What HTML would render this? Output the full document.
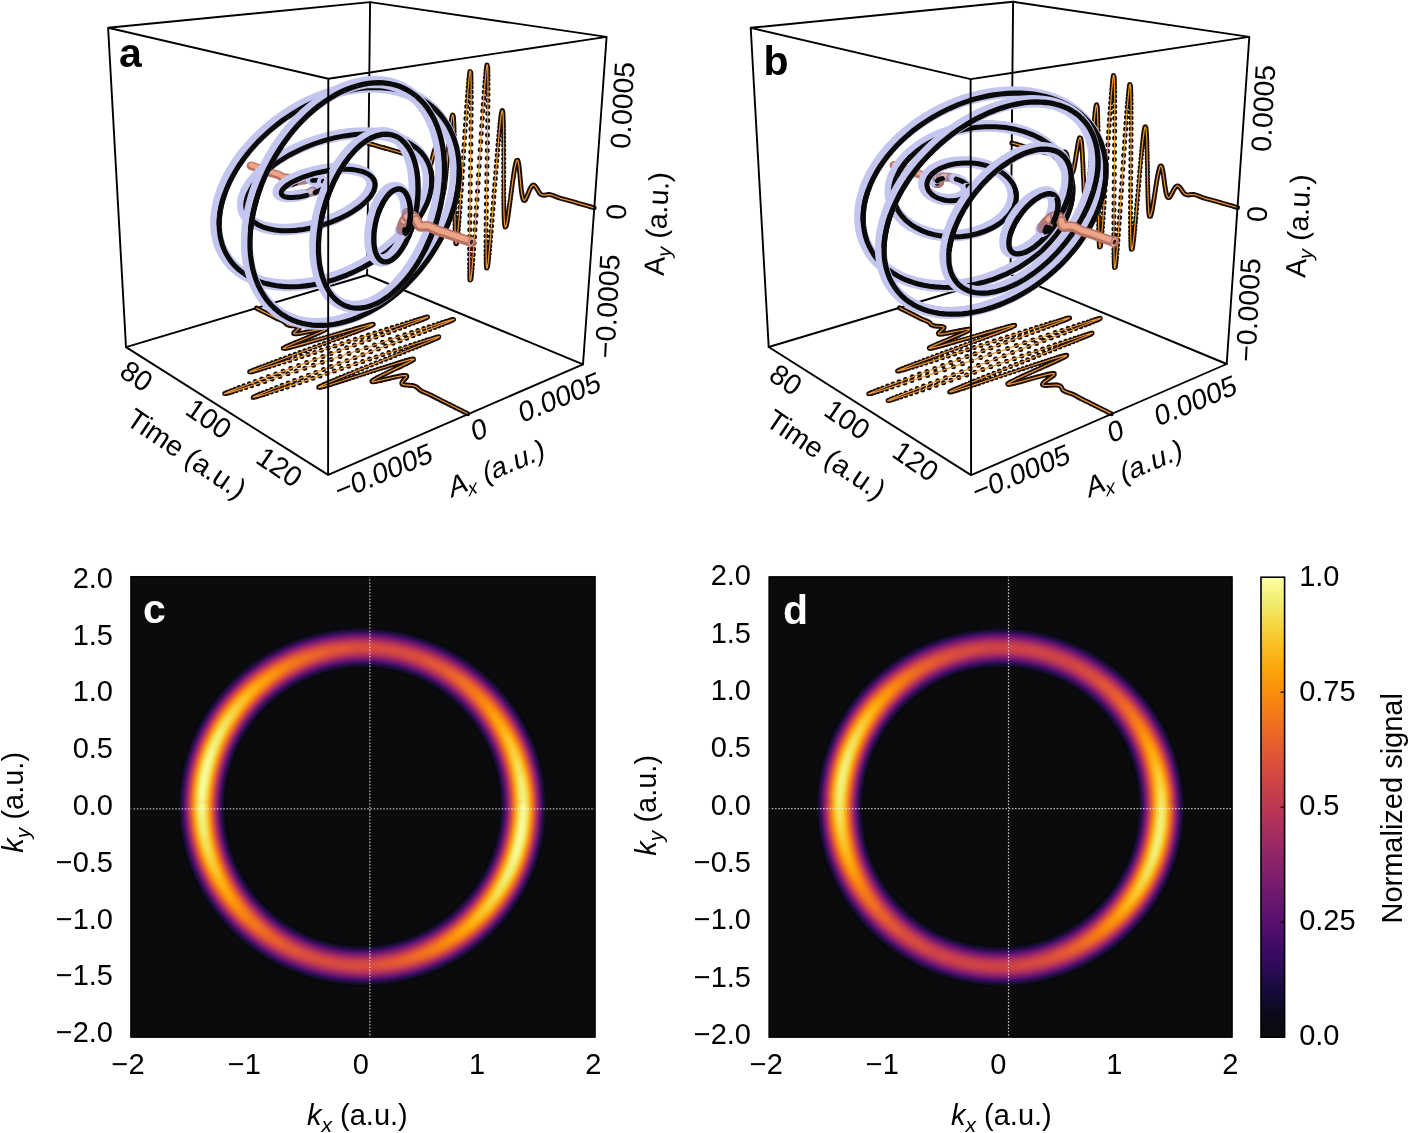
<!DOCTYPE html>
<html><head><meta charset="utf-8"><style>html,body{margin:0;padding:0;background:#fff;}svg{display:block;}</style></head>
<body><svg width="1409" height="1133" viewBox="0 0 1409 1133" style="will-change:transform">
<defs><filter id="sm" x="0" y="0" width="1" height="1"><feGaussianBlur stdDeviation="1.5"/></filter></defs>
<path d="M583.0 364.3L367.1 275.0M367.1 275.0L126.0 347.1M367.1 275.0L370.1 2.1" fill="none" stroke="#000" stroke-width="1.9" stroke-linecap="round"/>
<path d="M256.4 308.1h0m0.7 0.4h0m0.8 0.4h0m0.8 0.3h0m0.7 0.4h0m0.8 0.4h0m0.7 0.4h0m0.8 0.3h0m0.7 0.4h0m0.8 0.4h0m0.7 0.4h0m0.8 0.4h0m0.8 0.3h0m0.7 0.4h0m0.8 0.4h0m0.8 0.4h0m0.8 0.4h0m0.7 0.3h0m0.8 0.4h0m0.8 0.4h0m0.7 0.4h0m0.8 0.4h0m0.7 0.4h0m0.8 0.4h0m0.7 0.4h0m0.8 0.4h0m0.8 0.4h0m0.8 0.4h0m0.8 0.4h0m0.9 0.3h0m0.8 0.4h0m0.9 0.3h0m0.9 0.4h0m0.9 0.4h0m0.8 0.4h0m0.8 0.4h0m0.7 0.5h0m0.7 0.6h0m0.6 0.6h0m0.5 0.6h0m0.7 0.6h0m0.7 0.4h0m0.9 0.4h0m0.9 0.2h0m0.8 0.1h0m0.9 0.2h0m1 0h0m1 0.1h0m1 0.1h0m1.1 0.1h0m1 0h0m0.9 0.1h0m0.8 0.2h0m0.9 0.2h0m0.6 0.6h0m-0.3 0.9h0m-0.6 0.8h0m-0.7 0.6h0m-0.8 0.7h0m-0.9 0.7h0m-0.9 0.6h0m-0.7 0.7h0m-0.6 0.6h0m-0.3 0.7h0m1 0.4h0m1.2 0h0m1.1 0h0m1.3-0.2h0m1.6-0.2h0m0.8-0.2h0m1-0.1h0m0.9-0.2h0m1-0.2h0m1-0.2h0m1.1-0.2h0m1.1-0.2h0m1.1-0.2h0m1.1-0.3h0m1.2-0.2h0m1.1-0.3h0m1.2-0.2h0m1.1-0.2h0m1.2-0.3h0m1.1-0.2h0m1.1-0.2h0m1-0.2h0m1.1-0.2h0m0.9-0.2h0m1-0.2h0m0.8-0.1h0m0.8-0.2h0m1.4-0.1h0m1.1-0.1h0m0.9 0.1h0m-0.7 0.9h0m-1 0.6h0m-1.5 0.8h0m-1 0.5h0m-1 0.4h0m-1.1 0.5h0m-1.2 0.6h0m-1.3 0.5h0m-1.4 0.6h0m-1.5 0.7h0m-1.6 0.6h0m-1.6 0.7h0m-1.6 0.7h0m-1.8 0.7h0m-1.7 0.7h0m-1.8 0.7h0m-1.7 0.8h0m-1.8 0.7h0m-1.8 0.7h0m-1.7 0.7h0m-1.7 0.7h0m-1.7 0.7h0m-1.5 0.7h0m-1.5 0.6h0m-1.4 0.6h0m-1.3 0.6h0m-1.2 0.5h0m-1 0.5h0m-0.9 0.5h0m-0.7 0.4h0m-1 0.6h0m1.1 0.3h0m0.8-0.1h0m1.1-0.2h0m1.2-0.3h0m1.5-0.3h0m1.7-0.4h0m1.9-0.5h0m2.1-0.6h0m2.2-0.6h0m2.5-0.7h0m2.6-0.7h0m2.7-0.8h0m2.9-0.8h0m3.1-0.9h0m3.1-0.9h0m3.2-0.9h0m3.3-1h0m3.4-0.9h0m3.4-1h0m3.4-1h0m3.4-1h0m3.4-1h0m3.3-1h0m3.3-1h0m3.1-0.9h0m3.1-0.9h0m3-0.8h0m2.8-0.8h0m2.7-0.8h0m2.5-0.7h0m2.3-0.6h0m2.1-0.6h0m1.8-0.5h0m1.7-0.4h0m1.4-0.3h0m1.1-0.3h0m0.8-0.1h0m0.9 0h0m-0.9 0.7h0m-0.9 0.4h0m-1.2 0.6h0m-1.5 0.7h0m-1.9 0.7h0m-2.1 0.9h0m-2.4 0.9h0m-2.7 1.1h0m-3 1.1h0m-3.3 1.3h0m-3.5 1.3h0m-3.7 1.4h0m-4 1.5h0m-4.2 1.6h0m-4.4 1.6h0m-4.5 1.7h0m-4.7 1.7h0m-4.7 1.8h0m-4.9 1.8h0m-4.9 1.8h0m-5 1.8h0m-4.9 1.8h0m-4.9 1.8h0m-4.9 1.8h0m-4.7 1.8h0m-4.6 1.7h0m-4.4 1.6h0m-4.2 1.6h0m-3.9 1.5h0m-3.6 1.4h0m-3.4 1.3h0m-2.9 1.1h0m-2.6 1.1h0m-2.2 0.9h0m-1.8 0.7h0m-1.2 0.6h0m-0.9 0.4h0m1.8 0.1h0m1.7-0.5h0m2.3-0.6h0m2.7-0.8h0m3.2-0.9h0m3.7-1.1h0m4.1-1.3h0m4.6-1.4h0m4.9-1.5h0m5.3-1.7h0m5.7-1.7h0m5.9-1.9h0m6.2-2h0m6.4-2h0m6.5-2.1h0m6.7-2.2h0m6.8-2.1h0m6.8-2.2h0m6.9-2.2h0m6.8-2.2h0m6.7-2.2h0m6.6-2.1h0m6.5-2.1h0m6.3-2h0m6-1.9h0m5.8-1.9h0m5.6-1.8h0m5.2-1.6h0m4.9-1.5h0m4.5-1.5h0m4.1-1.2h0m3.8-1.2h0m3.3-1h0m2.8-0.8h0m2.4-0.7h0m1.9-0.5h0m1.5-0.4h0m0.9-0.2h0m-1.2 1h0m-1.6 0.7h0m-2.1 0.9h0m-2.6 1h0m-3.1 1.2h0m-3.6 1.4h0m-4 1.5h0m-4.5 1.8h0m-5 1.8h0m-5.4 2h0m-5.8 2.2h0m-6.2 2.3h0m-6.5 2.4h0m-6.9 2.5h0m-7.2 2.7h0m-7.4 2.7h0m-7.7 2.8h0m-7.8 2.9h0m-8 2.9h0m-8 2.9h0m-8.1 3h0m-8.1 3h0m-8 2.9h0m-7.9 2.9h0m-7.7 2.9h0m-7.4 2.7h0m-7.2 2.7h0m-6.8 2.5h0m-6.4 2.4h0m-5.9 2.2h0m-5.5 2.1h0m-4.8 1.8h0m-4.2 1.7h0m-3.6 1.4h0m-2.9 1.2h0m-2.2 0.9h0m-1.5 0.7h0m2 0h0m2.4-0.7h0m3.1-0.9h0m3.9-1.2h0m4.5-1.5h0m5.2-1.6h0m5.8-1.9h0m6.3-2h0m6.9-2.3h0m7.3-2.4h0m7.7-2.5h0m8.1-2.7h0m8.3-2.8h0m8.6-2.8h0m8.7-2.9h0m8.8-3h0m8.9-2.9h0m8.9-3h0m8.8-3h0m8.7-2.9h0m8.5-2.8h0m8.4-2.8h0m8-2.7h0m7.8-2.6h0m7.5-2.5h0m7.1-2.3h0m6.7-2.3h0m6.3-2h0m5.9-1.9h0m5.3-1.8h0m4.9-1.6h0m4.4-1.4h0m3.9-1.2h0m3.3-1h0m2.8-0.9h0m2.3-0.6h0m1.6-0.5h0m1.2-0.2h0m-1.2 0.9h0m-1.6 0.8h0m-2.2 0.9h0m-2.8 1.1h0m-3.2 1.3h0m-3.8 1.5h0m-4.2 1.7h0m-4.8 1.8h0m-5.1 2h0m-5.6 2.1h0m-6 2.3h0m-6.3 2.4h0m-6.7 2.5h0m-7 2.6h0m-7.2 2.8h0m-7.5 2.8h0m-7.6 2.9h0m-7.8 2.9h0m-7.9 3h0m-7.9 3h0m-8 2.9h0m-7.8 3h0m-7.8 2.9h0m-7.6 2.9h0m-7.4 2.8h0m-7.1 2.7h0m-6.8 2.6h0m-6.4 2.5h0m-6 2.3h0m-5.6 2.2h0m-5 1.9h0m-4.5 1.8h0m-3.9 1.6h0m-3.3 1.3h0m-2.7 1.2h0m-2 0.9h0m-1.3 0.6h0m-0.7 0.6h0m2.1-0.4h0m2-0.6h0m2.7-0.8h0m3.2-0.9h0m3.8-1.2h0m4.3-1.4h0m4.9-1.6h0m5.3-1.7h0m5.7-1.9h0m6-2h0m6.4-2.2h0m6.6-2.2h0m6.8-2.3h0m7-2.3h0m7.1-2.4h0m7.2-2.4h0m7.2-2.5h0m7.1-2.4h0m7.1-2.4h0m7-2.4h0m6.9-2.3h0m6.6-2.2h0m6.5-2.2h0m6.2-2.1h0m5.9-2h0m5.6-1.9h0m5.3-1.7h0m5-1.7h0m4.6-1.5h0m4.2-1.4h0m3.9-1.2h0m3.4-1.1h0m3.1-0.9h0m2.6-0.8h0m2.2-0.7h0m1.8-0.5h0m1.3-0.3h0m1-0.2h0m-0.4 0.7h0m-1.1 0.6h0m-1.4 0.7h0m-1.9 0.8h0m-2.2 0.9h0m-2.5 1.1h0m-2.8 1.2h0m-3.1 1.3h0m-3.5 1.4h0m-3.6 1.5h0m-3.9 1.6h0m-4.1 1.6h0m-4.3 1.8h0m-4.5 1.8h0m-4.5 1.8h0m-4.7 1.9h0m-4.7 1.9h0m-4.8 1.9h0m-4.8 1.9h0m-4.8 1.9h0m-4.7 1.9h0m-4.7 1.9h0m-4.5 1.8h0m-4.4 1.8h0m-4.2 1.7h0m-4.1 1.6h0m-3.8 1.6h0m-3.5 1.5h0m-3.3 1.4h0m-3.1 1.2h0m-2.7 1.2h0m-2.4 1.1h0m-2 0.9h0m-1.7 0.8h0m-1.4 0.7h0m-1 0.5h0m-1 0.7h0m1.2 0.1h0m1.1-0.2h0m1.4-0.4h0m1.7-0.4h0m2-0.6h0m2.2-0.6h0m2.5-0.8h0m2.6-0.8h0m2.9-0.9h0m3.1-1h0m3.2-1h0m3.4-1h0m3.4-1.1h0m3.5-1.2h0m3.6-1.1h0m3.6-1.2h0m3.6-1.2h0m3.6-1.2h0m3.6-1.1h0m3.5-1.1h0m3.5-1.2h0m3.3-1h0m3.3-1.1h0m3.1-1h0m3-0.9h0m2.9-0.9h0m2.7-0.9h0m2.5-0.7h0m2.4-0.7h0m2.1-0.7h0m2-0.6h0m1.8-0.5h0m1.5-0.4h0m1.4-0.3h0m1.2-0.3h0m1-0.2h0m1.3-0.2h0m0 0.9h0m-1.2 0.7h0m-0.8 0.5h0m-1 0.5h0m-1.1 0.6h0m-1.2 0.6h0m-1.3 0.7h0m-1.4 0.7h0m-1.5 0.7h0m-1.6 0.8h0m-1.6 0.8h0m-1.7 0.8h0m-1.7 0.8h0m-1.8 0.8h0m-1.7 0.8h0m-1.8 0.9h0m-1.7 0.8h0m-1.7 0.8h0m-1.7 0.8h0m-1.6 0.8h0m-1.6 0.7h0m-1.5 0.8h0m-1.4 0.7h0m-1.3 0.7h0m-1.3 0.6h0m-1.1 0.6h0m-1 0.6h0m-1 0.5h0m-0.8 0.5h0m-0.7 0.4h0m-1 0.8h0m-0.7 0.7h0m0.8 0.5h0m1-0.1h0m1.4-0.2h0m0.8-0.1h0m0.9-0.2h0m1-0.2h0m1-0.2h0m1.1-0.2h0m1.1-0.2h0m1.1-0.3h0m1.2-0.3h0m1.2-0.3h0m1.3-0.3h0m1.2-0.3h0m1.2-0.3h0m1.3-0.2h0m1.2-0.3h0m1.2-0.3h0m1.1-0.3h0m1.2-0.3h0m1.1-0.2h0m1.1-0.2h0m1-0.3h0m1-0.2h0m1-0.2h0m0.8-0.1h0m0.9-0.2h0m1.5-0.2h0m1.3-0.1h0m1-0.1h0m0.8 0.1h0m0.8 0.2h0m0.3 0.8h0m-0.5 0.8h0m-0.6 0.8h0m-0.8 0.8h0m-0.8 0.9h0m-0.8 0.8h0m-0.6 0.8h0m-0.5 0.7h0m-0.4 0.9h0m0.2 0.8h0m0.8 0.6h0m1 0.3h0m1 0.2h0m1.1 0.1h0m1.1 0.1h0m1.2 0.1h0m1.2 0.1h0m1.2 0.1h0m1.1 0.1h0m1 0.1h0m0.9 0.2h0m0.9 0.2h0m0.9 0.4h0m0.9 0.4h0m0.6 0.5h0m0.8 0.6h0m0.7 0.7h0m0.7 0.6h0m0.7 0.6h0m0.7 0.5h0m0.7 0.5h0m0.8 0.4h0m0.8 0.5h0m0.9 0.4h0m0.9 0.4h0m0.9 0.3h0m1 0.4h0m0.9 0.4h0m0.9 0.4h0m0.9 0.4h0m0.9 0.4h0m0.9 0.4h0m0.8 0.5h0m0.9 0.4h0m0.8 0.4h0m0.8 0.4h0m0.9 0.5h0m0.8 0.4h0m0.8 0.5h0m0.9 0.4h0m0.8 0.4h0m0.9 0.5h0m0.8 0.4h0m0.9 0.4h0m0.9 0.5h0m0.8 0.4h0m0.9 0.4h0m0.9 0.5h0m0.9 0.4h0m0.8 0.4h0m0.9 0.5h0m0.9 0.4h0m0.9 0.4h0m0.9 0.5h0m0.8 0.4h0m0.9 0.5h0m0.9 0.4h0m0.9 0.4h0m0.9 0.5h0m0.8 0.4h0m0.9 0.5h0m0.9 0.4h0m0.9 0.5h0m0.9 0.4h0m0.9 0.5h0m0.9 0.4h0m0.9 0.4h0m0.9 0.5h0m0.9 0.4h0m0.9 0.5h0m0.9 0.4h0m0.9 0.5h0m0.9 0.5h0m0.9 0.4h0" fill="none" stroke="#1a0d05" stroke-width="5.0" stroke-linecap="round"/>
<path d="M256.4 308.1l19.9 10.1 6.9 2.9 1.6 1.1 2.1 2.1 1.1 0.6 2.9 0.7 6.6 0.6 1.7 0.5 0.3 0.5 -0.3 0.8 -1.1 1.2 -3.9 3.3 -0.5 0.8 0.4 0.4 1.8 0.1 3.2-0.3 22.7-4.4 3.3-0.4 0.9 0.2 -0.3 0.6 -0.9 0.5 -5.1 2.5 -32.8 13.8 -3.2 1.7 -0.6 0.5 0.2 0.2 4.2-0.7 11.9-3.1 64-18.4 8.1-2.1 1.4-0.2 0.3 0.1 0 0.1 -1.8 1 -2.7 1.3 -15.4 6 -92 34.3 -9.5 3.8 -2.1 1 -0.3 0.3 0.2 0.1 1.9-0.3 6.7-1.9 25.8-7.9 126.9-40.4 14.2-4.2 2.4-0.6 0.5 0 -0.1 0.2 -1.6 0.8 -6.3 2.6 -20.2 7.7 -150.4 55.5 -21 8.2 -3.7 1.6 -0.6 0.4 0.1 0.1 2.5-0.5 5.5-1.6 25.7-8.2 160-53.2 27.7-8.9 6.7-2 1.7-0.3 -0.5 0.5 -5 2.2 -18.8 7.4 -113.8 43 -39.3 15.1 -19.4 7.8 -3.3 1.5 -0.7 0.4 0 0.2 2.1-0.4 7.9-2.3 24-7.8 128.1-43.1 17.2-5.4 5.3-1.5 1.5-0.2 0.1 0.1 -0.3 0.2 -3.2 1.7 -12.5 5.3 -66.1 26.6 -23.3 9.6 -11.9 5.2 -2.4 1.2 -1 0.7 0.1 0.2 0.4 0 1.8-0.3 7.3-2 70.4-22.4 11.2-3.2 2.2-0.5 1.7-0.1 0.2 0.2 -0.6 0.6 -4.1 2.3 -25.6 12.3 -6.6 3.4 -4.1 2.4 -0.8 0.7 -0.3 0.6 0.4 0.2 0.8 0.1 3.7-0.6 18.5-4.2 5.8-1.2 3.3-0.4 1.9 0.2 0.5 0.5 -0.3 1 -3.6 4.1 -1 1.4 -0.1 0.9 0.6 0.7 0.9 0.4 1.5 0.3 7.9 0.7 2.9 0.9 1.5 0.9 3.1 2.7 2 1.2 9 4 37.2 18.7" fill="none" stroke="#ee9630" stroke-width="1.2" stroke-linejoin="round"/>
<path d="M368.6 143.4h0m0.8 0.3h0m0.8 0.2h0m0.8 0.2h0m0.8 0.3h0m0.8 0.2h0m0.8 0.2h0m0.8 0.3h0m0.9 0.2h0m0.8 0.2h0m0.8 0.3h0m0.8 0.2h0m0.8 0.2h0m0.8 0.3h0m0.9 0.2h0m0.8 0.2h0m0.8 0.3h0m0.8 0.2h0m0.9 0.2h0m0.8 0.3h0m0.8 0.2h0m0.9 0.3h0m0.8 0.2h0m0.8 0.2h0m0.9 0.3h0m0.8 0.2h0m0.8 0.2h0m0.9 0.3h0m0.8 0.2h0m0.9 0.2h0m0.8 0.3h0m0.9 0.2h0m0.8 0.3h0m0.9 0.2h0m0.8 0.3h0m0.9 0.3h0m0.8 0.2h0m0.9 0.3h0m0.8 0.2h0m0.9 0.2h0m0.8 0.3h0m0.9 0.2h0m0.9 0.1h0m0.8 0.2h0m0.9 0.2h0m0.8 0.2h0m0.9 0.2h0m0.9 0.3h0m0.8 0.4h0m0.9 0.4h0m0.9 0.4h0m0.8 0.5h0m0.9 0.5h0m0.9 0.4h0m0.9 0.3h0m0.8 0.2h0m0.9-0.1h0m0.9-0.2h0m0.9-0.4h0m0.7-0.3h0m0.8-0.4h0m0.9-0.3h0m0.9-0.1h0m0.9 0.2h0m0.7 0.6h0m0.5 0.6h0m0.5 0.8h0m0.5 1h0m0.4 0.7h0m0.3 0.8h0m0.3 0.9h0m0.4 0.8h0m0.3 0.9h0m0.4 0.8h0m0.3 0.8h0m0.3 0.8h0m0.6 0.9h0m0.5 0.7h0m0.7 0.5h0m0.9-0.5h0m0.6-0.9h0m0.4-0.8h0m0.4-1h0m0.4-1.2h0m0.4-1.4h0m0.4-1.4h0m0.2-0.8h0m0.2-0.8h0m0.2-0.8h0m0.2-0.8h0m0.2-0.9h0m0.2-0.8h0m0.2-0.8h0m0.2-0.8h0m0.2-0.8h0m0.4-1.5h0m0.5-1.4h0m0.4-1.2h0m0.4-0.9h0m0.5-0.8h0m0.9 0.4h0m0.4 0.9h0m0.3 1.3h0m0.2 0.8h0m0.1 0.9h0m0.2 1h0m0.2 1.1h0m0.1 1.2h0m0.1 1.3h0m0.2 1.4h0m0.1 1.5h0m0.2 1.5h0m0.1 1.6h0m0.1 1.7h0m0.2 1.7h0m0.1 1.7h0m0.1 1.8h0m0.2 1.8h0m0.1 1.9h0m0.1 1.8h0m0.2 1.8h0m0.1 1.8h0m0.1 1.8h0m0.2 1.7h0m0.1 1.6h0m0.1 1.6h0m0.2 1.5h0m0.1 1.5h0m0.2 1.3h0m0.1 1.2h0m0.2 1.1h0m0.1 0.9h0m0.2 0.8h0m0.3 1.2h0m0.9-0.2h0m0.5-1.3h0m0.2-1h0m0.2-1.2h0m0.2-1.3h0m0.3-1.6h0m0.2-1.7h0m0.3-1.9h0m0.2-2.1h0m0.3-2.2h0m0.2-2.4h0m0.3-2.5h0m0.3-2.6h0m0.2-2.8h0m0.3-2.9h0m0.3-2.9h0m0.3-3.1h0m0.3-3h0m0.3-3.2h0m0.3-3.1h0m0.2-3.1h0m0.3-3.1h0m0.3-3.1h0m0.3-3h0m0.3-2.9h0m0.3-2.8h0m0.3-2.7h0m0.2-2.6h0m0.3-2.3h0m0.3-2.2h0m0.2-2h0m0.3-1.7h0m0.2-1.5h0m0.2-1.3h0m0.3-0.9h0m0.4-1.1h0m0.5 0.7h0m0.2 0.9h0m0.2 1.2h0m0.1 1.5h0m0.1 1.9h0m0.1 2.1h0m0.2 2.5h0m0.1 2.8h0m0 3.1h0m0.1 3.3h0m0.1 3.6h0m0.1 3.8h0m0 4.1h0m0.1 4.3h0m0 4.4h0m0 4.6h0m0.1 4.7h0m0 4.8h0m0 4.9h0m0 4.9h0m0.1 5h0m0 4.9h0m0 4.9h0m0 4.8h0m0.1 4.7h0m0 4.6h0m0 4.4h0m0.1 4.2h0m0 4h0m0.1 3.8h0m0.1 3.5h0m0 3.2h0m0.1 2.8h0m0.1 2.6h0m0.1 2.2h0m0.2 1.8h0m0.1 1.4h0m0.1 1h0m0.4 0.8h0m0.4-1h0m0.2-1.1h0m0.3-1.6h0m0.2-2h0m0.3-2.4h0m0.3-2.9h0m0.3-3.3h0m0.3-3.6h0m0.4-4.1h0m0.3-4.5h0m0.4-4.8h0m0.4-5.1h0m0.3-5.4h0m0.4-5.7h0m0.5-6h0m0.4-6.2h0m0.4-6.3h0m0.4-6.6h0m0.5-6.6h0m0.4-6.7h0m0.4-6.7h0m0.5-6.7h0m0.4-6.7h0m0.4-6.6h0m0.5-6.4h0m0.4-6.3h0m0.4-6h0m0.4-5.8h0m0.4-5.5h0m0.4-5.1h0m0.4-4.8h0m0.3-4.3h0m0.4-3.9h0m0.3-3.4h0m0.3-2.9h0m0.3-2.3h0m0.3-1.8h0m0.2-1.2h0m0.8 1.1h0m0.1 1.8h0m0.1 2.4h0m0.1 3h0m0.1 3.5h0m0 4.1h0m0 4.7h0m0.1 5.1h0m-0.1 5.6h0m0 6.1h0m0 6.4h0m-0.1 6.8h0m-0.1 7.1h0m0 7.4h0m-0.1 7.7h0m-0.1 7.8h0m-0.1 7.9h0m-0.2 8.1h0m-0.1 8h0m-0.1 8.1h0m-0.1 8h0m-0.1 7.9h0m-0.1 7.8h0m-0.1 7.5h0m-0.1 7.3h0m-0.1 7.1h0m0 6.7h0m-0.1 6.4h0m0 5.9h0m0 5.6h0m0 5.1h0m0 4.6h0m0 4h0m0.1 3.6h0m0 3h0m0.1 2.4h0m0.1 1.9h0m0.2 1.2h0m0.8-1h0m0.3-1.8h0m0.3-2.4h0m0.3-2.9h0m0.3-3.5h0m0.4-4.1h0m0.3-4.6h0m0.4-5.1h0m0.4-5.6h0m0.5-6h0m0.4-6.4h0m0.5-6.9h0m0.5-7.2h0m0.5-7.4h0m0.5-7.8h0m0.5-8h0m0.5-8.1h0m0.6-8.3h0m0.5-8.3h0m0.5-8.4h0m0.6-8.3h0m0.5-8.3h0m0.6-8.2h0m0.5-8h0m0.5-7.7h0m0.5-7.5h0m0.5-7.2h0m0.5-6.8h0m0.5-6.3h0m0.4-5.9h0m0.4-5.5h0m0.4-4.8h0m0.4-4.4h0m0.4-3.7h0m0.3-3.1h0m0.3-2.5h0m0.3-1.8h0m0.3-1.2h0m0.7 2.1h0m0.1 2.1h0m0.1 2.8h0m0.1 3.3h0m0 4h0m0 4.5h0m0 5h0m0 5.5h0m0 6h0m-0.1 6.3h0m-0.1 6.7h0m-0.1 7h0m-0.1 7.2h0m-0.1 7.5h0m-0.1 7.7h0m-0.1 7.7h0m-0.1 7.8h0m-0.2 7.9h0m-0.1 7.8h0m-0.1 7.8h0m-0.2 7.6h0m-0.1 7.5h0m-0.1 7.2h0m-0.1 7.1h0m-0.1 6.7h0m-0.1 6.4h0m0 6.1h0m-0.1 5.7h0m0 5.3h0m0 4.9h0m0 4.5h0m0 3.9h0m0.1 3.5h0m0.1 3h0m0 2.5h0m0.2 1.9h0m0.1 1.5h0m0.2 0.9h0m0.8-1.4h0m0.3-1.7h0m0.3-2h0m0.3-2.6h0m0.3-3h0m0.4-3.4h0m0.3-3.8h0m0.4-4.2h0m0.4-4.5h0m0.4-4.8h0m0.5-5.1h0m0.4-5.4h0m0.5-5.5h0m0.4-5.8h0m0.5-5.9h0m0.5-6h0m0.4-6.1h0m0.5-6.1h0m0.5-6.1h0m0.5-6.1h0m0.5-6h0m0.4-5.9h0m0.5-5.8h0m0.5-5.5h0m0.4-5.4h0m0.4-5.1h0m0.5-4.8h0m0.4-4.6h0m0.4-4.2h0m0.4-3.9h0m0.3-3.5h0m0.4-3.1h0m0.3-2.7h0m0.3-2.3h0m0.3-1.8h0m0.3-1.5h0m0.3-1h0m0.4-0.8h0m0.4 1h0m0.2 1h0m0.1 1.5h0m0.1 1.8h0m0.1 2.2h0m0.1 2.6h0m0.1 2.8h0m0.1 3.1h0m0 3.4h0m0.1 3.6h0m0 3.8h0m0 4h0m0.1 4.2h0m0 4.3h0m0 4.3h0m0 4.5h0m0 4.5h0m0 4.4h0m0 4.5h0m0 4.4h0m0 4.4h0m0 4.3h0m0 4.1h0m0 4h0m0 3.9h0m0.1 3.6h0m0 3.5h0m0.1 3.3h0m0 3h0m0.1 2.8h0m0.1 2.6h0m0.1 2.3h0m0.1 2.1h0m0.1 1.8h0m0.2 1.5h0m0.1 1.2h0m0.2 1h0m0.3 1.1h0m0.9-0.9h0m0.3-0.9h0m0.2-1h0m0.3-1.3h0m0.3-1.5h0m0.3-1.6h0m0.2-1.8h0m0.4-2h0m0.3-2.1h0m0.3-2.3h0m0.3-2.3h0m0.3-2.5h0m0.4-2.5h0m0.3-2.6h0m0.4-2.6h0m0.3-2.6h0m0.3-2.6h0m0.4-2.7h0m0.3-2.6h0m0.4-2.5h0m0.3-2.5h0m0.3-2.4h0m0.4-2.4h0m0.3-2.2h0m0.3-2.1h0m0.3-2h0m0.3-1.9h0m0.3-1.8h0m0.3-1.6h0m0.3-1.4h0m0.3-1.3h0m0.2-1.1h0m0.3-1h0m0.3-0.8h0m0.4-1h0m0.9-0.3h0m0.4 0.8h0m0.4 1.4h0m0.1 0.8h0m0.2 1h0m0.2 1h0m0.1 1.2h0m0.2 1.2h0m0.1 1.3h0m0.2 1.4h0m0.1 1.4h0m0.2 1.5h0m0.1 1.5h0m0.1 1.5h0m0.2 1.5h0m0.1 1.6h0m0.1 1.5h0m0.2 1.5h0m0.1 1.5h0m0.2 1.5h0m0.1 1.4h0m0.1 1.4h0m0.2 1.3h0m0.1 1.2h0m0.2 1.2h0m0.2 1.1h0m0.1 1.1h0m0.2 1h0m0.1 0.9h0m0.2 0.8h0m0.4 1.4h0m0.4 1h0m0.3 0.7h0m0.9 0.5h0m0.7-0.5h0m0.7-1h0m0.4-0.9h0m0.5-1h0m0.5-1.2h0m0.5-1.2h0m0.5-1.2h0m0.5-1.3h0m0.5-1.2h0m0.5-1.2h0m0.5-1h0m0.5-1h0m0.5-0.8h0m0.5-0.7h0m0.7-0.7h0m0.9-0.4h0m0.9 0.2h0m0.8 0.7h0m0.6 0.7h0m0.6 0.9h0m0.7 1h0m0.4 0.7h0m0.4 0.7h0m0.6 1.1h0m0.6 0.9h0m0.6 0.9h0m0.6 0.7h0m0.7 0.6h0m0.8 0.5h0m0.9 0.4h0m0.9 0.1h0m0.9 0h0m0.9-0.2h0m0.9-0.1h0m0.9-0.2h0m0.9-0.1h0m0.9 0h0m0.9 0h0m0.9 0.1h0m0.9 0.2h0m0.9 0.3h0m0.9 0.4h0m0.9 0.3h0m0.9 0.4h0m0.9 0.4h0m0.9 0.4h0m0.9 0.3h0m0.9 0.4h0m0.9 0.3h0m0.9 0.2h0m0.9 0.3h0m0.9 0.2h0m0.9 0.3h0m0.9 0.2h0m1 0.2h0m0.9 0.2h0m0.9 0.3h0m0.9 0.2h0m0.9 0.3h0m0.9 0.2h0m1 0.3h0m0.9 0.3h0m0.9 0.2h0m0.9 0.3h0m1 0.3h0m0.9 0.2h0m0.9 0.3h0m1 0.3h0m0.9 0.3h0m0.9 0.2h0m1 0.3h0m0.9 0.3h0m0.9 0.2h0m1 0.3h0m0.9 0.3h0m1 0.2h0m0.9 0.3h0m1 0.3h0m0.9 0.2h0m0.9 0.3h0m1 0.3h0m0.9 0.2h0m1 0.3h0m1 0.3h0m0.9 0.3h0m1 0.2h0" fill="none" stroke="#1a0d05" stroke-width="5.0" stroke-linecap="round"/>
<path d="M368.6 143.4l31.5 9.1 6.9 1.6 1.9 0.7 3.7 2 1.5 0.6 2 0 3.8-1.6 0.9-0.1 0.7 0.1 0.9 0.7 0.8 1.1 1.1 2 2.5 6.1 0.9 1.3 0.7 0.5 0.5-0.2 0.6-0.6 1-1.9 1.2-3.8 3.1-11.5 0.9-2.1 0.4-0.3 0.4 0.1 0.5 0.8 0.4 1.1 0.8 4.5 0.8 8.5 2 25.7 0.8 5.3 0.5 1.5 0.4 0.1 0.6-1.2 0.4-1.7 1.2-7.7 1.3-11.8 4.5-46.6 1.2-8.7 0.5-1.6 0.4-0.5 0.5 1.7 0.3 2.7 0.5 12.4 0.4 23.5 0.5 69.2 0.4 14.3 0.4 4.2 0.4 0.8 0.4-1 0.7-4.7 1.9-20.8 8.7-126 1.6-16.8 0.5-3 0.2-0.7 0.2 0 0.4 1.8 0.3 7.2 0.1 23 -1.5 127 -0.1 29.7 0.2 17.6 0.3 3.1 0.2 0.7 0.1 0 0.5-1.7 0.9-7.1 1.8-22.9 8.2-123.3 2.4-33.7 1.9-21.5 0.6-4.3 0.5-1.7 0.2 0.2 0.2 0.9 0.2 3.6 0.2 19.6 -0.3 31.5 -1.7 115.7 0.2 25.1 0.3 5.9 0.3 1.3 0.5-0.7 0.8-4.8 1.7-17 7.4-90.6 2.1-24.1 1.7-15.5 0.6-3.3 0.3-1 0.4-0.8 0.4 1 0.3 2.5 0.5 12.5 0.2 66.7 0.2 17.3 0.5 11.6 0.3 2.7 0.5 2.1 0.2 0.1 0.2-0.1 0.8-1.8 1.3-7.2 5-36.8 1.9-12.4 1.4-6.4 0.5-1.4 0.7-0.9 0.4 0.2 0.4 0.8 0.9 4.2 2.2 22.9 0.8 5.9 1.1 4.6 0.3 0.9 0.7 0.7 0.4 0.1 0.4-0.3 1.2-1.6 3.7-8.8 1.5-2.8 1.2-1.4 1.1-0.4 0.9 0.3 1 1 3.3 5.3 1.2 1.7 1.1 0.9 1.1 0.6 2 0.3 4.7-0.6 2.3 0.2 9.2 3.5 9.1 2.4 24.9 7.1" fill="none" stroke="#ee9630" stroke-width="1.2" stroke-linejoin="round"/>
<path d="M251.0 165.8l20.3 7.1 7.1 2.1 1.5 0.7 2.1 1.4 1 0.4 2.2 0.4 6.2 0.5" fill="none" stroke="#b87061" stroke-width="8.6" stroke-linecap="round"/>
<path d="M251.0 165.8l20.3 7.1 7.1 2.1 1.5 0.7 2.1 1.4 1 0.4 2.2 0.4 6.2 0.5" fill="none" stroke="#eca587" stroke-width="4.6" stroke-linecap="round" transform="translate(0 -0.8)"/>
<path d="M291.4 178.4l2.8 0.5" fill="none" stroke="#b2736d" stroke-width="8.6" stroke-linecap="round"/>
<path d="M291.4 178.4l2.8 0.5" fill="none" stroke="#e5aa98" stroke-width="4.6" stroke-linecap="round" transform="translate(0 -0.8)"/>
<path d="M294.2 178.9l0.9 0.5 0.4 0.4" fill="none" stroke="#ad777a" stroke-width="8.6" stroke-linecap="round"/>
<path d="M294.2 178.9l0.9 0.5 0.4 0.4" fill="none" stroke="#deb0aa" stroke-width="4.6" stroke-linecap="round" transform="translate(0 -0.8)"/>
<path d="M295.5 179.8l0 0.4 -0.2 0.6" fill="none" stroke="#b2736d" stroke-width="8.6" stroke-linecap="round"/>
<path d="M295.5 179.8l0 0.4 -0.2 0.6" fill="none" stroke="#e5aa98" stroke-width="4.6" stroke-linecap="round" transform="translate(0 -0.8)"/>
<path d="M295.3 180.8l-0.9 0.8 -1.6 0.9" fill="none" stroke="#b87061" stroke-width="8.6" stroke-linecap="round"/>
<path d="M295.3 180.8l-0.9 0.8 -1.6 0.9" fill="none" stroke="#eca587" stroke-width="4.6" stroke-linecap="round" transform="translate(0 -0.8)"/>
<path d="M292.8 182.5l-0.9 0.4" fill="none" stroke="#b2736d" stroke-width="8.6" stroke-linecap="round"/>
<path d="M292.8 182.5l-0.9 0.4" fill="none" stroke="#e5aa98" stroke-width="4.6" stroke-linecap="round" transform="translate(0 -0.8)"/>
<path d="M291.9 182.9l-0.8 0.3" fill="none" stroke="#ad777a" stroke-width="8.6" stroke-linecap="round"/>
<path d="M291.9 182.9l-0.8 0.3" fill="none" stroke="#deb0aa" stroke-width="4.6" stroke-linecap="round" transform="translate(0 -0.8)"/>
<path d="M291.1 183.2l-0.8 0.2" fill="none" stroke="#a87b86" stroke-width="8.6" stroke-linecap="round"/>
<path d="M291.1 183.2l-0.8 0.2" fill="none" stroke="#d8b5bb" stroke-width="4.6" stroke-linecap="round" transform="translate(0 -0.8)"/>
<path d="M290.3 183.4l-0.6 0.1" fill="none" stroke="#a37f93" stroke-width="8.6" stroke-linecap="round"/>
<path d="M290.3 183.4l-0.6 0.1" fill="none" stroke="#d1bbcd" stroke-width="4.6" stroke-linecap="round" transform="translate(0 -0.8)"/>
<path d="M289.7 183.5l-0.3 0 0.2-0.2" fill="none" stroke="#9d829f" stroke-width="8.6" stroke-linecap="round"/>
<path d="M289.7 183.5l-0.3 0 0.2-0.2" fill="none" stroke="#cac0de" stroke-width="4.6" stroke-linecap="round" transform="translate(0 -0.8)"/>
<path d="M289.6 183.3l0.5-0.3" fill="none" stroke="#c4c6f0" stroke-width="11.0" stroke-linecap="round"/>
<path d="M290.1 183.0l1.4-0.5" fill="none" stroke="#9d829f" stroke-width="8.6" stroke-linecap="round"/>
<path d="M290.1 183.0l1.4-0.5" fill="none" stroke="#cac0de" stroke-width="4.6" stroke-linecap="round" transform="translate(0 -0.8)"/>
<path d="M292.7 184.5l-0.3 0 0.3-0.3 2.6-0.9" fill="none" stroke="#0a0a0a" stroke-width="4.8" stroke-linecap="round"/>
<path d="M291.5 182.5l1.3-0.4" fill="none" stroke="#9d829f" stroke-width="8.8" stroke-linecap="round"/>
<path d="M291.5 182.5l1.3-0.4" fill="none" stroke="#cac0de" stroke-width="4.7" stroke-linecap="round" transform="translate(0 -0.8)"/>
<path d="M292.8 182.1l1.4-0.4" fill="none" stroke="#a37f93" stroke-width="8.8" stroke-linecap="round"/>
<path d="M292.8 182.1l1.4-0.4" fill="none" stroke="#d1bbcd" stroke-width="4.7" stroke-linecap="round" transform="translate(0 -0.8)"/>
<path d="M294.2 181.7l2.5-0.5" fill="none" stroke="#a87b86" stroke-width="8.8" stroke-linecap="round"/>
<path d="M294.2 181.7l2.5-0.5" fill="none" stroke="#d8b5bb" stroke-width="4.7" stroke-linecap="round" transform="translate(0 -0.8)"/>
<path d="M296.7 181.2l2-0.5" fill="none" stroke="#ad777a" stroke-width="8.8" stroke-linecap="round"/>
<path d="M296.7 181.2l2-0.5" fill="none" stroke="#deb0aa" stroke-width="4.7" stroke-linecap="round" transform="translate(0 -0.8)"/>
<path d="M298.7 180.7l5.6-0.9" fill="none" stroke="#b2736d" stroke-width="8.8" stroke-linecap="round"/>
<path d="M298.7 180.7l5.6-0.9" fill="none" stroke="#e5aa98" stroke-width="4.7" stroke-linecap="round" transform="translate(0 -0.8)"/>
<path d="M304.3 179.8l1.7-0.2" fill="none" stroke="#ad777a" stroke-width="8.8" stroke-linecap="round"/>
<path d="M304.3 179.8l1.7-0.2" fill="none" stroke="#deb0aa" stroke-width="4.7" stroke-linecap="round" transform="translate(0 -0.8)"/>
<path d="M306.0 179.6l1.7-0.1" fill="none" stroke="#a87b86" stroke-width="8.8" stroke-linecap="round"/>
<path d="M306.0 179.6l1.7-0.1" fill="none" stroke="#d8b5bb" stroke-width="4.7" stroke-linecap="round" transform="translate(0 -0.8)"/>
<path d="M307.7 179.5l1.7-0.1" fill="none" stroke="#a37f93" stroke-width="8.8" stroke-linecap="round"/>
<path d="M307.7 179.5l1.7-0.1" fill="none" stroke="#d1bbcd" stroke-width="4.7" stroke-linecap="round" transform="translate(0 -0.8)"/>
<path d="M309.4 179.4l1.8-0.1" fill="none" stroke="#9d829f" stroke-width="8.8" stroke-linecap="round"/>
<path d="M309.4 179.4l1.8-0.1" fill="none" stroke="#cac0de" stroke-width="4.7" stroke-linecap="round" transform="translate(0 -0.8)"/>
<path d="M311.2 179.3l4 0.1 3.5 0.5 2.6 0.9 1.3 1.1" fill="none" stroke="#c4c6f0" stroke-width="11.3" stroke-linecap="round"/>
<path d="M292.9 184.1l2.4-0.8" fill="none" stroke="#0a0a0a" stroke-width="4.9" stroke-linecap="round"/>
<path d="M312.4 180.4l5.8 0 2.9 0.4 1.8 0.4 1.8 0.9 0.9 0.8 0.4 0.9 -0.1 1.2" fill="none" stroke="#0a0a0a" stroke-width="4.9" stroke-linecap="round"/>
<path d="M279.6 188.5l2.1-2.4 2.1-1.6 5.4-3.5 7-3.4 8.5-3.1 9.4-2.7 7.6-1.6 10.2-1.5 7.5-0.4 7.2 0.1 6.6 0.8 5.8 1.3 5 2 2.7 1.7 1.1 1 1.9 2 0.8 1.2 1 2.4 0.3 1.3 0.1 2.7 -0.2 1.5" fill="none" stroke="#c4c6f0" stroke-width="11.4" stroke-linecap="round"/>
<path d="M281.3 193.5l0.1-1.8 1.2-2.2 2.2-2.3 2-1.7 3.9-2.5 3.1-1.8 5.5-2.5 4-1.7 6.7-2.2 4.8-1.4 9.9-2.2 7.7-1.2 5.1-0.5 5-0.2 4.8 0 4.7 0.3 4.3 0.5 5.9 1.4 3.4 1.3 2.9 1.5 2.5 1.8 1 1.1 1.6 2.1 1 2.5 0.4 2.6 0 1.4 -0.5 3 -1.2 3 -1.8 3.2 -1.2 1.7" fill="none" stroke="#0a0a0a" stroke-width="5.0" stroke-linecap="round"/>
<path d="M322.6 181.9l0.4 0.9 -0.1 1.1 -0.7 1.3 -0.7 0.8 -1.6 1.4 -2.1 1.4 -4.5 2.3" fill="none" stroke="#c4c6f0" stroke-width="11.5" stroke-linecap="round"/>
<path d="M313.3 191.1l-1.1 0.5" fill="none" stroke="#9d829f" stroke-width="8.9" stroke-linecap="round"/>
<path d="M313.3 191.1l-1.1 0.5" fill="none" stroke="#cac0de" stroke-width="4.8" stroke-linecap="round" transform="translate(0 -0.8)"/>
<path d="M312.2 191.6l-4.6 1.7 -3.8 1.1" fill="none" stroke="#a37f93" stroke-width="8.9" stroke-linecap="round"/>
<path d="M312.2 191.6l-4.6 1.7 -3.8 1.1" fill="none" stroke="#d1bbcd" stroke-width="4.8" stroke-linecap="round" transform="translate(0 -0.8)"/>
<path d="M303.8 194.4l-1.3 0.3" fill="none" stroke="#9d829f" stroke-width="8.9" stroke-linecap="round"/>
<path d="M303.8 194.4l-1.3 0.3" fill="none" stroke="#cac0de" stroke-width="4.8" stroke-linecap="round" transform="translate(0 -0.8)"/>
<path d="M302.5 194.7l-6.6 1.3 -5.2 0.5 -4.6-0.1 -3.9-0.7 -1.5-0.6 -1.2-0.7 -1.1-1.4 -0.2-1.1 0.2-1.3 1.2-2.1" fill="none" stroke="#c4c6f0" stroke-width="11.5" stroke-linecap="round"/>
<path d="M323.4 181.4l1.7 0.9 0.8 1.2 0 1.5 -0.7 1.2 -1.7 1.8 -1.9 1.4 -3.3 1.8 -3.1 1.4" fill="none" stroke="#0a0a0a" stroke-width="5.0" stroke-linecap="round"/>
<path d="M306.8 195.4l-7.9 1.7 -6.4 0.5 -3.4-0.1 -2.1-0.2 -2.6-0.7 -1.3-0.7 -1.4-1.3 -0.4-1.1 0-1.2 0.4-1.3 0.9-1.5 1.3-1.5 1.8-1.6 2.3-1.7" fill="none" stroke="#0a0a0a" stroke-width="5.0" stroke-linecap="round"/>
<path d="M246.5 190.5l3.4-5.8 4.6-5.9 5.5-5.8 6.6-5.8 7.4-5.5 8.2-5.3 8.9-4.9 4.7-2.3 9.7-4.2 10-3.7 10.3-3 5.2-1.3 10.4-2.1 10.3-1.3 10-0.6 4.9 0 9.5 0.6 8.9 1.3 8.3 2.1 3.9 1.3 3.7 1.5 3.5 1.6 3.3 1.9 3.1 2 2.8 2.2 2.6 2.3 2.4 2.5 2.2 2.7 1.9 2.7 1.6 3 1.4 3 1.1 3.2 0.8 3.3 0.6 3.3 0.3 3.5 0.1 3.6 -0.2 3.7 -0.5 3.7 -0.8 3.8" fill="none" stroke="#c4c6f0" stroke-width="11.6" stroke-linecap="round"/>
<path d="M245.9 207.6l-0.1-2.5 0.2-2.5 0.5-2.7 0.7-2.7 1.1-2.8 2.8-5.7 1.9-2.9 4.6-5.9 5.5-5.8 3.2-2.9 7-5.7 7.9-5.5 8.5-5.1 9.3-4.7 4.8-2.2 9.9-4 10.2-3.4 10.3-2.7 10.4-2 10.3-1.4 10-0.6 9.7 0.2 9.2 0.9 8.7 1.7 7.9 2.5 3.7 1.5 3.5 1.6 3.3 1.9 3.1 2 2.9 2.2 2.6 2.3 2.4 2.5 2.1 2.7 1.9 2.8 1.6 2.9 1.4 3 1.1 3.2 0.9 3.3 0.6 3.4 0.3 3.5 0 3.6 -0.2 3.7 -0.5 3.7 -0.8 3.8 -1 3.9 -2.9 7.9 -4 7.9 -2.3 4.1" fill="none" stroke="#0a0a0a" stroke-width="5.0" stroke-linecap="round"/>
<path d="M371.7 186.3l-0.8 2.9 -0.7 1.6 -1.9 3.2 -2.4 3.3 -3.2 3.3 -5.8 5 -4.7 3.3 -5.1 3.2 -5.7 3.1 -6.2 2.9 -6.5 2.7 -6.8 2.4 -7.2 2.1 -7.2 1.7 -7.4 1.3 -7.3 0.9 -7.3 0.4 -7-0.1 -6.6-0.7 -6.3-1.2 -2.9-0.8 -5.3-2.1 -2.5-1.2 -4.3-2.9 -1.8-1.7 -1.6-1.7 -1.4-2 -1.1-2 -0.9-2.1 -0.6-2.3 -0.3-2.4 -0.1-2.4 0.2-2.6 0.4-2.6 0.8-2.7 1-2.8 1.3-2.8" fill="none" stroke="#c4c6f0" stroke-width="11.7" stroke-linecap="round"/>
<path d="M373.6 179.3l1 2.5 0.3 1.3 0.1 2.7 -0.2 1.5 -0.8 3 -0.7 1.5 -1.8 3.2 -1.2 1.7 -4.5 5 -5.8 5 -7.2 4.9 -5.4 3.2 -9.1 4.4 -6.5 2.7 -10.4 3.5 -7.2 2 -11 2.1 -7.4 0.9 -7.2 0.4 -7-0.1 -6.7-0.7 -6.2-1.2 -5.7-1.7 -5-2.4 -4.3-2.9 -1.8-1.6 -1.7-1.8 -1.3-1.9 -1.1-2.1 -0.9-2.1 -0.6-2.3 -0.4-2.4 -0.1-2.5 0.2-2.5 0.5-2.7 0.7-2.7 1.1-2.8 2.8-5.7 4-5.8 5.1-5.9 2.9-2.9" fill="none" stroke="#0a0a0a" stroke-width="5.1" stroke-linecap="round"/>
<path d="M427.1 191.8l-1.1 3.9 -1.3 3.9 -1.5 3.9 -4 8 -4.9 8 -6 7.9 -6.9 7.8 -7.9 7.5 -8.6 7.3 -9.4 6.8 -10.1 6.3 -10.7 5.7 -11.2 5 -11.5 4.2 -11.8 3.4 -5.9 1.3 -5.9 1 -6 0.8 -5.8 0.5 -5.9 0.3 -5.7 0 -5.7-0.4 -5.6-0.6 -5.4-0.9 -5.3-1.2 -5.1-1.6 -4.8-1.8 -4.7-2.2 -4.4-2.4 -4.2-2.8 -3.9-3.1 -3.6-3.3 -3.3-3.7 -2.9-3.9 -2.6-4.2 -2.2-4.4 -1.9-4.7 -1.4-4.9 -1.1-5.1 -0.6-5.4 -0.3-5.5 0.2-5.6 0.6-5.8 1-5.9 1.5-6 1.8-6 2.3-6.1" fill="none" stroke="#c4c6f0" stroke-width="11.8" stroke-linecap="round"/>
<path d="M430.9 171.1l0.6 3.4 0.3 3.5 0 3.6 -0.2 3.7 -0.5 3.7 -0.8 3.8 -1 3.9 -1.3 3.9 -1.6 4 -4 7.9 -4.9 8.1 -2.9 3.9 -6.5 7.9 -7.4 7.8 -4 3.7 -8.6 7.3 -9.5 6.8 -4.9 3.3 -10.5 6 -10.9 5.4 -5.7 2.4 -11.5 4.3 -11.8 3.3 -5.9 1.3 -5.9 1.1 -6 0.8 -5.8 0.6 -5.9 0.2 -5.8 0 -5.6-0.3 -5.6-0.6 -5.4-1 -5.3-1.2 -5.1-1.5 -4.9-1.9 -4.6-2.1 -4.5-2.5 -4.1-2.8 -3.9-3 -3.6-3.4 -3.3-3.6 -2.9-4 -2.6-4.2 -2.2-4.4 -1.9-4.7 -1.4-5 -1.1-5.1 -0.6-5.3 -0.3-5.5 0.2-5.7 0.6-5.8 1-5.9 1.5-6 1.9-6.1 2.2-6.1 2.7-6.1 3.1-6.1 3.4-6.1 3.8-6 4.2-6 4.5-5.8" fill="none" stroke="#0a0a0a" stroke-width="5.1" stroke-linecap="round"/>
<path d="M223.4 187.8l2.7-6.1 3-6.1 3.5-6.1 3.8-6 4.1-5.9 4.5-5.8 4.9-5.6 5.1-5.6 5.4-5.3 5.6-5.2 5.9-4.9 6-4.7 6.3-4.4 6.4-4.2 6.6-3.9 6.6-3.6 6.8-3.3 6.8-2.9 6.8-2.7 6.9-2.3 6.8-1.9 6.8-1.6 6.8-1.3 6.6-0.9 6.6-0.5 6.4-0.3 6.3 0.2 6.1 0.5 6 0.8 5.8 1.2 5.6 1.4 5.3 1.9 5.1 2.1 4.9 2.4 4.7 2.7 4.3 3.1 4.1 3.2 3.9 3.6 3.5 3.8 3.3 4 2.9 4.3 2.7 4.5 2.3 4.7 2.1 4.9 1.8 5.1 1.4 5.2 1.1 5.4 0.9 5.5 0.5 5.6 0.2 5.8 -0.1 5.8 -0.4 5.9 -0.6 6 -1 6 -1.3 6.1 -1.5 6.1" fill="none" stroke="#c4c6f0" stroke-width="11.9" stroke-linecap="round"/>
<path d="M219.1 224.6l0.2-5.7 0.6-5.8 1-5.9 1.5-6 1.9-6.1 2.2-6.1 2.7-6.1 3.1-6.1 3.4-6.1 3.8-6 4.2-6 4.5-5.8 4.9-5.7 5.1-5.6 5.4-5.3 5.6-5.2 5.9-4.9 6.1-4.8 6.3-4.4 6.4-4.2 6.6-3.9 6.6-3.6 6.8-3.3 6.8-3 6.9-2.6 6.8-2.3 6.9-2 6.8-1.6 6.7-1.3 6.7-0.9 6.5-0.6 6.5-0.2 6.3 0.2 6.1 0.4 6 0.9 5.8 1.1 5.5 1.5 5.4 1.8 5.1 2.2 4.9 2.4 4.6 2.7 4.4 3 4.1 3.3 3.9 3.6 3.5 3.8 3.2 4.1 3 4.3 2.7 4.5 2.3 4.7 2.1 4.9 1.7 5 1.5 5.3 1.1 5.4 0.8 5.5 0.5 5.6 0.3 5.8 -0.1 5.9 -0.4 5.9 -0.7 6 -1 6 -1.2 6.1 -1.6 6.1 -1.8 6.1 -2.1 6.1 -2.4 6.1 -2.7 6.1 -2.8 6 -3.2 5.9" fill="none" stroke="#0a0a0a" stroke-width="5.1" stroke-linecap="round"/>
<path d="M451.0 204.5l-1.8 6.1 -2.1 6.1 -2.4 6 -2.6 6 -2.9 6 -3.2 5.9 -3.3 5.8 -3.6 5.7 -3.9 5.7 -4 5.4 -4.3 5.4 -4.4 5.1 -4.6 5 -4.8 4.9 -4.9 4.6 -5.1 4.4 -5.2 4.1 -5.4 3.9 -5.4 3.7 -5.6 3.4 -5.6 3.1 -5.7 2.8 -5.7 2.4 -5.7 2.2 -5.8 1.8 -5.7 1.5 -5.8 1.2 -5.6 0.7 -5.7 0.4 -5.5 0.1 -5.5-0.4 -5.3-0.7 -5.2-1.1 -5.1-1.6 -4.8-1.9 -4.7-2.2 -4.5-2.7 -4.3-3.1 -4-3.4 -3.8-3.8 -3.5-4.2 -3.2-4.5 -2.9-4.8 -2.6-5.2 -2.2-5.4 -2-5.8 -1.5-6 -1.3-6.2 -0.9-6.5 -0.5-6.7 -0.1-6.9 0.2-7 0.6-7.1 0.9-7.2 1.3-7.3 1.6-7.3 2-7.3 2.3-7.3 2.7-7.3" fill="none" stroke="#c4c6f0" stroke-width="11.9" stroke-linecap="round"/>
<path d="M459.3 169.5l-0.1 5.9 -0.4 5.9 -0.7 6 -1 6 -1.2 6.1 -1.6 6.1 -1.8 6.1 -2.1 6.1 -2.4 6.1 -2.7 6.1 -2.8 6 -3.2 5.9 -3.4 5.8 -3.6 5.8 -3.8 5.6 -4 5.5 -4.3 5.3 -4.4 5.2 -4.7 5 -4.7 4.9 -5 4.6 -5.1 4.4 -5.2 4.2 -5.4 3.9 -5.4 3.7 -5.6 3.4 -5.6 3.1 -5.7 2.8 -5.7 2.5 -5.7 2.2 -5.8 1.8 -5.7 1.5 -5.8 1.2 -5.7 0.8 -5.6 0.4 -5.5 0 -5.5-0.3 -5.3-0.8 -5.2-1.1 -5.1-1.5 -4.9-1.9 -4.7-2.3 -4.5-2.7 -4.2-3 -4-3.5 -3.8-3.8 -3.5-4.1 -3.2-4.6 -2.9-4.8 -2.6-5.2 -2.3-5.4 -1.9-5.8 -1.6-6 -1.2-6.3 -0.9-6.5 -0.5-6.7 -0.1-6.9 0.2-7 0.6-7.1 0.9-7.3 1.3-7.3 1.7-7.3 2-7.4 2.3-7.3 2.6-7.3 3-7.2 3.3-7.1 3.5-7 3.9-6.8 4.1-6.6 4.3-6.4" fill="none" stroke="#0a0a0a" stroke-width="5.2" stroke-linecap="round"/>
<path d="M434.7 214.6l-1.7 5.8 -3.9 11.2 -4.5 10.8 -5.1 10.2 -2.7 4.9 -5.8 9.3 -6.2 8.5 -6.6 7.6 -3.3 3.5 -6.9 6.2 -7 5.1 -3.5 2.1 -3.5 1.9 -3.5 1.6 -3.5 1.3 -3.4 1 -3.4 0.6 -3.3 0.4 -3.3 0.1 -3.2-0.2 -3.1-0.5 -3-0.9 -2.9-1.1 -2.8-1.4 -2.7-1.7 -2.5-2 -2.4-2.2 -2.3-2.6 -2.1-2.8 -1.9-3 -1.8-3.3 -1.6-3.5 -2.7-7.6 -1.9-8.4 -1.2-9 -0.4-9.6 0.3-9.8 1-10.1 1.8-10.2 2.5-10.1 3-9.8 3.6-9.5" fill="none" stroke="#c4c6f0" stroke-width="12.0" stroke-linecap="round"/>
<path d="M444.2 180.5l-1.2 11.8 -2.1 11.8 -2.8 11.7 -3.5 11.4 -4.3 11 -4.8 10.6 -5.3 10 -2.9 4.8 -6 8.9 -6.4 8.1 -6.7 7.2 -6.9 6.2 -3.5 2.7 -7 4.6 -3.5 1.9 -3.5 1.5 -3.5 1.3 -3.4 1 -3.4 0.7 -3.3 0.4 -3.3 0.1 -3.2-0.2 -3.1-0.5 -3-0.9 -2.9-1.1 -2.8-1.4 -2.7-1.7 -2.5-2 -2.4-2.2 -2.3-2.6 -2.1-2.8 -1.9-3 -1.8-3.3 -1.6-3.5 -2.7-7.7 -1.9-8.4 -0.7-4.5 -0.8-9.3 0-9.7 0.7-10 1.4-10.2 1-5.1 2.5-10.1 3-9.9 1.8-4.8 3.9-9.3 4.3-8.8 2.4-4.2 4.9-7.7" fill="none" stroke="#0a0a0a" stroke-width="5.2" stroke-linecap="round"/>
<path d="M258.4 183.0l2.9-7.2 3.3-7 3.5-7 3.9-6.8 4-6.6 4.3-6.3 4.6-6.2 4.7-5.9 4.9-5.6 5-5.4 5.2-5 5.3-4.7 5.4-4.3 5.5-4 5.5-3.7 5.5-3.2 5.6-2.9 5.5-2.5 5.6-2.1 5.5-1.7 5.4-1.3 5.3-1 5.3-0.5 5.1-0.2 5 0.3 4.9 0.6 4.7 0.9 4.6 1.4 4.4 1.6 4.2 2 4 2.4 3.8 2.6 3.6 3 3.4 3.3 3.2 3.5 2.9 3.8 2.8 4 2.4 4.3 2.3 4.5 2 4.7 1.8 4.9 1.6 5 1.3 5.2 1 5.4 0.9 5.5 0.6 5.5 0.5 11.5 -0.3 11.6 -1.2 11.8 -2.1 11.8 -2.8 11.6" fill="none" stroke="#c4c6f0" stroke-width="12.1" stroke-linecap="round"/>
<path d="M250.8 228.1l0.9-7.3 1.3-7.3 1.7-7.3 2-7.4 2.3-7.3 2.6-7.3 3-7.2 3.3-7.1 3.5-7 3.9-6.8 4.1-6.6 4.3-6.4 4.5-6.2 4.7-5.9 4.9-5.7 5.1-5.3 5.2-5.1 5.3-4.7 5.4-4.3 5.5-4.1 5.5-3.6 5.6-3.3 5.5-2.9 5.6-2.5 5.5-2.1 5.5-1.7 5.4-1.3 5.4-1 5.3-0.5 5.1-0.2 5 0.2 4.9 0.6 4.7 1 4.6 1.3 4.4 1.7 4.2 2 4 2.4 3.8 2.6 3.6 3 3.4 3.3 3.2 3.5 2.9 3.8 2.7 4.1 2.5 4.2 2.3 4.5 2 4.8 1.8 4.9 1.5 5 1.3 5.2 1.1 5.4 0.8 5.5 1 11.3 0.1 11.6 -0.3 5.9 -1.2 11.8 -2.1 11.8 -1.3 5.8 -3.2 11.6 -3.9 11.3 -2.2 5.4 -4.8 10.6" fill="none" stroke="#0a0a0a" stroke-width="5.3" stroke-linecap="round"/>
<path d="M410.8 217.7l-2.6 9.2 -3.1 8.4 -3.6 7.3 -2.5 4.3 -2.5 3.8 -4 4.5 -2.6 2.2 -2.5 1.7 -2.5 1 -2.3 0.5 -2.2-0.2 -2.1-0.7 -1.8-1.3 -1.7-1.8 -1.4-2.2 -1.1-2.7 -0.9-3.1 -0.7-3.4 -0.3-3.7 -0.1-5.9 0.7-8.3 0.7-4.2 1.5-6.2 2.6-7.8 1.5-3.6 2.5-4.8" fill="none" stroke="#c4c6f0" stroke-width="12.3" stroke-linecap="round"/>
<path d="M417.7 198.8l-1.3 10.2 -1.3 6.7 -1.6 6.3 -1.8 6.1 -2.1 5.7 -2.2 5.3 -2.4 4.8 -2.5 4.3 -2.6 3.8 -2.6 3.1 -2.6 2.6 -2.6 2 -2.5 1.4 -2.4 0.7 -1.2 0.1 -2.2-0.1 -2-0.7 -1-0.6 -1.7-1.6 -1.5-2 -1.8-3.9 -0.9-3.1 -0.9-5.2 -0.2-3.8 0.1-6.1 0.3-4.1 1.1-6.4 1.4-6.2 1.9-5.9 2.3-5.5 2.5-4.8 2.7-4.2 2.8-3.5" fill="none" stroke="#0a0a0a" stroke-width="5.3" stroke-linecap="round"/>
<path d="M327.3 187.4l2-4.6 4.4-8.7 2.3-4.2 4.9-7.7 2.6-3.5 5.3-6.5 2.7-3 5.5-5.1 2.8-2.2 5.5-3.7 2.8-1.4 5.4-2.2 2.7-0.7 5.1-0.7 2.5 0 2.4 0.3 4.7 1.2 2.1 1 4.1 2.5 3.7 3.3 3.3 4 1.5 2.3 2.6 5 2.2 5.5 1.7 5.9 1.3 6.3 0.8 6.6 0.4 6.8 0 6.9 -0.4 6.9 -0.8 6.8 -1.1 6.7 -1.5 6.5" fill="none" stroke="#c4c6f0" stroke-width="12.3" stroke-linecap="round"/>
<path d="M321.6 218.1l1.1-5.1 2.8-10 3.4-9.7 3.9-9.3 2.1-4.5 4.6-8.5 4.9-7.7 5.2-6.9 5.4-6.1 5.5-5.2 5.6-4.2 5.5-3.2 5.5-2.1 5.2-1.2 5.1-0.2 2.4 0.3 2.3 0.5 4.5 1.6 4.1 2.5 3.7 3.4 3.2 4 2.9 4.7 2.4 5.3 1.9 5.7 0.8 3.1 1.3 6.3 0.8 6.6 0.4 10.2 -0.2 6.9 -1 10.4 -1.1 6.7 -2.3 9.6 -1.8 6.1 -3.1 8.4" fill="none" stroke="#0a0a0a" stroke-width="5.3" stroke-linecap="round"/>
<path d="M379.8 200.7l1.8-2.9 2.7-3.7 1.9-2 2.8-2.3 1.9-1 2.7-0.9 2.5 0 2.3 0.7 2 1.4 1.8 2.1 1.5 2.5 1.2 3 0.9 3.3 0.6 3.5 0.4 3.6 0.1 4.8" fill="none" stroke="#c4c6f0" stroke-width="12.5" stroke-linecap="round"/>
<path d="M406.9 212.8l-0.1 2.2" fill="none" stroke="#9d829f" stroke-width="9.7" stroke-linecap="round"/>
<path d="M406.9 212.8l-0.1 2.2" fill="none" stroke="#cac0de" stroke-width="5.2" stroke-linecap="round" transform="translate(0 -0.8)"/>
<path d="M378.6 212.2l2.3-5.5 2.5-4.8 2.7-4.2 1.8-2.4 1.9-2 2.8-2.3 2.8-1.4 2.6-0.6 1.7 0 1.5 0.4 2.2 1.2 1.3 1.2 1.1 1.4 1.9 3.6 1.4 4.2 0.9 4.6 0.5 6 -0.2 5.8 -0.6 5.2" fill="none" stroke="#0a0a0a" stroke-width="5.4" stroke-linecap="round"/>
<path d="M406.8 215.0l-0.6 5.4 -1 5.2" fill="none" stroke="#9d829f" stroke-width="10.1" stroke-linecap="round"/>
<path d="M406.8 215.0l-0.6 5.4 -1 5.2" fill="none" stroke="#cac0de" stroke-width="5.4" stroke-linecap="round" transform="translate(0 -0.8)"/>
<path d="M405.2 225.6l-1.3 3.8 -1.2 2 -0.4 0.4 -0.5-0.1 -0.3-0.5 -0.1-1.1" fill="none" stroke="#c4c6f0" stroke-width="12.9" stroke-linecap="round"/>
<path d="M401.4 230.1l0.2-1.9" fill="none" stroke="#9d829f" stroke-width="10.1" stroke-linecap="round"/>
<path d="M401.4 230.1l0.2-1.9" fill="none" stroke="#cac0de" stroke-width="5.4" stroke-linecap="round" transform="translate(0 -0.8)"/>
<path d="M401.6 228.2l0.3-1.8" fill="none" stroke="#a37f93" stroke-width="10.1" stroke-linecap="round"/>
<path d="M401.6 228.2l0.3-1.8" fill="none" stroke="#d1bbcd" stroke-width="5.4" stroke-linecap="round" transform="translate(0 -0.8)"/>
<path d="M401.9 226.4l0.7-2" fill="none" stroke="#a87b86" stroke-width="10.1" stroke-linecap="round"/>
<path d="M401.9 226.4l0.7-2" fill="none" stroke="#d8b5bb" stroke-width="5.4" stroke-linecap="round" transform="translate(0 -0.8)"/>
<path d="M402.6 224.4l1.2-2.9" fill="none" stroke="#ad777a" stroke-width="10.1" stroke-linecap="round"/>
<path d="M402.6 224.4l1.2-2.9" fill="none" stroke="#deb0aa" stroke-width="5.4" stroke-linecap="round" transform="translate(0 -0.8)"/>
<path d="M403.8 221.5l1.6-2.5 1.5-1.7" fill="none" stroke="#b2736d" stroke-width="10.1" stroke-linecap="round"/>
<path d="M403.8 221.5l1.6-2.5 1.5-1.7" fill="none" stroke="#e5aa98" stroke-width="5.4" stroke-linecap="round" transform="translate(0 -0.8)"/>
<path d="M406.9 217.3l1.8-1.3 0.9-0.3 1.2-0.2 1.8 0.4 1.9 1.5" fill="none" stroke="#ad777a" stroke-width="10.1" stroke-linecap="round"/>
<path d="M406.9 217.3l1.8-1.3 0.9-0.3 1.2-0.2 1.8 0.4 1.9 1.5" fill="none" stroke="#deb0aa" stroke-width="5.4" stroke-linecap="round" transform="translate(0 -0.8)"/>
<path d="M414.5 217.4l1.7 2.6" fill="none" stroke="#b2736d" stroke-width="10.1" stroke-linecap="round"/>
<path d="M414.5 217.4l1.7 2.6" fill="none" stroke="#e5aa98" stroke-width="5.4" stroke-linecap="round" transform="translate(0 -0.8)"/>
<path d="M416.2 220.0l2.6 5.2 0.7 0.9 0.8 0.5 1.2 0.1 4.4-0.5 3 0.5 9.1 4 8.9 2.9 24.3 8.4" fill="none" stroke="#b87061" stroke-width="10.1" stroke-linecap="round"/>
<path d="M416.2 220.0l2.6 5.2 0.7 0.9 0.8 0.5 1.2 0.1 4.4-0.5 3 0.5 9.1 4 8.9 2.9 24.3 8.4" fill="none" stroke="#eca587" stroke-width="5.4" stroke-linecap="round" transform="translate(0 -0.8)"/>
<path d="M410.4 209.2l0.1 3.6 -0.2 4.6 -0.5 4.2 -0.8 4.5 -1.5 4.5 -1.3 2.2 -0.6 0.3 -0.4-0.4 -0.2-1.3 0.1-1.5" fill="none" stroke="#0a0a0a" stroke-width="5.6" stroke-linecap="round"/>
<g transform="translate(471.2 242.0) rotate(19.1)"><ellipse rx="2.9" ry="5.2" fill="#e7a58e" stroke="#a86a66" stroke-width="0.8"/><ellipse cx="0.3" rx="1.6" ry="2.6" fill="#3a2020"/></g>
<path d="M126.0 347.1L328.1 474.9M328.1 474.9L583.0 364.3M108.1 27.8L328.3 78.7M328.3 78.7L606.6 36.9M606.6 36.9L370.1 2.1M370.1 2.1L108.1 27.8M126.0 347.1L108.1 27.8M328.1 474.9L328.3 78.7M583.0 364.3L606.6 36.9" fill="none" stroke="#000" stroke-width="1.9" stroke-linecap="round"/>
<path d="M1226.7 364.0L1010.5 274.5M1010.5 274.5L768.7 347.0M1010.5 274.5L1013.1 1.8" fill="none" stroke="#000" stroke-width="1.9" stroke-linecap="round"/>
<path d="M899.5 307.8h0m0.7 0.4h0m0.8 0.3h0m0.7 0.4h0m0.8 0.4h0m0.7 0.4h0m0.8 0.4h0m0.8 0.3h0m0.7 0.4h0m0.8 0.4h0m0.7 0.4h0m0.8 0.4h0m0.8 0.3h0m0.7 0.4h0m0.8 0.4h0m0.8 0.4h0m0.8 0.4h0m0.7 0.4h0m0.8 0.3h0m0.8 0.4h0m0.8 0.4h0m0.7 0.4h0m0.8 0.4h0m0.8 0.4h0m0.7 0.4h0m0.8 0.4h0m0.7 0.4h0m0.8 0.4h0m0.7 0.4h0m0.8 0.4h0m0.9 0.4h0m0.9 0.3h0m0.9 0.4h0m0.9 0.3h0m0.9 0.4h0m0.9 0.4h0m0.8 0.4h0m0.7 0.4h0m0.8 0.5h0m0.6 0.6h0m0.5 0.6h0m0.6 0.6h0m0.6 0.6h0m0.8 0.4h0m0.7 0.3h0m1 0.3h0m0.8 0.1h0m0.9 0.1h0m1 0.1h0m1 0.1h0m1.1 0h0m1.1 0.1h0m1 0h0m0.9 0.1h0m0.8 0.2h0m0.8 0.3h0m0.6 0.6h0m-0.3 0.8h0m-0.7 0.7h0m-0.7 0.7h0m-0.8 0.6h0m-0.9 0.7h0m-0.9 0.7h0m-0.8 0.7h0m-0.6 0.8h0m0.4 0.8h0m0.9 0.1h0m0.9 0h0m1.2-0.1h0m1.4-0.2h0m1.6-0.3h0m0.8-0.1h0m1-0.2h0m0.9-0.1h0m1-0.2h0m1.1-0.2h0m1-0.2h0m1.1-0.3h0m1.2-0.2h0m1.1-0.2h0m1.1-0.3h0m1.2-0.2h0m1.1-0.2h0m1.1-0.3h0m1.1-0.2h0m1.1-0.2h0m1.1-0.2h0m1-0.2h0m1-0.2h0m0.9-0.2h0m0.9-0.1h0m0.8-0.1h0m1.3-0.2h0m1.1-0.1h0m0.9 0.1h0m-0.7 0.9h0m-1 0.6h0m-1.5 0.8h0m-0.9 0.5h0m-1 0.4h0m-1.1 0.5h0m-1.2 0.6h0m-1.3 0.5h0m-1.4 0.6h0m-1.4 0.7h0m-1.5 0.6h0m-1.6 0.7h0m-1.6 0.6h0m-1.7 0.7h0m-1.7 0.7h0m-1.7 0.8h0m-1.7 0.7h0m-1.7 0.7h0m-1.7 0.7h0m-1.7 0.7h0m-1.6 0.7h0m-1.6 0.6h0m-1.5 0.7h0m-1.4 0.6h0m-1.3 0.5h0m-1.1 0.6h0m-1.1 0.5h0m-0.9 0.4h0m-0.8 0.4h0m-1 0.7h0m0.7 0.5h0m1.7-0.3h0m1.1-0.3h0m1.4-0.3h0m1.6-0.4h0m1.8-0.4h0m1.9-0.5h0m2.2-0.6h0m2.3-0.6h0m2.5-0.7h0m2.7-0.8h0m2.8-0.8h0m2.9-0.8h0m3-0.9h0m3.1-0.9h0m3.2-0.9h0m3.2-0.9h0m3.3-1h0m3.3-1h0m3.3-0.9h0m3.3-1h0m3.2-0.9h0m3.2-1h0m3.1-0.9h0m2.9-0.8h0m2.9-0.8h0m2.7-0.8h0m2.6-0.7h0m2.4-0.7h0m2.2-0.6h0m2-0.5h0m1.8-0.5h0m1.5-0.4h0m1.3-0.3h0m1.1-0.2h0m1.2-0.1h0m-0.9 0.8h0m-1 0.5h0m-1.2 0.6h0m-1.6 0.7h0m-1.9 0.7h0m-2.2 0.9h0m-2.4 1h0m-2.8 1.1h0m-3 1.1h0m-3.3 1.3h0m-3.5 1.3h0m-3.7 1.4h0m-4 1.5h0m-4.1 1.6h0m-4.3 1.6h0m-4.5 1.6h0m-4.6 1.7h0m-4.6 1.8h0m-4.8 1.7h0m-4.8 1.8h0m-4.7 1.8h0m-4.8 1.8h0m-4.7 1.7h0m-4.6 1.7h0m-4.5 1.7h0m-4.3 1.6h0m-4.1 1.6h0m-3.8 1.4h0m-3.6 1.4h0m-3.3 1.3h0m-2.9 1.1h0m-2.6 1.1h0m-2.1 0.9h0m-1.8 0.7h0m-1.3 0.6h0m-0.8 0.5h0m1.6 0h0m1.6-0.4h0m2.2-0.6h0m2.7-0.7h0m3.1-0.9h0m3.6-1.1h0m4-1.3h0m4.5-1.3h0m4.8-1.5h0m5.2-1.7h0m5.6-1.7h0m5.8-1.9h0m6-1.9h0m6.3-2h0m6.4-2.1h0m6.6-2.1h0m6.6-2.1h0m6.7-2.2h0m6.7-2.1h0m6.7-2.2h0m6.6-2.1h0m6.4-2.1h0m6.4-2h0m6.1-2h0m5.9-1.8h0m5.6-1.8h0m5.3-1.8h0m5.1-1.5h0m4.6-1.5h0m4.4-1.4h0m3.9-1.2h0m3.5-1h0m3-1h0m2.6-0.7h0m2.2-0.6h0m1.7-0.5h0m1.1-0.2h0m0.9 0h0m-1.2 0.7h0m-1.4 0.6h0m-1.9 0.8h0m-2.4 1h0m-2.9 1.1h0m-3.4 1.3h0m-3.9 1.5h0m-4.4 1.7h0m-4.8 1.8h0m-5.3 2h0m-5.7 2.1h0m-6.1 2.3h0m-6.5 2.4h0m-6.8 2.5h0m-7.1 2.6h0m-7.4 2.8h0m-7.6 2.8h0m-7.8 2.9h0m-8 2.9h0m-8 2.9h0m-8.2 3h0m-8.1 3h0m-8 3h0m-7.9 2.9h0m-7.8 2.9h0m-7.5 2.7h0m-7.2 2.7h0m-6.8 2.6h0m-6.4 2.4h0m-6 2.2h0m-5.4 2.1h0m-4.9 1.9h0m-4.2 1.6h0m-3.5 1.4h0m-2.8 1.2h0m-2.1 0.9h0m-1.4 0.6h0m2.7-0.3h0m2.6-0.7h0m3.4-1h0m4.1-1.3h0m4.8-1.5h0m5.5-1.8h0m6.1-2h0m6.7-2.2h0m7.1-2.3h0m7.7-2.6h0m8-2.6h0m8.4-2.8h0m8.6-2.9h0m8.9-3h0m9-3h0m9.1-3h0m9.1-3.1h0m9.1-3.1h0m9-3h0m8.9-3h0m8.7-2.9h0m8.4-2.8h0m8.2-2.8h0m7.8-2.6h0m7.5-2.5h0m7.1-2.3h0m6.7-2.2h0m6.2-2.1h0m5.7-1.9h0m5.2-1.7h0m4.7-1.5h0m4.2-1.3h0m3.6-1.2h0m3-0.9h0m2.5-0.7h0m1.8-0.5h0m1.3-0.3h0m-0.9 0.8h0m-1.7 0.8h0m-2.3 0.9h0m-2.8 1.2h0m-3.4 1.4h0m-4 1.5h0m-4.4 1.8h0m-5 1.9h0m-5.5 2.1h0m-5.9 2.3h0m-6.4 2.4h0m-6.8 2.5h0m-7.1 2.7h0m-7.5 2.9h0m-7.7 2.9h0m-8.1 3h0m-8.2 3.1h0m-8.4 3.2h0m-8.5 3.2h0m-8.5 3.2h0m-8.6 3.2h0m-8.5 3.2h0m-8.3 3.2h0m-8.2 3.1h0m-8 3h0m-7.7 2.9h0m-7.3 2.8h0m-6.9 2.6h0m-6.4 2.5h0m-5.9 2.3h0m-5.4 2.1h0m-4.7 1.9h0m-4 1.6h0m-3.4 1.4h0m-2.7 1.1h0m-1.9 0.9h0m-1.1 0.5h0m1.1 0.2h0m1.9-0.5h0m2.6-0.8h0m3.3-1h0m3.9-1.3h0m4.6-1.5h0m5.2-1.7h0m5.7-1.8h0m6.2-2.1h0m6.6-2.2h0m7-2.4h0m7.3-2.5h0m7.5-2.5h0m7.8-2.7h0m7.9-2.7h0m8-2.7h0m8.1-2.7h0m8-2.8h0m8-2.7h0m7.8-2.7h0m7.7-2.6h0m7.5-2.6h0m7.3-2.5h0m7-2.3h0m6.6-2.3h0m6.4-2.1h0m6-2.1h0m5.6-1.8h0m5.1-1.8h0m4.8-1.5h0m4.3-1.5h0m3.9-1.2h0m3.4-1.1h0m2.9-0.9h0m2.5-0.7h0m1.9-0.6h0m1.5-0.4h0m1-0.2h0m-0.8 0.9h0m-1.4 0.7h0m-1.8 0.8h0m-2.2 0.9h0m-2.6 1.1h0m-3 1.3h0m-3.4 1.4h0m-3.8 1.5h0m-4.1 1.7h0m-4.4 1.7h0m-4.6 1.9h0m-4.9 2h0m-5.2 2h0m-5.3 2.1h0m-5.5 2.2h0m-5.5 2.2h0m-5.7 2.3h0m-5.8 2.2h0m-5.7 2.3h0m-5.7 2.3h0m-5.7 2.2h0m-5.5 2.2h0m-5.5 2.2h0m-5.2 2.1h0m-5.1 2h0m-4.8 1.9h0m-4.5 1.9h0m-4.2 1.7h0m-3.9 1.6h0m-3.5 1.4h0m-3.1 1.4h0m-2.7 1.2h0m-2.3 1h0m-1.9 0.8h0m-1.4 0.7h0m-1 0.6h0m-0.6 0.5h0m1.2 0h0m1.2-0.3h0m1.6-0.4h0m2-0.6h0m2.4-0.7h0m2.7-0.9h0m3.1-0.9h0m3.3-1.1h0m3.6-1.1h0m3.8-1.3h0m4-1.3h0m4.2-1.4h0m4.3-1.4h0m4.4-1.5h0m4.5-1.5h0m4.6-1.5h0m4.5-1.5h0m4.5-1.5h0m4.5-1.5h0m4.5-1.5h0m4.3-1.4h0m4.2-1.4h0m4.1-1.4h0m3.9-1.3h0m3.7-1.2h0m3.6-1.2h0m3.3-1h0m3.2-1h0m2.8-1h0m2.7-0.8h0m2.4-0.7h0m2.2-0.7h0m1.9-0.5h0m1.6-0.4h0m1.4-0.4h0m1.1-0.2h0m0.8-0.2h0m0.9 0h0m-0.5 0.7h0m-1.5 0.9h0m-1 0.5h0m-1.3 0.7h0m-1.4 0.7h0m-1.6 0.7h0m-1.8 0.9h0m-1.9 0.8h0m-2 1h0m-2.2 1h0m-2.2 1h0m-2.3 1h0m-2.4 1.1h0m-2.4 1h0m-2.4 1.1h0m-2.5 1.1h0m-2.4 1.1h0m-2.5 1.1h0m-2.3 1.1h0m-2.4 1h0m-2.2 1h0m-2.2 1h0m-2.1 1h0m-1.9 0.9h0m-1.9 0.9h0m-1.7 0.8h0m-1.5 0.8h0m-1.4 0.7h0m-1.3 0.6h0m-1.1 0.6h0m-0.9 0.5h0m-0.7 0.5h0m-1 0.7h0m0.6 0.7h0m1.3-0.2h0m0.9-0.2h0m1-0.2h0m1.2-0.2h0m1.2-0.3h0m1.3-0.3h0m1.5-0.4h0m1.5-0.4h0m1.5-0.4h0m1.7-0.5h0m1.6-0.4h0m1.7-0.5h0m1.8-0.5h0m1.7-0.5h0m1.7-0.5h0m1.8-0.5h0m1.7-0.4h0m1.7-0.5h0m1.6-0.5h0m1.6-0.4h0m1.6-0.4h0m1.4-0.4h0m1.5-0.4h0m1.3-0.3h0m1.3-0.3h0m1.2-0.3h0m1.1-0.3h0m1.1-0.2h0m0.9-0.2h0m0.9-0.1h0m1.4-0.2h0m1.1-0.1h0m1 0.1h0m0 0.9h0m-0.8 0.9h0m-0.8 0.6h0m-0.9 0.7h0m-1.1 0.8h0m-1.1 0.8h0m-1.1 0.8h0m-1.1 0.7h0m-1.1 0.8h0m-1 0.7h0m-0.8 0.7h0m-0.7 0.7h0m-0.8 0.8h0m-0.4 0.9h0m0.5 0.7h0m0.8 0.2h0m1.1 0.1h0m0.9 0.1h0m1-0.1h0m1 0h0m1.1-0.1h0m1.1 0h0m1.1-0.1h0m1.1-0.1h0m1.1 0h0m1-0.1h0m1 0h0m0.9 0h0m0.8 0.1h0m1.1 0.1h0m0.9 0.2h0m0.9 0.4h0m0.7 0.4h0m0.6 0.7h0m0.4 0.8h0m0.3 0.8h0m0.4 0.8h0m0.6 0.7h0m0.7 0.6h0m0.7 0.5h0m0.9 0.4h0m0.9 0.4h0m1 0.4h0m0.8 0.2h0m0.8 0.3h0m0.7 0.2h0m0.8 0.3h0m0.8 0.2h0m1 0.4h0m0.9 0.4h0m0.9 0.4h0m0.9 0.4h0m0.8 0.5h0m0.8 0.4h0m0.8 0.5h0m0.8 0.4h0m0.8 0.5h0m0.8 0.4h0m0.8 0.5h0m0.8 0.4h0m0.9 0.4h0m0.8 0.5h0m0.9 0.4h0m0.9 0.4h0m0.9 0.5h0m0.8 0.4h0m0.9 0.4h0m0.9 0.4h0m0.9 0.5h0m0.9 0.4h0m0.9 0.4h0m0.8 0.5h0m0.9 0.4h0m0.9 0.5h0m0.9 0.4h0m0.8 0.5h0m0.9 0.4h0m0.9 0.4h0m0.9 0.5h0m0.9 0.4h0m0.9 0.5h0m0.9 0.4h0m0.8 0.5h0m0.9 0.4h0m0.9 0.5h0m0.9 0.4h0m0.9 0.5h0m0.9 0.4h0m0.9 0.5h0m0.9 0.4h0m0.9 0.5h0m0.9 0.4h0m1 0.5h0m0.9 0.4h0" fill="none" stroke="#1a0d05" stroke-width="5.0" stroke-linecap="round"/>
<path d="M899.5 307.8l21.5 10.9 6.9 2.9 1.4 0.9 1.9 2 1.2 0.8 2.2 0.7 7 0.5 2.1 0.6 0.4 0.5 -0.3 0.8 -1.2 1.1 -4 3.4 -0.3 0.8 0.5 0.4 1.8 0.1 4.2-0.6 21.6-4.1 2.4-0.3 1 0.2 -0.4 0.6 -0.8 0.5 -4 2 -30.4 12.9 -4.5 2.3 -0.7 0.5 0.1 0.3 1.6-0.1 2.1-0.5 8.9-2.2 61.9-17.8 8.8-2.3 1.8-0.3 0.7 0 -1.1 0.8 -2.2 1.1 -10.9 4.4 -84.7 31.7 -14.5 5.8 -3.9 1.8 -0.4 0.2 0.2 0.1 5.6-1.3 17.9-5.3 125.4-40.1 17.4-5.3 5-1.3 0.9 0 -1.2 0.7 -5.7 2.4 -24.7 9.4 -144.9 53.6 -18 7 -4.9 2.1 -1.9 0.9 1.3-0.1 4.5-1.2 23.9-7.6 170.2-56.8 23.4-7.6 7.3-2.1 2-0.4 0 0.1 -0.5 0.3 -5.1 2.2 -25.1 9.9 -153 57.9 -23.4 9.3 -4.6 2 -1.5 0.9 1.5-0.2 4.5-1.3 17-5.5 32.8-11 117.2-39.8 24.4-8 5.9-1.7 1.5-0.2 -0.4 0.4 -4.1 2 -15 6.2 -79.1 31.5 -27.7 11.2 -13.5 5.8 -2.4 1.3 -0.6 0.5 1.2 0 2.8-0.7 13.5-4.2 84.5-27.9 10.8-3.1 2.5-0.6 1.7-0.2 -0.1 0.4 -1 0.7 -6.2 3.1 -43.7 19.9 -6.2 3.2 -1.3 0.9 -0.6 0.7 0.4 0.2 1 0 5-1 32.7-8.8 4.7-1 2.5 0 0.4 0.2 0.1 0.3 -1 1.3 -7.7 5.6 -2.3 2 -0.9 1.2 0 0.4 0.3 0.4 1 0.3 2 0.2 10.4-0.5 1.9 0.2 1.6 0.5 0.8 0.4 0.6 0.7 1.6 3.1 1.6 1.2 9.7 3.7 8 4.3 29.7 14.8" fill="none" stroke="#ee9630" stroke-width="1.2" stroke-linejoin="round"/>
<path d="M1011.8 143h0m0.8 0.2h0m0.8 0.2h0m0.8 0.3h0m0.8 0.2h0m0.8 0.2h0m0.8 0.3h0m0.8 0.2h0m0.8 0.2h0m0.9 0.2h0m0.8 0.3h0m0.8 0.2h0m0.8 0.2h0m0.8 0.3h0m0.9 0.2h0m0.8 0.3h0m0.8 0.2h0m0.8 0.2h0m0.9 0.3h0m0.8 0.2h0m0.8 0.3h0m0.9 0.2h0m0.8 0.2h0m0.8 0.3h0m0.9 0.2h0m0.8 0.2h0m0.8 0.2h0m0.9 0.3h0m0.8 0.2h0m0.9 0.2h0m0.8 0.2h0m0.9 0.3h0m0.8 0.3h0m0.9 0.3h0m0.8 0.3h0m0.8 0.3h0m0.9 0.3h0m0.9 0.3h0m0.8 0.3h0m0.9 0.2h0m0.8 0.1h0m0.9 0.1h0m0.9 0h0m0.8 0h0m0.9 0h0m0.9 0.1h0m0.8 0.2h0m0.9 0.3h0m0.9 0.5h0m0.6 0.6h0m0.7 0.6h0m0.7 0.8h0m0.7 0.7h0m0.7 0.7h0m0.7 0.7h0m0.7 0.5h0m0.9 0.2h0m0.8-0.1h0m0.8-0.5h0m0.7-0.7h0m0.5-0.7h0m0.6-0.8h0m0.5-0.9h0m0.6-0.8h0m0.6-0.8h0m0.5-0.7h0m0.7-0.6h0m0.9 0h0m0.7 0.7h0m0.6 0.9h0m0.3 0.8h0m0.3 1.1h0m0.4 1.1h0m0.3 1.3h0m0.3 1.4h0m0.3 1.5h0m0.4 1.6h0m0.1 0.8h0m0.2 0.8h0m0.2 0.8h0m0.1 0.8h0m0.3 1.5h0m0.4 1.4h0m0.3 1.4h0m0.3 1.1h0m0.4 1h0m0.5 0.9h0m0.9 0.1h0m0.6-0.9h0m0.3-1.1h0m0.4-1.4h0m0.3-0.8h0m0.2-0.9h0m0.2-0.9h0m0.2-1.1h0m0.2-1.1h0m0.2-1.1h0m0.2-1.3h0m0.2-1.2h0m0.2-1.4h0m0.3-1.3h0m0.2-1.4h0m0.2-1.4h0m0.2-1.4h0m0.2-1.4h0m0.3-1.4h0m0.2-1.4h0m0.2-1.4h0m0.2-1.3h0m0.2-1.3h0m0.3-1.2h0m0.2-1.2h0m0.2-1.1h0m0.2-1h0m0.2-0.9h0m0.2-0.8h0m0.4-1.3h0m0.4-0.8h0m0.9 0.5h0m0.4 1.3h0m0.1 0.9h0m0.2 1h0m0.1 1.2h0m0.2 1.3h0m0.1 1.5h0m0.2 1.7h0m0.1 1.7h0m0.1 1.9h0m0.2 2h0m0.1 2.1h0m0.1 2.3h0m0.1 2.3h0m0.2 2.4h0m0.1 2.4h0m0.1 2.5h0m0.1 2.6h0m0.1 2.5h0m0.1 2.6h0m0.2 2.6h0m0.1 2.5h0m0.1 2.5h0m0.1 2.5h0m0.1 2.4h0m0.1 2.3h0m0.2 2.2h0m0.1 2.1h0m0.1 1.9h0m0.1 1.8h0m0.2 1.7h0m0.1 1.5h0m0.2 1.3h0m0.1 1.1h0m0.2 0.8h0m0.3 1.2h0m0.8-0.5h0m0.4-1.8h0m0.2-1.2h0m0.2-1.5h0m0.3-1.7h0m0.2-2h0m0.3-2.1h0m0.2-2.5h0m0.3-2.6h0m0.3-2.8h0m0.2-3h0m0.3-3.2h0m0.3-3.3h0m0.3-3.5h0m0.3-3.6h0m0.3-3.7h0m0.3-3.8h0m0.3-3.8h0m0.3-3.9h0m0.3-3.9h0m0.3-3.9h0m0.3-3.9h0m0.3-3.8h0m0.3-3.7h0m0.3-3.6h0m0.3-3.5h0m0.3-3.3h0m0.3-3.2h0m0.3-2.9h0m0.3-2.8h0m0.2-2.4h0m0.3-2.2h0m0.3-1.9h0m0.2-1.6h0m0.2-1.3h0m0.3-0.9h0m0.4-0.9h0m0.5 1.6h0m0.2 1.2h0m0.1 1.6h0m0.1 2h0m0.1 2.4h0m0.1 2.7h0m0.1 3.1h0m0.1 3.3h0m0.1 3.7h0m0.1 4h0m0 4.2h0m0.1 4.5h0m0 4.7h0m0.1 4.9h0m0 5.1h0m0 5.2h0m0 5.3h0m0.1 5.4h0m0 5.4h0m0 5.5h0m0 5.4h0m0 5.4h0m0 5.3h0m0.1 5.2h0m0 5h0m0 4.9h0m0.1 4.7h0m0 4.4h0m0.1 4.2h0m0 3.8h0m0.1 3.6h0m0.1 3.3h0m0.1 2.8h0m0.1 2.5h0m0.1 2.2h0m0.1 1.7h0m0.2 1.3h0m0.1 0.8h0m0.8-1h0m0.2-1.4h0m0.3-1.8h0m0.3-2.3h0m0.2-2.7h0m0.3-3.1h0m0.3-3.5h0m0.4-4h0m0.3-4.3h0m0.4-4.6h0m0.3-5.1h0m0.4-5.3h0m0.4-5.6h0m0.4-5.8h0m0.4-6.1h0m0.4-6.2h0m0.4-6.5h0m0.4-6.5h0m0.4-6.6h0m0.4-6.7h0m0.5-6.6h0m0.4-6.6h0m0.4-6.6h0m0.4-6.4h0m0.4-6.3h0m0.4-6h0m0.4-5.8h0m0.4-5.6h0m0.4-5.2h0m0.4-4.8h0m0.3-4.5h0m0.4-4h0m0.3-3.6h0m0.3-3.1h0m0.3-2.7h0m0.3-2.1h0m0.2-1.5h0m0.3-1h0m0.7 1.7h0m0.1 1.8h0m0.1 2.4h0m0.1 3h0m0.1 3.4h0m0.1 4h0m0 4.4h0m0 4.9h0m0.1 5.3h0m-0.1 5.7h0m0 6.1h0m0 6.3h0m0 6.6h0m-0.1 6.9h0m0 7.1h0m-0.1 7.2h0m-0.1 7.3h0m0 7.3h0m-0.1 7.4h0m-0.1 7.4h0m-0.1 7.3h0m0 7.1h0m-0.1 7.1h0m0 6.8h0m-0.1 6.6h0m0 6.3h0m0 6h0m-0.1 5.7h0m0 5.4h0m0.1 4.9h0m0 4.5h0m0 4.1h0m0.1 3.6h0m0.1 3.1h0m0.1 2.7h0m0.1 2.1h0m0.1 1.6h0m0.2 1h0m0.8-1h0m0.2-1.6h0m0.3-2.1h0m0.3-2.6h0m0.3-3.1h0m0.3-3.6h0m0.4-4h0m0.3-4.5h0m0.4-4.8h0m0.4-5.3h0m0.4-5.5h0m0.4-5.9h0m0.5-6.2h0m0.4-6.4h0m0.5-6.7h0m0.4-6.8h0m0.5-6.9h0m0.5-7.1h0m0.4-7.1h0m0.5-7.1h0m0.5-7h0m0.4-7h0m0.5-6.9h0m0.5-6.7h0m0.4-6.5h0m0.5-6.2h0m0.4-6h0m0.4-5.7h0m0.4-5.3h0m0.4-4.9h0m0.4-4.5h0m0.4-4.1h0m0.3-3.6h0m0.4-3.1h0m0.3-2.6h0m0.3-2h0m0.2-1.6h0m0.3-1h0m0.7 1.5h0m0.2 1.7h0m0.1 2.2h0m0.1 2.7h0m0.1 3.1h0m0 3.6h0m0.1 4.1h0m0 4.4h0m0 4.7h0m0 5.1h0m0 5.4h0m0 5.6h0m0 5.9h0m-0.1 6h0m0 6.1h0m-0.1 6.3h0m0 6.3h0m-0.1 6.4h0m0 6.3h0m-0.1 6.2h0m0 6.2h0m-0.1 6.1h0m0 5.9h0m0 5.7h0m-0.1 5.5h0m0 5.3h0m0 4.9h0m0 4.7h0m0 4.4h0m0.1 4h0m0 3.7h0m0.1 3.3h0m0.1 2.9h0m0.1 2.5h0m0.1 2.1h0m0.1 1.7h0m0.2 1.3h0m0.1 0.9h0m0.9-0.7h0m0.2-1.1h0m0.3-1.5h0m0.2-1.9h0m0.3-2.3h0m0.4-2.6h0m0.3-2.9h0m0.3-3.2h0m0.4-3.4h0m0.3-3.7h0m0.4-4h0m0.4-4.1h0m0.4-4.3h0m0.3-4.5h0m0.4-4.5h0m0.4-4.7h0m0.5-4.7h0m0.4-4.8h0m0.4-4.7h0m0.4-4.8h0m0.4-4.7h0m0.4-4.6h0m0.4-4.4h0m0.4-4.4h0m0.4-4.2h0m0.4-4h0m0.3-3.8h0m0.4-3.6h0m0.3-3.3h0m0.4-3.1h0m0.3-2.8h0m0.3-2.5h0m0.3-2.2h0m0.3-1.9h0m0.3-1.6h0m0.3-1.2h0m0.2-1h0m0.5-0.8h0m0.6 1.1h0m0.1 1h0m0.2 1.3h0m0.1 1.5h0m0.2 1.8h0m0.1 2.1h0m0.1 2.2h0m0.1 2.5h0m0.1 2.7h0m0.1 2.8h0m0 3h0m0.1 3.1h0m0.1 3.3h0m0 3.3h0m0.1 3.4h0m0.1 3.4h0m0 3.4h0m0.1 3.4h0m0 3.4h0m0.1 3.4h0m0 3.3h0m0.1 3.3h0m0.1 3.1h0m0 3h0m0.1 3h0m0.1 2.7h0m0.1 2.6h0m0.1 2.5h0m0.1 2.3h0m0.1 2.1h0m0.1 1.9h0m0.2 1.7h0m0.1 1.5h0m0.1 1.3h0m0.2 1.1h0m0.2 0.9h0m0.3 1.1h0m0.9-0.1h0m0.4-1.1h0m0.3-0.9h0m0.2-1h0m0.3-1.1h0m0.3-1.3h0m0.3-1.5h0m0.2-1.5h0m0.3-1.6h0m0.3-1.7h0m0.3-1.9h0m0.3-1.8h0m0.3-1.9h0m0.3-2h0m0.3-2h0m0.3-2h0m0.3-2h0m0.3-2h0m0.3-1.9h0m0.3-2h0m0.3-1.8h0m0.3-1.9h0m0.3-1.7h0m0.3-1.7h0m0.3-1.6h0m0.3-1.5h0m0.3-1.4h0m0.3-1.3h0m0.2-1.2h0m0.3-1h0m0.3-1h0m0.2-0.8h0m0.5-1.3h0m0.5-0.7h0m0.8-0.1h0m0.6 1.2h0m0.4 1.2h0m0.3 1.6h0m0.2 0.9h0m0.2 1h0m0.1 1h0m0.2 1.1h0m0.2 1.1h0m0.1 1.2h0m0.2 1.1h0m0.1 1.2h0m0.2 1.2h0m0.2 1.2h0m0.1 1.2h0m0.2 1.2h0m0.1 1.2h0m0.2 1.1h0m0.1 1.1h0m0.2 1.1h0m0.2 1.1h0m0.1 1h0m0.2 0.9h0m0.2 0.9h0m0.1 0.8h0m0.4 1.5h0m0.4 1.3h0m0.4 0.9h0m0.4 0.8h0m0.6 0.5h0m0.8 0h0m0.7-0.6h0m0.7-1h0m0.5-0.8h0m0.5-0.9h0m0.5-0.9h0m0.5-1h0m0.4-1h0m0.5-1h0m0.5-0.9h0m0.5-0.8h0m0.5-0.8h0m0.7-0.9h0m0.7-0.6h0m0.9-0.5h0m0.9 0.1h0m0.8 0.5h0m0.7 0.5h0m0.6 0.8h0m0.6 0.8h0m0.6 0.9h0m0.6 1h0m0.7 0.8h0m0.6 0.9h0m0.6 0.7h0m0.6 0.6h0m0.7 0.5h0m0.8 0.5h0m0.9 0.3h0m0.9 0.1h0m0.9 0h0m0.9-0.1h0m0.9-0.1h0m0.9-0.1h0m0.9-0.1h0m0.9 0h0m1 0.1h0m0.9 0.1h0m0.8 0.2h0m0.9 0.3h0m0.9 0.4h0m0.9 0.3h0m0.9 0.4h0m0.9 0.4h0m0.9 0.4h0m0.9 0.3h0m0.9 0.4h0m0.9 0.3h0m0.9 0.2h0m0.9 0.3h0m0.9 0.2h0m1 0.3h0m0.9 0.2h0m0.9 0.2h0m0.9 0.2h0m0.9 0.3h0m0.9 0.2h0m1 0.3h0m0.9 0.2h0m0.9 0.3h0m0.9 0.2h0m1 0.3h0m0.9 0.3h0m0.9 0.3h0m0.9 0.2h0m1 0.3h0m0.9 0.3h0m0.9 0.3h0m1 0.2h0m0.9 0.3h0m1 0.3h0m0.9 0.2h0m0.9 0.3h0m1 0.3h0m0.9 0.2h0m1 0.3h0m0.9 0.3h0m1 0.2h0m0.9 0.3h0m1 0.3h0m0.9 0.3h0m1 0.2h0m0.9 0.3h0m1 0.3h0" fill="none" stroke="#1a0d05" stroke-width="5.0" stroke-linecap="round"/>
<path d="M1011.8 143.0l24.7 6.9 7 2.4 1.7 0.4 3.6 0.1 1.6 0.3 1.9 1 3.6 3.6 1.6 0.9 1-0.1 0.9-0.6 1.1-1.3 2.8-4 0.9-0.7 0.7 0.1 0.9 0.9 0.9 2 1 3.7 2.6 11.9 0.8 2.2 0.4 0.4 0.3 0.1 0.6-0.4 0.4-0.7 1-3.3 1.2-6.4 3.3-19.8 1-4 0.6-1 0.4 0.1 0.5 1.2 0.3 1.6 0.8 6.7 0.7 12.3 1.8 36 0.7 7.4 0.5 2 0.4 0.2 0.6-1.5 0.4-2.2 1.5-12.4 6.2-73.1 1.2-9.4 0.5-1.5 0.2-0.3 0.2 0.2 0.3 1.4 0.4 4.8 0.6 19.2 0.4 81.4 0.3 20.7 0.5 12.5 0.3 2.1 0.2 0.4 0.2 0 0.4-1.4 0.8-5.5 1.9-22.2 6.4-98.9 1.9-25.9 1.3-13.4 0.5-3.6 0.5-1.4 0.2 0.1 0.1 0.7 0.3 3.1 0.4 17.2 0 34.9 -0.9 108.9 0.3 20.2 0.3 6.4 0.3 1.6 0.2 0 0.2-0.6 0.5-2.6 1.6-15.4 1.9-26 7.7-111.6 1.9-20.2 0.8-6.2 0.5-1.4 0.2 0.1 0.2 0.6 0.3 2.9 0.4 15.7 0 25.2 -0.6 93.8 0.4 20.8 0.4 5.1 0.3 1.3 0.2 0.1 0.2-0.4 0.8-3.4 1.5-12.9 6.3-70.3 2.2-22 1.5-11 0.5-2.2 0.5-0.8 0.4 0.4 0.5 3 0.6 10.1 1 48.3 0.5 16.1 0.6 8.5 0.4 2 0.5 1.4 0.4 0 0.7-1.5 1.4-5.8 4.4-28 1.8-9.2 1.3-4.7 0.4-1 0.7-0.6 0.4 0.2 0.4 0.7 0.9 3.3 2.6 17.9 1 5.5 1 2.9 0.4 0.8 0.6 0.5 0.8 0 1.2-1.2 3.6-6.9 1.5-2.2 1.1-1.1 0.7-0.3 0.6 0 0.9 0.4 1.1 1 4.3 5.8 1.1 0.9 1.1 0.6 1.7 0.3 4.8-0.4 2.7 0.3 9.2 3.5 9.2 2.4 23.7 6.8" fill="none" stroke="#ee9630" stroke-width="1.2" stroke-linejoin="round"/>
<path d="M893.9 165.4l26.9 9.3 5.2 2.3 5.9 0.7 3.9 1" fill="none" stroke="#b87061" stroke-width="8.6" stroke-linecap="round"/>
<path d="M893.9 165.4l26.9 9.3 5.2 2.3 5.9 0.7 3.9 1" fill="none" stroke="#eca587" stroke-width="4.6" stroke-linecap="round" transform="translate(0 -0.8)"/>
<path d="M935.8 178.7l2.4 1.2" fill="none" stroke="#b2736d" stroke-width="8.6" stroke-linecap="round"/>
<path d="M935.8 178.7l2.4 1.2" fill="none" stroke="#e5aa98" stroke-width="4.6" stroke-linecap="round" transform="translate(0 -0.8)"/>
<path d="M938.2 179.9l1.4 1.4 0.3 0.7 -0.1 0.6" fill="none" stroke="#ad777a" stroke-width="8.6" stroke-linecap="round"/>
<path d="M938.2 179.9l1.4 1.4 0.3 0.7 -0.1 0.6" fill="none" stroke="#deb0aa" stroke-width="4.6" stroke-linecap="round" transform="translate(0 -0.8)"/>
<path d="M939.8 182.6l-0.6 0.6 -0.8 0.3" fill="none" stroke="#b2736d" stroke-width="8.6" stroke-linecap="round"/>
<path d="M939.8 182.6l-0.6 0.6 -0.8 0.3" fill="none" stroke="#e5aa98" stroke-width="4.6" stroke-linecap="round" transform="translate(0 -0.8)"/>
<path d="M938.4 183.5l-0.6 0.1" fill="none" stroke="#b87061" stroke-width="8.6" stroke-linecap="round"/>
<path d="M938.4 183.5l-0.6 0.1" fill="none" stroke="#eca587" stroke-width="4.6" stroke-linecap="round" transform="translate(0 -0.8)"/>
<path d="M937.8 183.6l-1.5-0.1" fill="none" stroke="#b2736d" stroke-width="8.6" stroke-linecap="round"/>
<path d="M937.8 183.6l-1.5-0.1" fill="none" stroke="#e5aa98" stroke-width="4.6" stroke-linecap="round" transform="translate(0 -0.8)"/>
<path d="M936.3 183.5l-0.9-0.3" fill="none" stroke="#ad777a" stroke-width="8.6" stroke-linecap="round"/>
<path d="M936.3 183.5l-0.9-0.3" fill="none" stroke="#deb0aa" stroke-width="4.6" stroke-linecap="round" transform="translate(0 -0.8)"/>
<path d="M935.4 183.2l-0.7-0.4" fill="none" stroke="#a87b86" stroke-width="8.6" stroke-linecap="round"/>
<path d="M935.4 183.2l-0.7-0.4" fill="none" stroke="#d8b5bb" stroke-width="4.6" stroke-linecap="round" transform="translate(0 -0.8)"/>
<path d="M934.7 182.8l-0.7-0.8" fill="none" stroke="#a37f93" stroke-width="8.6" stroke-linecap="round"/>
<path d="M934.7 182.8l-0.7-0.8" fill="none" stroke="#d1bbcd" stroke-width="4.6" stroke-linecap="round" transform="translate(0 -0.8)"/>
<path d="M934.0 182.0l-0.2-1.1" fill="none" stroke="#9d829f" stroke-width="8.6" stroke-linecap="round"/>
<path d="M934.0 182.0l-0.2-1.1" fill="none" stroke="#cac0de" stroke-width="4.6" stroke-linecap="round" transform="translate(0 -0.8)"/>
<path d="M933.8 180.9l0.8-1.3 1.4-1" fill="none" stroke="#c4c6f0" stroke-width="11.1" stroke-linecap="round"/>
<path d="M937.0 183.2l-0.3-0.7 0.1-0.6 0.7-1.2 1.9-1.2 2.4-0.9" fill="none" stroke="#0a0a0a" stroke-width="4.8" stroke-linecap="round"/>
<path d="M936.0 178.6l0.8-0.4" fill="none" stroke="#c4c6f0" stroke-width="11.4" stroke-linecap="round"/>
<path d="M936.8 178.2l3.2-0.8" fill="none" stroke="#9d829f" stroke-width="8.9" stroke-linecap="round"/>
<path d="M936.8 178.2l3.2-0.8" fill="none" stroke="#cac0de" stroke-width="4.8" stroke-linecap="round" transform="translate(0 -0.8)"/>
<path d="M940.0 177.4l2.7-0.4" fill="none" stroke="#a37f93" stroke-width="8.9" stroke-linecap="round"/>
<path d="M940.0 177.4l2.7-0.4" fill="none" stroke="#d1bbcd" stroke-width="4.8" stroke-linecap="round" transform="translate(0 -0.8)"/>
<path d="M942.7 177.0l3.8 0 4.2 0.5" fill="none" stroke="#a87b86" stroke-width="8.9" stroke-linecap="round"/>
<path d="M942.7 177.0l3.8 0 4.2 0.5" fill="none" stroke="#d8b5bb" stroke-width="4.8" stroke-linecap="round" transform="translate(0 -0.8)"/>
<path d="M950.7 177.5l2.5 0.6" fill="none" stroke="#a37f93" stroke-width="8.9" stroke-linecap="round"/>
<path d="M950.7 177.5l2.5 0.6" fill="none" stroke="#d1bbcd" stroke-width="4.8" stroke-linecap="round" transform="translate(0 -0.8)"/>
<path d="M953.2 178.1l1.7 0.5" fill="none" stroke="#9d829f" stroke-width="8.9" stroke-linecap="round"/>
<path d="M953.2 178.1l1.7 0.5" fill="none" stroke="#cac0de" stroke-width="4.8" stroke-linecap="round" transform="translate(0 -0.8)"/>
<path d="M954.9 178.6l2.5 0.9 2.3 1.1 3.3 2.2 1.5 1.6 0.8 1.1 0.9 1.7 0.3 1.2" fill="none" stroke="#c4c6f0" stroke-width="11.4" stroke-linecap="round"/>
<path d="M937.3 180.9l1-0.9 1.1-0.5 3-1" fill="none" stroke="#0a0a0a" stroke-width="4.9" stroke-linecap="round"/>
<path d="M956.2 179.1l3.4 1.1 3.1 1.4 2.7 1.8 1.7 1.5 1.6 2.2 0.7 1.8 0.1 2.4 -0.5 1.7" fill="none" stroke="#0a0a0a" stroke-width="4.9" stroke-linecap="round"/>
<path d="M925.9 176.8l1.5-2.2 2.1-2.1 2.4-2 2.9-1.8 3.3-1.8 3.7-1.5 6.1-1.8 4.5-0.8 4.6-0.6 7.3-0.3 4.9 0.2 5 0.5 7.3 1.5 4.7 1.4 4.5 1.7 6.2 3.2 5.5 3.9 3.1 2.9 1.4 1.5 2.3 3.3 1 1.7 1.6 3.5 0.6 1.9 0.7 3.7 0.1 1.9 -0.2 3.9 -0.4 1.9" fill="none" stroke="#c4c6f0" stroke-width="11.5" stroke-linecap="round"/>
<path d="M926.9 184.5l0.5-3.3 0.9-2.2 2.2-3.3 2-2.1 3.9-3 3.1-1.8 5.4-2.3 4-1.3 6.5-1.4 4.7-0.6 4.8-0.3 4.9 0 5 0.4 4.9 0.7 4.9 1.1 4.7 1.4 4.5 1.7 4.3 2.1 3.9 2.3 3.5 2.7 3.1 2.9 2.6 3.1 2.2 3.4 0.8 1.8 1.3 3.6 0.7 3.8 0.1 3.8 -0.2 2 -0.8 3.9 -1.5 3.9 -2.2 3.8 -1.3 1.9" fill="none" stroke="#0a0a0a" stroke-width="5.0" stroke-linecap="round"/>
<path d="M966.5 188.4l0 1.8 -0.3 1.2 -0.8 1.7 -0.9 1.1 -1.8 1.6 -1.4 0.9 -3.6 1.5 -4.2 1 -4.8 0.4 -5.1-0.3 -5.2-1.1 -4.8-1.8 -3.2-1.9 -2.7-2.3 -2.1-2.7 -1.3-2.9 -0.4-3.2 0.5-3.3 1.5-3.3" fill="none" stroke="#c4c6f0" stroke-width="11.5" stroke-linecap="round"/>
<path d="M968.0 186.0l0.9 1.7 0.6 1.7 0 1.9 -0.5 1.7 -1 1.8 -1.6 1.5 -2.1 1.5 -2.6 1.2 -3 0.9 -2.2 0.4 -3.6 0.4 -2.5 0 -3.8-0.3 -2.6-0.4 -3.8-1.1 -2.4-0.9 -2.3-1.1 -2.1-1.3 -1.8-1.5 -1.6-1.7 -1.4-1.8 -0.9-1.9 -0.8-3.1 0-2.2 0.5-2.2 1.5-3.3 2.5-3.3 3.6-3" fill="none" stroke="#0a0a0a" stroke-width="5.0" stroke-linecap="round"/>
<path d="M893.9 175.1l1.5-3.3 1.8-3.3 2.1-3.2 2.3-3.1 5.5-6.1 3.1-3 6.9-5.5 7.7-5.1 8.5-4.6 4.4-2 9.4-3.5 9.7-2.9 10-2 5.1-0.8 10.2-0.8 10.1 0 10 0.8 4.8 0.7 9.4 2 9 2.8 8.3 3.6 3.9 2.1 3.7 2.2 3.5 2.4 3.4 2.5 3.1 2.8 2.9 2.8 2.6 3 2.4 3.2 2.2 3.2 2 3.4 1.6 3.5 1.5 3.6 1.1 3.7 0.9 3.7 0.7 3.9 0.3 3.9 0.1 3.9 -0.2 4 -0.4 4.1 -0.7 4 -1 4.1" fill="none" stroke="#c4c6f0" stroke-width="11.6" stroke-linecap="round"/>
<path d="M893.5 195.6l-0.1-3.1 0.1-3.3 0.5-3.2 0.7-3.3 1-3.3 1.2-3.2 1.6-3.3 1.8-3.3 2.1-3.2 2.3-3.2 2.7-3.1 2.8-3 6.5-5.8 7.3-5.4 8.1-4.8 8.8-4.2 4.6-1.9 9.6-3.2 9.9-2.5 10.1-1.7 10.2-0.8 10.2 0 9.9 0.8 9.6 1.6 9.2 2.4 8.6 3.2 8 3.9 3.8 2.3 3.5 2.4 3.3 2.6 3.1 2.7 2.9 2.8 2.7 3.1 2.4 3.1 2.2 3.3 1.9 3.4 1.7 3.4 1.4 3.6 1.2 3.7 0.9 3.8 0.6 3.8 0.4 4 0 3.9 -0.1 4 -0.5 4.1 -0.7 4.1 -1 4.1 -1.3 4.1 -1.5 4.1 -1.8 4.1 -2.1 4.1 -2.3 4 -2.6 4" fill="none" stroke="#0a0a0a" stroke-width="5.0" stroke-linecap="round"/>
<path d="M1012.6 200.5l-1.1 3.9 -0.9 2 -2.1 3.8 -2.7 3.7 -3.4 3.6 -4 3.4 -4.5 3.2 -5.1 2.8 -5.5 2.6 -6 2.1 -6.4 1.8 -6.7 1.3 -6.9 0.7 -7 0.3 -7.1-0.3 -7.1-0.9 -3.5-0.6 -6.8-1.8 -6.5-2.4 -6.1-3 -2.9-1.7 -5.3-3.9 -2.4-2.2 -4.3-4.6 -1.8-2.6 -1.6-2.6 -1.4-2.8 -1.1-2.8 -0.9-2.9 -0.7-3.1 -0.4-3.1 -0.1-3.1 0.2-3.2 0.4-3.2 0.7-3.3 1-3.3 1.3-3.2" fill="none" stroke="#c4c6f0" stroke-width="11.7" stroke-linecap="round"/>
<path d="M1015.5 190.1l0.7 3.8 0.1 1.9 -0.2 3.9 -0.3 1.9 -1.2 3.9 -0.8 2 -2.2 3.8 -2.7 3.7 -1.7 1.9 -3.6 3.5 -4.3 3.3 -2.3 1.5 -5.1 2.9 -5.6 2.5 -2.9 1.2 -6.2 1.9 -6.5 1.6 -3.4 0.6 -6.9 0.8 -7 0.2 -3.6 0 -7.1-0.6 -7-1.2 -6.9-1.8 -6.5-2.4 -6.1-3 -5.6-3.6 -5-4.1 -4.2-4.7 -1.9-2.6 -1.6-2.6 -1.3-2.8 -1.2-2.8 -0.9-3 -0.6-3 -0.4-3.1 -0.1-3.1 0.1-3.3 0.5-3.2 0.7-3.3 1-3.3 1.2-3.2 1.6-3.3 1.8-3.3 2.1-3.2 2.3-3.2 2.7-3.1 2.8-3" fill="none" stroke="#0a0a0a" stroke-width="5.1" stroke-linecap="round"/>
<path d="M1067.3 205.8l-1.3 4.1 -1.5 4.1 -1.8 4.1 -2.1 4 -2.3 4.1 -2.6 4 -5.9 7.8 -6.9 7.5 -7.8 7.1 -8.7 6.7 -9.4 6.1 -10.1 5.5 -10.7 4.7 -11.2 4 -5.7 1.7 -5.9 1.4 -5.8 1.2 -6 0.9 -5.9 0.7 -6 0.4 -5.9 0.1 -5.9-0.1 -5.8-0.4 -5.8-0.7 -5.7-1 -5.5-1.3 -5.4-1.5 -5.2-1.9 -5.1-2.2 -4.8-2.5 -4.6-2.7 -4.3-3 -4.1-3.4 -3.8-3.6 -3.4-3.8 -3.2-4.1 -2.7-4.4 -2.4-4.6 -2.1-4.8 -1.6-5 -1.2-5.2 -0.8-5.3 -0.4-5.5 0.1-5.7 0.5-5.7 0.9-5.8 1.4-5.8 1.8-5.9 2.2-5.9" fill="none" stroke="#c4c6f0" stroke-width="11.9" stroke-linecap="round"/>
<path d="M1072.4 182.7l0.4 4 0 3.9 -0.1 4 -0.5 4.1 -0.7 4.1 -1 4.1 -1.3 4.1 -1.5 4.1 -1.8 4.1 -2.1 4.1 -2.3 4 -2.6 4 -2.9 3.9 -6.4 7.7 -7.3 7.4 -4 3.5 -8.7 6.7 -9.4 6.2 -5 2.8 -10.4 5.2 -11 4.4 -5.7 1.8 -5.7 1.7 -5.8 1.4 -5.9 1.2 -6 1 -5.9 0.7 -6 0.4 -5.9 0.2 -5.9-0.2 -5.8-0.4 -5.8-0.7 -5.7-0.9 -5.5-1.3 -5.4-1.6 -5.2-1.9 -5.1-2.1 -4.8-2.5 -4.6-2.8 -4.4-3 -4-3.3 -3.8-3.7 -3.5-3.8 -3.1-4.1 -2.8-4.4 -2.4-4.6 -2-4.8 -1.6-5 -1.2-5.3 -0.8-5.3 -0.4-5.5 0.1-5.7 0.5-5.7 0.9-5.8 1.4-5.9 1.8-5.9 2.3-6 2.6-5.9 3.1-5.9 3.4-5.8 3.9-5.7 4.2-5.6 4.6-5.5" fill="none" stroke="#0a0a0a" stroke-width="5.1" stroke-linecap="round"/>
<path d="M866.9 184.2l2.7-5.9 3-5.9 3.5-5.8 3.8-5.7 4.2-5.6 4.6-5.5 4.9-5.3 5.2-5.2 5.4-4.9 5.8-4.8 6-4.5 6.2-4.3 6.4-4 6.6-3.7 6.7-3.5 6.8-3.2 6.9-2.8 7-2.6 7-2.2 7-1.9 7-1.6 7-1.2 6.9-1 6.8-0.5 6.7-0.3 6.6 0.1 6.4 0.3 6.3 0.7 6.1 1.1 5.9 1.3 5.7 1.6 5.4 1.9 5.2 2.2 5 2.4 4.7 2.7 4.4 3 4.1 3.2 3.9 3.4 3.6 3.7 3.2 3.9 2.9 4 2.7 4.3 2.3 4.4 2 4.6 1.7 4.7 1.3 4.9 1 5 0.8 5.1 0.3 5.2 0.1 5.3 -0.3 5.4 -0.5 5.5 -0.9 5.4 -1.2 5.6 -1.5 5.5" fill="none" stroke="#c4c6f0" stroke-width="11.9" stroke-linecap="round"/>
<path d="M863.1 220.3l0.1-5.7 0.5-5.7 0.9-5.8 1.4-5.9 1.8-5.9 2.3-6 2.6-5.9 3.1-5.9 3.4-5.8 3.9-5.7 4.2-5.6 4.6-5.5 4.9-5.4 5.2-5.2 5.5-4.9 5.7-4.8 6-4.5 6.3-4.3 6.4-4.1 6.6-3.7 6.7-3.5 6.8-3.2 6.9-2.9 7-2.5 7-2.3 7.1-1.9 7-1.6 6.9-1.2 7-0.9 6.8-0.6 6.7-0.3 6.6 0.1 6.4 0.3 6.3 0.7 6.1 1 5.9 1.4 5.7 1.6 5.4 1.9 5.2 2.2 5 2.4 4.7 2.7 4.4 3 4.1 3.2 3.9 3.5 3.5 3.6 3.3 3.9 2.9 4.1 2.7 4.3 2.3 4.4 2 4.6 1.6 4.7 1.4 4.9 1 5 0.7 5.2 0.4 5.2 0 5.3 -0.2 5.4 -0.6 5.4 -0.9 5.5 -1.2 5.6 -1.5 5.6 -1.8 5.5 -2.1 5.6 -2.4 5.6 -2.7 5.5 -2.9 5.5 -3.3 5.5" fill="none" stroke="#0a0a0a" stroke-width="5.2" stroke-linecap="round"/>
<path d="M1098.2 198.7l-1.8 5.6 -2.1 5.5 -2.4 5.6 -2.7 5.5 -2.9 5.5 -3.3 5.4 -3.5 5.4 -3.7 5.3 -4 5.1 -4.2 5.1 -4.5 5 -4.7 4.8 -4.8 4.7 -5.1 4.5 -5.3 4.4 -5.4 4.2 -5.6 4 -5.7 3.7 -5.8 3.6 -6 3.3 -6 3.1 -6.1 2.8 -6.2 2.5 -6.2 2.3 -6.2 1.9 -6.3 1.7 -6.2 1.3 -6.2 1.1 -6.1 0.7 -6 0.4 -5.9 0 -5.8-0.3 -5.7-0.7 -5.5-1 -5.3-1.3 -5.1-1.7 -4.8-2.1 -4.6-2.4 -4.4-2.7 -4-3.1 -3.8-3.4 -3.4-3.7 -3-4 -2.8-4.3 -2.3-4.6 -2-4.9 -1.6-5.1 -1.2-5.3 -0.7-5.5 -0.4-5.8 0-5.9 0.5-6 0.8-6.2 1.3-6.2 1.6-6.3 2.1-6.4 2.4-6.4" fill="none" stroke="#c4c6f0" stroke-width="12.0" stroke-linecap="round"/>
<path d="M1105.9 167.0l0 5.3 -0.2 5.4 -0.6 5.4 -0.9 5.5 -1.2 5.6 -1.5 5.6 -1.8 5.5 -2.1 5.6 -2.4 5.6 -2.7 5.5 -2.9 5.5 -3.3 5.5 -3.5 5.3 -3.7 5.3 -4 5.2 -4.3 5.1 -4.4 5 -4.7 4.9 -4.9 4.7 -5.1 4.5 -5.2 4.4 -5.4 4.2 -5.6 4 -5.7 3.8 -5.9 3.6 -5.9 3.3 -6.1 3.1 -6.1 2.8 -6.2 2.5 -6.2 2.3 -6.2 2 -6.3 1.7 -6.2 1.3 -6.2 1.1 -6.1 0.7 -6 0.4 -5.9 0 -5.9-0.3 -5.6-0.6 -5.5-1 -5.3-1.4 -5.1-1.7 -4.9-2 -4.6-2.4 -4.3-2.8 -4.1-3 -3.7-3.4 -3.4-3.7 -3.1-4.1 -2.7-4.3 -2.4-4.6 -1.9-4.9 -1.6-5.1 -1.2-5.3 -0.8-5.6 -0.3-5.7 0-5.9 0.4-6.1 0.9-6.2 1.3-6.3 1.6-6.3 2.1-6.4 2.4-6.4 2.9-6.4 3.1-6.4 3.5-6.4 3.9-6.2 4.1-6.2 4.5-6" fill="none" stroke="#0a0a0a" stroke-width="5.2" stroke-linecap="round"/>
<path d="M1091.3 185.0l-1.3 4.9 -3.4 9.9 -4.3 9.8 -5 9.6 -2.8 4.8 -6.1 9.2 -6.8 8.9 -7.2 8.4 -3.8 4 -7.9 7.4 -8.1 6.9 -8.4 6 -4.2 2.7 -8.4 4.8 -8.4 3.8 -8.2 2.9 -4 1 -7.8 1.4 -3.7 0.3 -3.6 0 -3.4-0.2 -3.3-0.5 -3.2-0.8 -2.9-1 -2.8-1.2 -2.6-1.5 -2.5-1.7 -2.2-2 -1.9-2.2 -1.8-2.4 -1.6-2.7 -1.3-2.8 -1.1-3 -0.8-3.2 -0.6-3.3 -0.4-3.5 -0.1-3.7 0.4-7.6 1.4-8 2.3-8.3 3.1-8.4" fill="none" stroke="#c4c6f0" stroke-width="12.1" stroke-linecap="round"/>
<path d="M1097.9 157.4l0.1 4.6 -0.1 4.7 -0.4 4.7 -0.7 4.8 -2 9.8 -3 9.9 -3.8 9.9 -4.7 9.8 -5.4 9.5 -6.1 9.3 -6.8 8.9 -7.2 8.4 -7.7 7.9 -8.1 7.2 -8.2 6.4 -8.4 5.7 -8.5 4.8 -4.2 2 -8.3 3.4 -8.1 2.4 -7.7 1.3 -3.8 0.3 -3.5 0.1 -3.5-0.2 -3.3-0.5 -3.1-0.8 -3-1 -2.8-1.2 -2.6-1.5 -2.4-1.8 -2.2-1.9 -2-2.2 -1.8-2.5 -1.5-2.6 -1.4-2.8 -1-3 -0.9-3.2 -0.6-3.4 -0.3-3.5 -0.1-7.4 0.4-3.9 1.4-8.1 2.3-8.3 1.4-4.2 3.6-8.4 4.2-8.4 2.4-4.1 5.3-8.2" fill="none" stroke="#0a0a0a" stroke-width="5.2" stroke-linecap="round"/>
<path d="M889.6 207.4l2.8-6.4 3.2-6.4 3.5-6.3 3.8-6.2 4.2-6.1 4.4-6 4.7-5.9 5-5.7 5.1-5.5 5.4-5.3 5.6-5 5.7-4.8 5.9-4.6 5.9-4.3 6.1-4 6.1-3.7 6.2-3.4 6.2-3.2 6.1-2.7 6.2-2.5 6.1-2.2 6-1.8 6-1.5 5.8-1.2 5.7-0.8 5.6-0.5 5.5-0.3 5.2 0.2 5.1 0.4 4.9 0.7 4.7 1 4.5 1.3 4.2 1.6 4.1 1.8 3.8 2.1 3.5 2.4 3.3 2.6 3 2.8 2.8 3.1 2.5 3.2 2.2 3.5 2 3.6 1.7 3.8 1.5 4 1.1 4.1 0.9 4.2 0.7 4.4 0.3 4.5 0.2 4.6 -0.2 4.7 -0.4 4.7 -0.6 4.8 -2.1 9.8" fill="none" stroke="#c4c6f0" stroke-width="12.2" stroke-linecap="round"/>
<path d="M884.1 246.4l0.4-6.1 0.9-6.2 1.3-6.3 1.6-6.3 2.1-6.4 2.4-6.4 2.9-6.4 3.1-6.4 3.5-6.4 3.9-6.2 4.1-6.2 4.5-6 4.7-5.9 5-5.7 5.2-5.5 5.4-5.3 5.5-5.1 5.8-4.8 5.8-4.6 6-4.3 6.1-4 6.1-3.8 6.2-3.4 6.2-3.1 6.2-2.9 6.1-2.4 6.1-2.2 6.1-1.8 5.9-1.5 5.9-1.2 5.7-0.9 5.6-0.5 5.4-0.2 5.3 0.1 5.1 0.4 4.9 0.7 4.7 1 4.5 1.3 4.2 1.6 4.1 1.8 3.7 2.2 3.6 2.3 3.3 2.6 3 2.9 2.8 3 2.5 3.3 2.2 3.4 2 3.7 1.7 3.8 1.4 4 1.2 4.1 0.9 4.3 0.6 4.4 0.4 4.5 0.1 4.6 -0.1 4.7 -0.4 4.7 -0.7 4.8 -0.9 4.9 -2.5 9.9 -3.4 9.9 -2 4.9 -4.7 9.8" fill="none" stroke="#0a0a0a" stroke-width="5.3" stroke-linecap="round"/>
<path d="M1065.9 191.5l-2.5 8.4 -3.4 8.4 -4.1 8 -4.8 7.6 -5.1 7 -3.6 4.2 -3.7 3.8 -5.5 4.9 -3.6 2.7 -3.5 2.3 -3.3 1.7 -3.1 1.2 -2.9 0.7 -2.7 0.2 -2.3-0.3 -2-0.8 -1.6-1.2 -1.3-1.6 -0.9-2.1 -0.5-2.3 -0.2-2.7 0.4-4.4 0.8-3.3 1-3.3 1.4-3.4 2.5-5.2" fill="none" stroke="#c4c6f0" stroke-width="12.3" stroke-linecap="round"/>
<path d="M1071.2 176.5l0 2.6 -0.3 5.3 -0.9 5.5 -1.3 5.6 -2.8 8.4 -2.4 5.5 -2.7 5.5 -4.5 7.8 -3.4 4.9 -3.4 4.5 -3.7 4.3 -3.6 3.8 -3.7 3.4 -3.6 3 -3.6 2.4 -5 2.8 -3.2 1.2 -4.2 0.9 -2.5 0 -1.1-0.2 -2-0.8 -1.6-1.2 -0.7-0.8 -1.1-1.8 -0.7-2.2 -0.4-3.9 0.5-4.5 1.2-4.9 1.9-5.1 2.5-5.2 3.1-5.2 3.4-4.9" fill="none" stroke="#0a0a0a" stroke-width="5.3" stroke-linecap="round"/>
<path d="M952.6 223.7l1.9-4.2 4.2-8.4 2.4-4.1 5.3-8.1 2.8-3.9 6-7.5 3.1-3.6 6.5-6.8 3.4-3.2 6.8-5.8 3.5-2.7 6.9-4.8 3.4-2.1 6.8-3.7 6.6-2.9 6.4-2 3.1-0.8 5.8-0.9 5.4-0.1 5 0.7 2.3 0.5 4.1 1.7 3.7 2.4 3 2.9 1.4 1.7 2.1 3.7 1.7 4.2 1 4.6 0.5 4.9 -0.1 5.2 -0.6 5.4 -1.1 5.5" fill="none" stroke="#c4c6f0" stroke-width="12.4" stroke-linecap="round"/>
<path d="M949.2 249.8l0.6-4 1.8-8.2 2.7-8.4 3.6-8.4 2-4.2 4.6-8.3 5.3-8.2 5.7-7.7 6.2-7.4 6.6-6.8 6.7-6.2 6.9-5.5 7-4.8 6.8-4.1 6.8-3.3 6.5-2.5 6.2-1.7 5.8-0.9 5.5-0.1 4.9 0.7 4.5 1.3 3.9 2 3.3 2.7 1.5 1.5 2.5 3.5 1.9 4 1.3 4.4 0.7 4.8 0.2 2.5 -0.1 5.2 -0.6 5.4 -1.8 8.4 -1.8 5.6 -3.4 8.3" fill="none" stroke="#0a0a0a" stroke-width="5.4" stroke-linecap="round"/>
<path d="M1011.4 222.0l2-3.5 3.3-4.9 3.7-4.7 3.8-4.2 2.6-2.5 4-3.3 3.8-2.6 3.7-1.9 3.4-1.2 3.1-0.6 2.7 0.2 2.2 0.7 1.8 1.3 1 1.2 0.8 1.4 0.8 2.3 0.4 3.6" fill="none" stroke="#c4c6f0" stroke-width="12.5" stroke-linecap="round"/>
<path d="M1010.5 233.6l1.9-5.1 2.5-5.2 3.1-5.2 4.7-6.4 3.8-4.4 5.2-5 4-3.1 5-3.1 3.5-1.4 2.2-0.6 2-0.3 1.8 0 1.7 0.3 1.4 0.6 1.3 0.8 1.1 1.1 0.8 1.2 0.7 1.5 0.6 2.5 0.3 3.7 -0.6 5" fill="none" stroke="#0a0a0a" stroke-width="5.4" stroke-linecap="round"/>
<path d="M1054.5 203.3l-0.2 2.9 -0.7 4.1 -0.8 3 -1.4 3.8" fill="none" stroke="#c4c6f0" stroke-width="12.9" stroke-linecap="round"/>
<path d="M1051.4 217.1l-1.6 3.6" fill="none" stroke="#9d829f" stroke-width="10.1" stroke-linecap="round"/>
<path d="M1051.4 217.1l-1.6 3.6" fill="none" stroke="#cac0de" stroke-width="5.4" stroke-linecap="round" transform="translate(0 -0.8)"/>
<path d="M1049.8 220.7l-2.2 3.8 -2 2.8" fill="none" stroke="#a37f93" stroke-width="10.1" stroke-linecap="round"/>
<path d="M1049.8 220.7l-2.2 3.8 -2 2.8" fill="none" stroke="#d1bbcd" stroke-width="5.4" stroke-linecap="round" transform="translate(0 -0.8)"/>
<path d="M1045.6 227.3l-1.5 1.6 -1.1 1" fill="none" stroke="#9d829f" stroke-width="10.1" stroke-linecap="round"/>
<path d="M1045.6 227.3l-1.5 1.6 -1.1 1" fill="none" stroke="#cac0de" stroke-width="5.4" stroke-linecap="round" transform="translate(0 -0.8)"/>
<path d="M1043.0 229.9l-0.6 0.3 -0.5-0.1 -0.2-0.7 0.3-1" fill="none" stroke="#c4c6f0" stroke-width="12.9" stroke-linecap="round"/>
<path d="M1042.0 228.4l1.1-2.2" fill="none" stroke="#9d829f" stroke-width="10.1" stroke-linecap="round"/>
<path d="M1042.0 228.4l1.1-2.2" fill="none" stroke="#cac0de" stroke-width="5.4" stroke-linecap="round" transform="translate(0 -0.8)"/>
<path d="M1043.1 226.2l1.5-2.1" fill="none" stroke="#a37f93" stroke-width="10.1" stroke-linecap="round"/>
<path d="M1043.1 226.2l1.5-2.1" fill="none" stroke="#d1bbcd" stroke-width="5.4" stroke-linecap="round" transform="translate(0 -0.8)"/>
<path d="M1044.6 224.1l1.7-2.1" fill="none" stroke="#a87b86" stroke-width="10.1" stroke-linecap="round"/>
<path d="M1044.6 224.1l1.7-2.1" fill="none" stroke="#d8b5bb" stroke-width="5.4" stroke-linecap="round" transform="translate(0 -0.8)"/>
<path d="M1046.3 222.0l2.1-1.9" fill="none" stroke="#ad777a" stroke-width="10.1" stroke-linecap="round"/>
<path d="M1046.3 222.0l2.1-1.9" fill="none" stroke="#deb0aa" stroke-width="5.4" stroke-linecap="round" transform="translate(0 -0.8)"/>
<path d="M1048.4 220.1l3.3-2.5 1.6-0.8 1.5-0.5" fill="none" stroke="#b2736d" stroke-width="10.1" stroke-linecap="round"/>
<path d="M1048.4 220.1l3.3-2.5 1.6-0.8 1.5-0.5" fill="none" stroke="#e5aa98" stroke-width="5.4" stroke-linecap="round" transform="translate(0 -0.8)"/>
<path d="M1054.8 216.3l1.7-0.1 1.7 0.3 1.3 0.9 0.9 1.3" fill="none" stroke="#ad777a" stroke-width="10.1" stroke-linecap="round"/>
<path d="M1054.8 216.3l1.7-0.1 1.7 0.3 1.3 0.9 0.9 1.3" fill="none" stroke="#deb0aa" stroke-width="5.4" stroke-linecap="round" transform="translate(0 -0.8)"/>
<path d="M1060.4 218.7l1 2.6" fill="none" stroke="#b2736d" stroke-width="10.1" stroke-linecap="round"/>
<path d="M1060.4 218.7l1 2.6" fill="none" stroke="#e5aa98" stroke-width="5.4" stroke-linecap="round" transform="translate(0 -0.8)"/>
<path d="M1061.4 221.3l0.9 4.1 0.6 0.9 0.7 0.5 1.3 0.1 5.3-0.5 3 0.5 1.8 0.7 4.4 2.3 2.4 1.1 9.2 2.8 23.1 8.1" fill="none" stroke="#b87061" stroke-width="10.1" stroke-linecap="round"/>
<path d="M1061.4 221.3l0.9 4.1 0.6 0.9 0.7 0.5 1.3 0.1 5.3-0.5 3 0.5 1.8 0.7 4.4 2.3 2.4 1.1 9.2 2.8 23.1 8.1" fill="none" stroke="#eca587" stroke-width="5.4" stroke-linecap="round" transform="translate(0 -0.8)"/>
<path d="M1057.2 199.3l0.5 1.6 0.3 2.7 0 2.8 -0.3 3 -0.7 3.1 -0.9 3 -1.1 2.9 -1.6 3.6" fill="none" stroke="#0a0a0a" stroke-width="5.6" stroke-linecap="round"/>
<path d="M1049.6 228.1l-2.5 2.7 -0.7 0.5 -0.7 0.2 -0.3-0.4 0.1-0.9 1.3-2.7" fill="none" stroke="#0a0a0a" stroke-width="5.6" stroke-linecap="round"/>
<g transform="translate(1114.1 241.9) rotate(19.2)"><ellipse rx="2.9" ry="5.2" fill="#e7a58e" stroke="#a86a66" stroke-width="0.8"/><ellipse cx="0.3" rx="1.6" ry="2.6" fill="#3a2020"/></g>
<path d="M768.7 347.0L971.1 475.1M971.1 475.1L1226.7 364.0M750.7 27.8L970.6 79.1M970.6 79.1L1249.3 36.9M1249.3 36.9L1013.1 1.8M1013.1 1.8L750.7 27.8M768.7 347.0L750.7 27.8M971.1 475.1L970.6 79.1M1226.7 364.0L1249.3 36.9" fill="none" stroke="#000" stroke-width="1.9" stroke-linecap="round"/>
<text x="119.0" y="66.6" font-family="Liberation Sans" font-size="41" font-weight="bold">a</text>
<text transform="matrix(0.8241 0.5664 -0.5664 0.8241 131.12 384.11)" font-family="Liberation Sans" font-size="28.5" text-anchor="middle">80</text>
<text transform="matrix(0.8241 0.5664 -0.5664 0.8241 203.32 426.71)" font-family="Liberation Sans" font-size="28.5" text-anchor="middle">100</text>
<text transform="matrix(0.8241 0.5664 -0.5664 0.8241 273.92 475.11)" font-family="Liberation Sans" font-size="28.5" text-anchor="middle">120</text>
<text transform="matrix(0.8290 0.5592 -0.5592 0.8290 181.22 461.79)" font-family="Liberation Sans" font-size="28.5" text-anchor="middle">Time (a.u.)</text>
<text transform="matrix(0.9245 -0.3811 0.2250 0.9744 386.00 481.24)" font-family="Liberation Sans" font-size="28.5" text-anchor="middle">−0.0005</text>
<text transform="matrix(0.9245 -0.3811 0.2250 0.9744 481.30 438.94)" font-family="Liberation Sans" font-size="28.5" text-anchor="middle">0</text>
<text transform="matrix(0.9245 -0.3811 0.2250 0.9744 561.80 406.74)" font-family="Liberation Sans" font-size="28.5" text-anchor="middle">0.0005</text>
<text transform="matrix(0.9205 -0.3907 0.1564 0.9877 498.24 477.74)" font-family="Liberation Sans" font-size="28.5" text-anchor="middle">A<tspan font-size="20" dy="6" font-style="italic">x</tspan><tspan dy="-6"> (a.u.)</tspan></text>
<text transform="matrix(0.0523 -0.9986 0.9986 0.0523 632.19 105.83)" font-family="Liberation Sans" font-size="28.5" text-anchor="middle">0.0005</text>
<text transform="matrix(0.0523 -0.9986 0.9986 0.0523 626.19 212.33)" font-family="Liberation Sans" font-size="28.5" text-anchor="middle">0</text>
<text transform="matrix(0.0523 -0.9986 0.9986 0.0523 617.19 306.83)" font-family="Liberation Sans" font-size="28.5" text-anchor="middle">−0.0005</text>
<text transform="matrix(0.0523 -0.9986 0.9986 0.0523 666.54 224.25)" font-family="Liberation Sans" font-size="28.5" text-anchor="middle">A<tspan font-size="20" dy="6" font-style="italic">y</tspan><tspan dy="-6"> (a.u.)</tspan></text>
<text x="763.5" y="75.3" font-family="Liberation Sans" font-size="41" font-weight="bold">b</text>
<text transform="matrix(0.8241 0.5664 -0.5664 0.8241 780.22 387.71)" font-family="Liberation Sans" font-size="28.5" text-anchor="middle">80</text>
<text transform="matrix(0.8241 0.5664 -0.5664 0.8241 841.82 427.61)" font-family="Liberation Sans" font-size="28.5" text-anchor="middle">100</text>
<text transform="matrix(0.8241 0.5664 -0.5664 0.8241 910.12 469.31)" font-family="Liberation Sans" font-size="28.5" text-anchor="middle">120</text>
<text transform="matrix(0.8290 0.5592 -0.5592 0.8290 820.62 462.69)" font-family="Liberation Sans" font-size="28.5" text-anchor="middle">Time (a.u.)</text>
<text transform="matrix(0.9245 -0.3811 0.2250 0.9744 1023.50 482.24)" font-family="Liberation Sans" font-size="28.5" text-anchor="middle">−0.0005</text>
<text transform="matrix(0.9245 -0.3811 0.2250 0.9744 1117.90 440.44)" font-family="Liberation Sans" font-size="28.5" text-anchor="middle">0</text>
<text transform="matrix(0.9245 -0.3811 0.2250 0.9744 1197.90 410.14)" font-family="Liberation Sans" font-size="28.5" text-anchor="middle">0.0005</text>
<text transform="matrix(0.9205 -0.3907 0.1564 0.9877 1135.84 477.74)" font-family="Liberation Sans" font-size="28.5" text-anchor="middle">A<tspan font-size="20" dy="6" font-style="italic">x</tspan><tspan dy="-6"> (a.u.)</tspan></text>
<text transform="matrix(0.0523 -0.9986 0.9986 0.0523 1272.99 108.83)" font-family="Liberation Sans" font-size="28.5" text-anchor="middle">0.0005</text>
<text transform="matrix(0.0523 -0.9986 0.9986 0.0523 1266.99 214.53)" font-family="Liberation Sans" font-size="28.5" text-anchor="middle">0</text>
<text transform="matrix(0.0523 -0.9986 0.9986 0.0523 1257.99 310.53)" font-family="Liberation Sans" font-size="28.5" text-anchor="middle">−0.0005</text>
<text transform="matrix(0.0523 -0.9986 0.9986 0.0523 1308.04 226.45)" font-family="Liberation Sans" font-size="28.5" text-anchor="middle">A<tspan font-size="20" dy="6" font-style="italic">y</tspan><tspan dy="-6"> (a.u.)</tspan></text>
<g>
<rect x="130.4" y="576.0" width="465.2" height="461.7" fill="#0b0a0c"/>
<g filter="url(#sm)"><g id="rc">
<path fill="#0b0a10" d="M545.7 812.0l0-9.8 -0.5-9.8 -1.1-9.8 -1.7-9.7 -2.2-9.6 -2.7-9.5 -3.3-9.3 -3.8-9 -4.2-8.9 -4.8-8.6 -5.2-8.3 -5.7-8.1 -6.1-7.6 -6.5-7.4 -6.9-7 -7.2-6.6 -7.6-6.2 -7.9-5.7 -8.2-5.4 -8.5-4.9 -8.7-4.4 -9-4 -9.1-3.5 -9.3-3 -9.4-2.6 -9.6-2 -9.6-1.6 -9.7-1.1 -9.8-0.5 -9.8-0.1 -9.8 0.4 -9.7 1 -9.7 1.4 -9.6 2 -9.5 2.4 -9.4 3 -9.2 3.5 -9 3.9 -8.8 4.4 -8.5 4.9 -8.2 5.4 -8 5.8 -7.6 6.2 -7.3 6.7 -6.9 7 -6.5 7.4 -6.1 7.8 -5.7 8.1 -5.1 8.3 -4.7 8.7 -4.3 8.9 -3.7 9.2 -3.2 9.3 -2.6 9.5 -2.2 9.6 -1.6 9.7 -1 9.8 -0.5 9.9 0.1 9.8 44.9-1.3 0.1-7.4 0.4-7.4 0.8-7.4 1.2-7.3 1.6-7.2 1.9-7.2 2.4-7 2.7-6.9 3-6.8 3.5-6.6 3.8-6.4 4.1-6.3 4.4-6 4.8-5.7 5.1-5.5 5.4-5.3 5.6-4.9 5.9-4.7 6.2-4.4 6.4-4 6.6-3.6 6.9-3.4 7-2.9 7.2-2.6 7.3-2.1 7.4-1.8 7.5-1.3 7.6-1 7.7-0.5 7.6 0 7.7 0.3 7.6 0.8 7.6 1.3 7.5 1.6 7.3 2.1 7.3 2.5 7.1 2.9 6.9 3.3 6.6 3.6 6.5 4 6.2 4.4 6 4.7 5.7 5 5.4 5.3 5.1 5.6 4.7 5.8 4.5 6.1 4.1 6.3 3.7 6.4 3.4 6.7 3.1 6.8 2.6 7 2.3 7.1 1.9 7.2 1.5 7.3 1.1 7.3 0.7 7.4 0.4 7.4 -0.1 7.4z"/>
<path fill="#0b0a1f" d="M544.9 812.0l0-9.8 -0.6-9.8 -1.1-9.7 -1.6-9.7 -2.2-9.5 -2.7-9.4 -3.3-9.3 -3.8-9 -4.2-8.8 -4.7-8.6 -5.2-8.3 -5.7-7.9 -6.1-7.7 -6.4-7.3 -6.9-6.9 -7.2-6.6 -7.6-6.1 -7.9-5.8 -8.1-5.3 -8.5-4.8 -8.6-4.5 -8.9-3.9 -9.1-3.5 -9.3-3 -9.3-2.5 -9.6-2.1 -9.6-1.5 -9.6-1.1 -9.7-0.6 -9.8-0.1 -9.7 0.5 -9.7 0.9 -9.6 1.4 -9.6 2 -9.4 2.4 -9.4 3 -9.1 3.4 -9 3.9 -8.7 4.4 -8.5 4.9 -8.2 5.3 -8 5.8 -7.6 6.2 -7.2 6.6 -6.9 7 -6.5 7.3 -6 7.8 -5.6 8 -5.2 8.4 -4.7 8.6 -4.2 8.8 -3.7 9.1 -3.2 9.3 -2.6 9.5 -2.2 9.6 -1.5 9.7 -1.1 9.7 -0.4 9.8 0 9.8 43.3-1.3 0-7.4 0.5-7.5 0.8-7.4 1.2-7.3 1.6-7.3 1.9-7.2 2.4-7.1 2.7-7 3.1-6.8 3.5-6.6 3.8-6.5 4.1-6.2 4.5-6.1 4.8-5.8 5.1-5.5 5.4-5.3 5.7-5 5.9-4.7 6.2-4.4 6.5-4 6.6-3.8 6.9-3.3 7.1-3 7.2-2.6 7.3-2.1 7.5-1.8 7.6-1.4 7.6-0.9 7.7-0.5 7.8-0.1 7.7 0.4 7.6 0.8 7.7 1.2 7.5 1.7 7.4 2.1 7.3 2.5 7.1 2.9 7 3.3 6.7 3.7 6.5 4.1 6.3 4.4 6 4.7 5.7 5 5.4 5.4 5.1 5.6 4.8 5.8 4.5 6.2 4.1 6.3 3.8 6.5 3.4 6.7 3 6.9 2.7 7 2.3 7.1 1.9 7.3 1.5 7.3 1.1 7.4 0.8 7.4 0.3 7.5 -0.1 7.4z"/>
<path fill="#120a32" d="M544.2 812.0l-0.1-9.8 -0.5-9.7 -1.1-9.7 -1.7-9.6 -2.2-9.5 -2.7-9.4 -3.2-9.2 -3.8-9 -4.2-8.8 -4.7-8.5 -5.2-8.2 -5.6-8 -6.1-7.6 -6.5-7.2 -6.8-6.9 -7.2-6.6 -7.5-6.1 -7.9-5.7 -8.1-5.2 -8.4-4.9 -8.6-4.4 -8.9-3.9 -9-3.4 -9.2-3 -9.4-2.6 -9.4-2 -9.6-1.5 -9.6-1.1 -9.7-0.6 -9.6-0.1 -9.7 0.5 -9.7 0.9 -9.6 1.4 -9.5 1.9 -9.4 2.5 -9.3 2.9 -9.1 3.4 -8.9 3.9 -8.7 4.3 -8.5 4.9 -8.2 5.3 -7.8 5.7 -7.6 6.2 -7.2 6.5 -6.9 7 -6.4 7.3 -6.1 7.7 -5.6 8 -5.1 8.3 -4.7 8.6 -4.2 8.9 -3.7 9 -3.1 9.3 -2.7 9.4 -2.1 9.5 -1.6 9.7 -1 9.7 -0.5 9.7 0.1 9.8 41.8-1.3 0-7.5 0.4-7.4 0.8-7.5 1.2-7.4 1.6-7.3 2-7.2 2.4-7.2 2.7-7 3.1-6.8 3.5-6.7 3.8-6.5 4.2-6.3 4.5-6.1 4.8-5.8 5.1-5.6 5.4-5.3 5.8-5.1 5.9-4.7 6.3-4.4 6.5-4.1 6.7-3.7 6.9-3.4 7.1-3 7.2-2.6 7.4-2.2 7.6-1.8 7.6-1.4 7.7-0.9 7.7-0.5 7.8-0.1 7.7 0.4 7.8 0.8 7.6 1.2 7.6 1.7 7.5 2.1 7.3 2.5 7.2 3 7 3.3 6.7 3.7 6.6 4.1 6.3 4.4 6 4.8 5.8 5.1 5.4 5.4 5.2 5.6 4.8 5.9 4.5 6.2 4.1 6.3 3.8 6.6 3.4 6.8 3.1 6.9 2.7 7 2.3 7.2 1.9 7.3 1.5 7.4 1.1 7.4 0.7 7.5 0.4 7.4 -0.1 7.5z"/>
<path fill="#1e0c45" d="M543.4 812.0l0-9.7 -0.6-9.8 -1.1-9.6 -1.6-9.6 -2.2-9.5 -2.7-9.3 -3.2-9.1 -3.8-9 -4.2-8.7 -4.7-8.5 -5.2-8.2 -5.6-7.9 -6-7.6 -6.4-7.2 -6.9-6.9 -7.1-6.5 -7.5-6 -7.9-5.7 -8.1-5.2 -8.3-4.8 -8.6-4.4 -8.8-3.9 -9-3.4 -9.2-3 -9.3-2.5 -9.4-2 -9.5-1.6 -9.6-1 -9.6-0.6 -9.6-0.1 -9.7 0.4 -9.6 0.9 -9.5 1.4 -9.5 1.9 -9.3 2.4 -9.3 2.9 -9.1 3.4 -8.8 3.9 -8.7 4.3 -8.4 4.8 -8.2 5.3 -7.9 5.7 -7.5 6.1 -7.2 6.6 -6.8 6.9 -6.5 7.3 -6 7.6 -5.6 8 -5.1 8.3 -4.6 8.5 -4.2 8.8 -3.7 9.1 -3.2 9.2 -2.6 9.3 -2.1 9.5 -1.6 9.7 -1 9.6 -0.5 9.7 0.1 9.8 40.3-1.2 0-7.6 0.5-7.5 0.8-7.5 1.2-7.4 1.6-7.4 2-7.3 2.4-7.1 2.7-7.1 3.1-6.8 3.5-6.8 3.9-6.5 4.2-6.3 4.5-6.1 4.8-5.9 5.2-5.6 5.4-5.4 5.8-5.1 6-4.7 6.3-4.5 6.5-4.1 6.7-3.7 7-3.4 7.1-3 7.3-2.7 7.4-2.2 7.6-1.8 7.7-1.4 7.7-1 7.8-0.5 7.8-0.1 7.8 0.4 7.8 0.8 7.7 1.3 7.6 1.7 7.5 2.1 7.4 2.5 7.2 3 7.1 3.4 6.8 3.7 6.5 4.1 6.4 4.5 6 4.8 5.8 5.1 5.5 5.4 5.2 5.7 4.8 5.9 4.5 6.2 4.2 6.4 3.8 6.6 3.4 6.8 3.1 7 2.7 7.1 2.3 7.2 1.9 7.3 1.5 7.4 1.1 7.5 0.8 7.5 0.3 7.5 -0.1 7.6z"/>
<path fill="#2b0b57" d="M542.7 812.0l0-9.7 -0.5-9.7 -1.2-9.6 -1.6-9.6 -2.2-9.4 -2.7-9.3 -3.2-9.1 -3.7-8.9 -4.3-8.7 -4.6-8.5 -5.2-8.1 -5.6-7.9 -6-7.5 -6.4-7.2 -6.8-6.8 -7.2-6.5 -7.4-6 -7.8-5.7 -8.1-5.2 -8.3-4.7 -8.6-4.4 -8.8-3.8 -8.9-3.5 -9.1-2.9 -9.3-2.5 -9.3-2 -9.5-1.5 -9.5-1.1 -9.6-0.6 -9.6-0.1 -9.6 0.4 -9.5 0.9 -9.6 1.4 -9.4 1.9 -9.3 2.4 -9.2 2.9 -9 3.3 -8.9 3.9 -8.6 4.3 -8.4 4.8 -8.2 5.2 -7.8 5.7 -7.5 6.1 -7.2 6.5 -6.8 6.9 -6.4 7.2 -6 7.7 -5.6 7.9 -5.1 8.2 -4.6 8.6 -4.2 8.7 -3.6 9 -3.2 9.2 -2.6 9.3 -2.1 9.5 -1.6 9.5 -1 9.7 -0.5 9.7 0.1 9.7 38.9-1.2 0.1-7.6 0.4-7.5 0.8-7.6 1.2-7.4 1.6-7.5 2-7.3 2.4-7.2 2.8-7 3.1-7 3.5-6.7 3.9-6.6 4.2-6.3 4.5-6.2 4.9-5.9 5.2-5.7 5.4-5.3 5.8-5.1 6-4.8 6.3-4.5 6.6-4.1 6.8-3.8 6.9-3.4 7.2-3.1 7.3-2.6 7.5-2.3 7.6-1.8 7.8-1.4 7.7-1 7.9-0.5 7.8-0.1 7.9 0.4 7.8 0.8 7.8 1.2 7.6 1.7 7.6 2.2 7.4 2.5 7.3 3 7 3.4 6.9 3.8 6.6 4.1 6.3 4.5 6.1 4.9 5.8 5.1 5.5 5.5 5.2 5.7 4.9 6 4.5 6.2 4.2 6.4 3.8 6.7 3.5 6.8 3 7 2.7 7.1 2.3 7.3 2 7.4 1.5 7.4 1.1 7.5 0.8 7.5 0.3 7.6 -0.1 7.6z"/>
<path fill="#390a63" d="M542.1 811.9l0-9.6 -0.6-9.7 -1.1-9.5 -1.7-9.5 -2.1-9.4 -2.7-9.3 -3.2-9.1 -3.8-8.9 -4.2-8.6 -4.7-8.4 -5.1-8.1 -5.6-7.9 -6-7.5 -6.4-7.1 -6.7-6.8 -7.2-6.4 -7.4-6 -7.8-5.6 -8-5.2 -8.3-4.8 -8.5-4.3 -8.8-3.8 -8.9-3.4 -9.1-2.9 -9.2-2.5 -9.3-2 -9.4-1.5 -9.5-1.1 -9.5-0.6 -9.6 0 -9.5 0.3 -9.5 0.9 -9.5 1.4 -9.4 1.9 -9.3 2.3 -9.1 2.9 -9 3.3 -8.9 3.8 -8.6 4.3 -8.3 4.8 -8.1 5.2 -7.9 5.6 -7.4 6.1 -7.2 6.5 -6.8 6.8 -6.4 7.3 -5.9 7.6 -5.6 7.9 -5.1 8.2 -4.6 8.4 -4.2 8.8 -3.6 8.9 -3.2 9.2 -2.6 9.3 -2.1 9.4 -1.5 9.5 -1 9.6 -0.5 9.7 0.1 9.6 37.6-1.1 0-7.6 0.4-7.6 0.9-7.6 1.2-7.5 1.6-7.4 2-7.4 2.4-7.2 2.8-7.1 3.1-6.9 3.5-6.8 3.9-6.6 4.2-6.4 4.6-6.2 4.9-6 5.2-5.6 5.5-5.5 5.8-5.1 6-4.8 6.4-4.5 6.5-4.2 6.8-3.8 7-3.4 7.2-3.1 7.4-2.7 7.5-2.2 7.7-1.9 7.7-1.4 7.9-1 7.9-0.5 7.9-0.1 7.8 0.3 7.9 0.9 7.8 1.2 7.7 1.7 7.6 2.2 7.5 2.6 7.3 3 7.1 3.4 6.8 3.8 6.7 4.2 6.4 4.5 6.1 4.9 5.8 5.1 5.6 5.5 5.2 5.8 4.9 6 4.5 6.3 4.2 6.5 3.8 6.6 3.5 6.9 3.1 7 2.7 7.2 2.3 7.3 1.9 7.4 1.5 7.5 1.2 7.5 0.7 7.6 0.3 7.6 0 7.6z"/>
<path fill="#470b6a" d="M541.5 811.9l-0.1-9.6 -0.5-9.6 -1.1-9.6 -1.7-9.4 -2.2-9.4 -2.7-9.2 -3.2-9 -3.7-8.9 -4.2-8.6 -4.6-8.4 -5.2-8.1 -5.5-7.8 -6-7.4 -6.4-7.1 -6.7-6.8 -7.1-6.4 -7.5-6 -7.7-5.5 -8-5.2 -8.3-4.7 -8.5-4.3 -8.7-3.8 -8.9-3.4 -9-2.9 -9.2-2.4 -9.3-2 -9.3-1.5 -9.5-1.1 -9.4-0.6 -9.6-0.1 -9.5 0.4 -9.4 0.9 -9.5 1.4 -9.3 1.8 -9.3 2.4 -9.1 2.8 -9 3.3 -8.7 3.8 -8.6 4.2 -8.4 4.8 -8 5.1 -7.8 5.7 -7.5 6 -7.1 6.4 -6.8 6.9 -6.4 7.2 -5.9 7.5 -5.6 7.9 -5 8.2 -4.7 8.4 -4.1 8.7 -3.6 8.9 -3.2 9.1 -2.6 9.3 -2.1 9.4 -1.5 9.5 -1 9.6 -0.5 9.6 0.1 9.6 36.3-1.1 0.1-7.6 0.4-7.6 0.8-7.6 1.3-7.6 1.6-7.5 2-7.3 2.4-7.3 2.8-7.1 3.2-7 3.5-6.9 3.9-6.6 4.2-6.4 4.6-6.2 4.9-6 5.2-5.7 5.5-5.5 5.8-5.1 6.1-4.9 6.4-4.5 6.6-4.2 6.8-3.8 7.1-3.5 7.2-3.1 7.4-2.7 7.6-2.3 7.6-1.8 7.8-1.5 7.9-1 7.9-0.5 8-0.1 7.9 0.3 7.9 0.9 7.9 1.2 7.7 1.8 7.7 2.1 7.5 2.7 7.3 3 7.1 3.4 6.9 3.8 6.7 4.2 6.4 4.6 6.2 4.9 5.8 5.2 5.6 5.5 5.2 5.8 4.9 6.1 4.6 6.3 4.2 6.5 3.8 6.7 3.5 6.9 3.1 7.1 2.7 7.2 2.3 7.3 1.9 7.4 1.6 7.5 1.1 7.6 0.7 7.6 0.4 7.7 -0.1 7.6z"/>
<path fill="#540f6d" d="M540.8 811.9l0-9.6 -0.5-9.6 -1.2-9.5 -1.6-9.4 -2.2-9.3 -2.7-9.2 -3.2-9 -3.7-8.8 -4.2-8.6 -4.6-8.4 -5.1-8 -5.6-7.8 -5.9-7.4 -6.4-7.1 -6.7-6.7 -7.1-6.3 -7.4-6 -7.7-5.5 -8-5.1 -8.3-4.7 -8.4-4.3 -8.7-3.8 -8.8-3.3 -9-2.9 -9.2-2.5 -9.2-1.9 -9.3-1.6 -9.4-1 -9.5-0.6 -9.4-0.1 -9.5 0.4 -9.4 0.9 -9.4 1.3 -9.3 1.8 -9.2 2.4 -9.1 2.8 -9 3.3 -8.7 3.7 -8.6 4.2 -8.3 4.7 -8 5.2 -7.8 5.6 -7.5 6 -7.1 6.4 -6.7 6.8 -6.4 7.2 -5.9 7.5 -5.5 7.8 -5.1 8.2 -4.6 8.4 -4.1 8.7 -3.7 8.8 -3.1 9.1 -2.6 9.3 -2.1 9.3 -1.5 9.5 -1 9.5 -0.5 9.6 0.1 9.6 35.1-1.1 0.1-7.6 0.4-7.7 0.8-7.6 1.3-7.6 1.6-7.5 2-7.4 2.4-7.3 2.8-7.2 3.2-7 3.5-6.9 3.9-6.6 4.3-6.5 4.6-6.2 4.9-6 5.2-5.8 5.6-5.5 5.8-5.1 6.1-4.9 6.4-4.6 6.6-4.2 6.9-3.9 7.1-3.5 7.2-3.1 7.5-2.7 7.6-2.3 7.7-1.9 7.8-1.4 7.9-1 8-0.6 8-0.1 8 0.4 7.9 0.8 7.9 1.3 7.8 1.7 7.7 2.2 7.5 2.6 7.4 3.1 7.2 3.4 6.9 3.9 6.7 4.2 6.5 4.6 6.1 4.9 5.9 5.3 5.6 5.5 5.2 5.9 4.9 6 4.6 6.4 4.2 6.5 3.9 6.8 3.5 6.9 3.1 7.1 2.7 7.3 2.3 7.3 1.9 7.5 1.6 7.5 1.1 7.6 0.8 7.7 0.3 7.7 -0.1 7.6z"/>
<path fill="#61136e" d="M540.3 811.9l-0.1-9.6 -0.5-9.5 -1.1-9.5 -1.7-9.4 -2.2-9.3 -2.6-9.1 -3.2-9 -3.7-8.8 -4.2-8.5 -4.7-8.3 -5.1-8.1 -5.5-7.7 -6-7.4 -6.3-7 -6.7-6.7 -7.1-6.3 -7.4-5.9 -7.7-5.5 -7.9-5.1 -8.2-4.7 -8.5-4.2 -8.6-3.8 -8.8-3.3 -9-2.9 -9.1-2.4 -9.2-2 -9.2-1.5 -9.4-1 -9.4-0.6 -9.4-0.1 -9.4 0.4 -9.4 0.8 -9.4 1.3 -9.3 1.9 -9.1 2.3 -9.1 2.7 -8.9 3.3 -8.7 3.7 -8.5 4.2 -8.3 4.7 -8.1 5.1 -7.7 5.6 -7.4 6 -7.1 6.3 -6.7 6.8 -6.4 7.2 -5.9 7.5 -5.5 7.8 -5.1 8.1 -4.6 8.4 -4.1 8.6 -3.6 8.9 -3.1 9 -2.6 9.2 -2.1 9.3 -1.5 9.5 -1 9.5 -0.5 9.5 0.1 9.6 33.9-1 0.1-7.7 0.4-7.7 0.8-7.7 1.3-7.6 1.6-7.5 2.1-7.5 2.4-7.3 2.8-7.2 3.2-7.1 3.5-6.9 3.9-6.6 4.3-6.5 4.6-6.3 4.9-6 5.3-5.8 5.5-5.5 5.9-5.2 6.1-5 6.4-4.5 6.7-4.3 6.9-3.9 7.1-3.5 7.3-3.1 7.5-2.8 7.6-2.3 7.8-1.9 7.8-1.5 8-1 8-0.6 8-0.1 8 0.4 8 0.8 8 1.3 7.8 1.7 7.7 2.3 7.6 2.6 7.4 3.1 7.2 3.5 7 3.8 6.7 4.3 6.5 4.6 6.2 5 5.9 5.3 5.6 5.5 5.2 5.9 5 6.1 4.5 6.4 4.3 6.6 3.8 6.8 3.5 6.9 3.1 7.2 2.8 7.2 2.3 7.4 1.9 7.5 1.6 7.6 1.1 7.7 0.8 7.6 0.3 7.8 -0.1 7.7z"/>
<path fill="#6d186e" d="M539.7 811.9l-0.1-9.6 -0.5-9.5 -1.1-9.4 -1.7-9.4 -2.1-9.2 -2.7-9.2 -3.2-8.9 -3.7-8.8 -4.2-8.5 -4.6-8.2 -5.1-8 -5.5-7.7 -6-7.4 -6.3-7 -6.7-6.6 -7-6.3 -7.4-5.9 -7.7-5.5 -7.9-5 -8.2-4.6 -8.4-4.2 -8.6-3.8 -8.8-3.3 -8.9-2.8 -9-2.4 -9.2-2 -9.2-1.5 -9.4-1 -9.3-0.6 -9.4-0.1 -9.4 0.3 -9.3 0.9 -9.3 1.3 -9.3 1.8 -9.1 2.2 -9 2.8 -8.9 3.2 -8.7 3.7 -8.5 4.2 -8.3 4.7 -8 5.1 -7.7 5.5 -7.4 5.9 -7.1 6.4 -6.7 6.7 -6.3 7.1 -5.9 7.5 -5.5 7.8 -5.1 8.1 -4.5 8.3 -4.1 8.6 -3.7 8.9 -3.1 9 -2.5 9.1 -2.1 9.3 -1.5 9.4 -1 9.5 -0.5 9.5 0.1 9.6 32.8-1 0-7.8 0.4-7.7 0.9-7.7 1.2-7.6 1.7-7.6 2-7.5 2.4-7.3 2.8-7.2 3.2-7.1 3.6-6.9 3.9-6.8 4.3-6.5 4.6-6.3 5-6.1 5.2-5.8 5.6-5.5 5.9-5.2 6.2-5 6.4-4.6 6.7-4.3 6.9-3.9 7.1-3.5 7.4-3.2 7.5-2.8 7.6-2.3 7.8-2 7.9-1.4 8-1.1 8.1-0.5 8-0.2 8.1 0.4 8 0.8 8 1.3 7.9 1.8 7.8 2.2 7.6 2.7 7.4 3.1 7.2 3.5 7 3.9 6.8 4.3 6.5 4.6 6.2 5 5.9 5.3 5.6 5.7 5.3 5.9 5 6.1 4.6 6.4 4.2 6.6 3.9 6.9 3.5 7 3.1 7.1 2.7 7.3 2.4 7.5 1.9 7.5 1.6 7.6 1.1 7.7 0.7 7.7 0.4 7.7 -0.1 7.8z"/>
<path fill="#7a1d6d" d="M539.1 811.8l0-9.4 -0.6-9.5 -1.1-9.4 -1.6-9.4 -2.2-9.2 -2.7-9.1 -3.2-8.9 -3.7-8.7 -4.1-8.5 -4.7-8.2 -5-8 -5.6-7.6 -5.9-7.4 -6.3-6.9 -6.7-6.7 -7-6.2 -7.4-5.8 -7.6-5.5 -7.9-5 -8.2-4.6 -8.3-4.2 -8.6-3.7 -8.7-3.3 -8.9-2.8 -9-2.4 -9.2-1.9 -9.2-1.5 -9.2-1.1 -9.3-0.5 -9.4-0.2 -9.3 0.4 -9.3 0.8 -9.3 1.3 -9.2 1.8 -9.1 2.2 -9 2.8 -8.9 3.2 -8.6 3.6 -8.5 4.2 -8.2 4.6 -8 5.1 -7.7 5.5 -7.4 5.9 -7 6.3 -6.7 6.7 -6.3 7.1 -5.9 7.4 -5.5 7.8 -5.1 8.1 -4.5 8.3 -4.1 8.6 -3.6 8.7 -3.1 9 -2.6 9.2 -2.1 9.2 -1.5 9.4 -1 9.5 -0.4 9.5 0.1 9.4 31.6-0.9 0-7.8 0.5-7.7 0.8-7.8 1.3-7.6 1.6-7.6 2.1-7.5 2.4-7.4 2.8-7.3 3.2-7.1 3.6-6.9 3.9-6.8 4.3-6.5 4.7-6.4 4.9-6.1 5.3-5.8 5.6-5.6 5.9-5.2 6.2-5 6.4-4.6 6.7-4.3 7-4 7.1-3.6 7.4-3.2 7.6-2.8 7.6-2.3 7.9-2 7.9-1.5 8.1-1 8-0.6 8.2-0.1 8.1 0.3 8 0.8 8.1 1.3 7.9 1.8 7.8 2.3 7.6 2.6 7.5 3.2 7.3 3.5 7 3.9 6.8 4.4 6.5 4.7 6.2 5 6 5.3 5.6 5.7 5.3 5.9 5 6.2 4.6 6.5 4.2 6.6 3.9 6.9 3.5 7 3.1 7.2 2.8 7.3 2.3 7.5 2 7.6 1.5 7.6 1.2 7.7 0.7 7.8 0.3 7.7 -0.1 7.8z"/>
<path fill="#85216b" d="M538.6 811.8l-0.1-9.4 -0.5-9.5 -1.1-9.4 -1.7-9.3 -2.1-9.2 -2.7-9 -3.2-8.9 -3.7-8.7 -4.2-8.4 -4.6-8.2 -5.1-8 -5.5-7.6 -5.9-7.3 -6.3-6.9 -6.7-6.6 -7-6.2 -7.3-5.8 -7.6-5.4 -7.9-5 -8.1-4.5 -8.4-4.2 -8.5-3.7 -8.7-3.2 -8.9-2.8 -8.9-2.4 -9.1-1.9 -9.2-1.5 -9.2-1.1 -9.3-0.5 -9.2-0.2 -9.3 0.4 -9.3 0.8 -9.3 1.2 -9.1 1.8 -9.1 2.2 -9 2.7 -8.8 3.2 -8.6 3.6 -8.5 4.2 -8.2 4.6 -7.9 5 -7.7 5.5 -7.4 5.8 -7 6.3 -6.7 6.7 -6.3 7.1 -5.9 7.4 -5.4 7.7 -5.1 8 -4.5 8.3 -4.1 8.6 -3.6 8.7 -3.1 9 -2.6 9.1 -2 9.3 -1.5 9.3 -1 9.4 -0.5 9.5 0.1 9.4 30.5-0.9 0.1-7.8 0.4-7.8 0.9-7.7 1.2-7.7 1.7-7.6 2-7.6 2.5-7.4 2.8-7.3 3.2-7.1 3.6-7 3.9-6.8 4.3-6.6 4.7-6.3 5-6.2 5.3-5.8 5.6-5.6 5.9-5.3 6.2-5 6.5-4.7 6.7-4.3 7-4 7.2-3.6 7.4-3.2 7.5-2.8 7.8-2.4 7.8-2 8-1.5 8.1-1.1 8.1-0.6 8.2-0.1 8.1 0.3 8.2 0.8 8 1.4 8 1.7 7.8 2.3 7.7 2.7 7.5 3.2 7.3 3.5 7.1 4 6.8 4.4 6.5 4.7 6.3 5 5.9 5.4 5.7 5.7 5.3 6 5 6.2 4.6 6.5 4.3 6.7 3.8 6.9 3.6 7 3.1 7.3 2.7 7.3 2.4 7.5 1.9 7.6 1.6 7.7 1.1 7.7 0.8 7.8 0.3 7.8 -0.1 7.8z"/>
<path fill="#922568" d="M538.0 811.8l0-9.4 -0.6-9.4 -1.1-9.4 -1.6-9.3 -2.2-9.1 -2.7-9.1 -3.2-8.8 -3.6-8.7 -4.2-8.4 -4.6-8.1 -5.1-7.9 -5.5-7.6 -5.9-7.3 -6.3-6.9 -6.6-6.5 -7-6.2 -7.3-5.8 -7.6-5.3 -7.9-5 -8.1-4.5 -8.3-4.1 -8.5-3.6 -8.7-3.3 -8.8-2.7 -8.9-2.4 -9.1-1.9 -9.1-1.5 -9.2-1 -9.2-0.6 -9.2-0.2 -9.3 0.4 -9.2 0.7 -9.2 1.3 -9.1 1.7 -9.1 2.2 -8.9 2.7 -8.8 3.1 -8.6 3.7 -8.4 4 -8.2 4.6 -8 5 -7.6 5.4 -7.4 5.9 -7 6.3 -6.7 6.6 -6.2 7 -5.9 7.4 -5.5 7.7 -5 8 -4.5 8.3 -4.1 8.5 -3.6 8.7 -3.1 8.9 -2.5 9.1 -2.1 9.3 -1.5 9.3 -1 9.4 -0.4 9.4 0.1 9.4 29.4-0.9 0-7.8 0.5-7.8 0.8-7.8 1.3-7.7 1.7-7.7 2-7.5 2.5-7.5 2.8-7.3 3.2-7.2 3.6-7 4-6.8 4.3-6.6 4.6-6.4 5-6.1 5.4-5.9 5.6-5.7 5.9-5.3 6.3-5 6.4-4.7 6.8-4.4 7-4 7.2-3.6 7.4-3.3 7.6-2.8 7.8-2.5 7.9-2 8-1.5 8.1-1.1 8.2-0.6 8.2-0.2 8.2 0.4 8.2 0.8 8.1 1.3 8 1.8 7.9 2.3 7.7 2.7 7.5 3.2 7.3 3.6 7.1 4 6.9 4.4 6.5 4.8 6.3 5.1 6 5.4 5.7 5.7 5.3 6 5 6.3 4.6 6.5 4.3 6.7 3.9 7 3.5 7.1 3.1 7.2 2.8 7.4 2.3 7.6 2 7.6 1.5 7.7 1.2 7.8 0.7 7.8 0.3 7.8 -0.1 7.8z"/>
<path fill="#9f2a63" d="M537.5 811.8l-0.1-9.4 -0.5-9.4 -1.1-9.3 -1.7-9.3 -2.1-9.1 -2.7-9 -3.2-8.8 -3.7-8.6 -4.1-8.4 -4.6-8.1 -5.1-7.9 -5.5-7.5 -5.9-7.3 -6.3-6.8 -6.6-6.5 -7-6.2 -7.3-5.7 -7.6-5.3 -7.8-4.9 -8.1-4.5 -8.3-4.1 -8.4-3.6 -8.7-3.2 -8.7-2.7 -8.9-2.4 -9-1.9 -9.1-1.4 -9.1-1.1 -9.2-0.6 -9.2-0.1 -9.2 0.3 -9.2 0.7 -9.2 1.3 -9.1 1.7 -9 2.1 -8.9 2.7 -8.7 3.1 -8.6 3.6 -8.4 4 -8.2 4.5 -7.9 5 -7.6 5.4 -7.4 5.8 -7 6.3 -6.6 6.6 -6.3 7 -5.8 7.3 -5.5 7.7 -5 8 -4.5 8.2 -4.1 8.5 -3.6 8.7 -3.1 8.9 -2.5 9.1 -2.1 9.2 -1.5 9.2 -1 9.4 -0.4 9.4 0.1 9.4 28.4-0.9 0-7.8 0.4-7.9 0.9-7.8 1.3-7.7 1.6-7.7 2.1-7.6 2.5-7.5 2.8-7.3 3.2-7.2 3.6-7 4-6.9 4.3-6.6 4.7-6.5 5-6.1 5.3-6 5.7-5.6 5.9-5.4 6.3-5 6.5-4.8 6.8-4.4 7-4 7.2-3.7 7.5-3.3 7.6-2.8 7.8-2.5 8-2 8-1.6 8.2-1.1 8.2-0.7 8.2-0.1 8.3 0.3 8.2 0.9 8.1 1.3 8.1 1.8 7.9 2.3 7.8 2.8 7.5 3.2 7.4 3.6 7.1 4.1 6.9 4.4 6.6 4.8 6.3 5.1 6 5.5 5.6 5.8 5.4 6 5 6.3 4.6 6.6 4.3 6.7 3.9 7 3.5 7.1 3.2 7.3 2.7 7.4 2.4 7.6 1.9 7.7 1.6 7.7 1.1 7.8 0.7 7.8 0.4 7.9 -0.1 7.8z"/>
<path fill="#ab2f5e" d="M536.9 811.8l0-9.4 -0.6-9.3 -1.1-9.3 -1.6-9.3 -2.2-9.1 -2.7-8.9 -3.1-8.8 -3.7-8.6 -4.2-8.4 -4.6-8.1 -5-7.8 -5.5-7.5 -5.9-7.2 -6.3-6.8 -6.6-6.5 -7-6 -7.2-5.7 -7.6-5.3 -7.8-4.9 -8.1-4.4 -8.2-4 -8.5-3.6 -8.6-3.1 -8.7-2.8 -8.9-2.3 -8.9-1.9 -9-1.4 -9.1-1.1 -9.1-0.6 -9.2-0.1 -9.1 0.2 -9.2 0.8 -9.1 1.2 -9.1 1.6 -8.9 2.1 -8.9 2.6 -8.7 3.1 -8.6 3.6 -8.4 4 -8.1 4.5 -7.9 4.9 -7.6 5.4 -7.4 5.8 -7 6.2 -6.6 6.6 -6.2 7 -5.9 7.3 -5.4 7.6 -5 7.9 -4.5 8.3 -4.1 8.4 -3.6 8.7 -3 8.9 -2.6 9 -2 9.1 -1.5 9.3 -1 9.3 -0.5 9.4 0.1 9.4 27.3-0.8 0.1-7.9 0.4-7.9 0.9-7.8 1.2-7.8 1.7-7.7 2.1-7.7 2.5-7.5 2.8-7.3 3.2-7.3 3.7-7 3.9-6.9 4.4-6.7 4.6-6.4 5.1-6.2 5.3-6 5.7-5.7 6-5.4 6.2-5.1 6.5-4.7 6.8-4.5 7.1-4 7.2-3.7 7.5-3.4 7.7-2.9 7.8-2.5 8-2 8.1-1.6 8.2-1.2 8.3-0.7 8.3-0.1 8.2 0.3 8.3 0.8 8.2 1.4 8.1 1.8 8 2.3 7.8 2.8 7.6 3.3 7.4 3.7 7.1 4.1 6.9 4.4 6.6 4.9 6.3 5.2 6 5.5 5.7 5.8 5.4 6.1 5 6.3 4.6 6.6 4.3 6.8 3.9 7 3.6 7.2 3.1 7.3 2.7 7.4 2.4 7.6 2 7.7 1.5 7.8 1.1 7.8 0.8 7.9 0.3 7.9 -0.1 7.9z"/>
<path fill="#b73557" d="M536.4 811.8l0-9.4 -0.6-9.3 -1.1-9.3 -1.7-9.2 -2.1-9 -2.7-9 -3.2-8.7 -3.6-8.6 -4.2-8.3 -4.6-8.1 -5-7.7 -5.5-7.5 -5.9-7.1 -6.3-6.8 -6.6-6.5 -7-6 -7.2-5.6 -7.6-5.3 -7.8-4.8 -8-4.4 -8.2-3.9 -8.4-3.6 -8.6-3.1 -8.7-2.7 -8.8-2.2 -8.9-1.9 -9-1.4 -9-1.1 -9.1-0.6 -9.1-0.2 -9.1 0.3 -9.1 0.7 -9 1.1 -9.1 1.6 -8.9 2.1 -8.9 2.6 -8.7 3 -8.5 3.5 -8.3 4 -8.2 4.4 -7.9 4.9 -7.6 5.4 -7.3 5.7 -6.9 6.2 -6.6 6.6 -6.3 6.9 -5.8 7.3 -5.5 7.6 -4.9 7.9 -4.6 8.2 -4 8.4 -3.6 8.7 -3 8.8 -2.6 9 -2 9.1 -1.5 9.3 -1 9.3 -0.4 9.3 0.1 9.4 26.2-0.8 0-7.9 0.5-7.9 0.9-7.9 1.2-7.8 1.7-7.8 2.1-7.6 2.5-7.5 2.8-7.4 3.3-7.3 3.6-7.1 4-6.9 4.3-6.7 4.7-6.5 5-6.2 5.4-6 5.7-5.7 6-5.4 6.2-5.2 6.6-4.8 6.8-4.4 7.1-4.2 7.3-3.7 7.5-3.4 7.7-2.9 7.8-2.6 8-2.1 8.2-1.6 8.2-1.2 8.3-0.7 8.4-0.2 8.3 0.3 8.3 0.9 8.3 1.3 8.1 1.9 8.1 2.3 7.8 2.9 7.6 3.2 7.5 3.8 7.1 4.1 7 4.5 6.6 4.9 6.3 5.3 6 5.5 5.7 5.9 5.4 6.1 5 6.4 4.6 6.6 4.3 6.9 3.9 7 3.6 7.2 3.1 7.4 2.8 7.5 2.3 7.6 2 7.7 1.5 7.8 1.2 7.8 0.7 7.9 0.3 8 -0.1 7.9z"/>
<path fill="#c33b4f" d="M535.9 811.8l-0.1-9.4 -0.5-9.3 -1.1-9.2 -1.7-9.2 -2.1-9 -2.7-8.9 -3.2-8.7 -3.7-8.5 -4.1-8.3 -4.6-8.1 -5.1-7.7 -5.5-7.4 -5.8-7.1 -6.3-6.8 -6.6-6.3 -7-6 -7.2-5.6 -7.5-5.2 -7.8-4.7 -8-4.4 -8.3-3.9 -8.3-3.4 -8.6-3.1 -8.6-2.6 -8.8-2.3 -8.8-1.8 -8.9-1.4 -9-1.1 -9-0.6 -9-0.2 -9.1 0.2 -9 0.6 -9.1 1.1 -9 1.6 -8.9 2 -8.8 2.5 -8.7 3 -8.5 3.5 -8.3 3.9 -8.1 4.4 -7.9 4.9 -7.6 5.3 -7.2 5.7 -7 6.1 -6.6 6.6 -6.2 6.9 -5.9 7.2 -5.4 7.6 -5 7.9 -4.5 8.1 -4 8.4 -3.6 8.7 -3 8.8 -2.6 8.9 -2 9.1 -1.5 9.2 -1 9.3 -0.4 9.3 0.1 9.3 25.2-0.7 0-8 0.5-7.9 0.8-7.9 1.3-7.8 1.7-7.8 2.1-7.7 2.5-7.5 2.8-7.5 3.3-7.2 3.6-7.2 4-6.9 4.3-6.7 4.8-6.5 5-6.3 5.4-6 5.7-5.8 6-5.4 6.3-5.2 6.5-4.8 6.9-4.6 7-4.1 7.4-3.8 7.5-3.4 7.7-3 7.9-2.6 8.1-2.2 8.1-1.7 8.3-1.2 8.4-0.7 8.4-0.3 8.4 0.3 8.4 0.8 8.3 1.4 8.2 1.9 8.1 2.4 7.9 2.9 7.6 3.3 7.5 3.8 7.2 4.2 6.9 4.6 6.7 5 6.3 5.3 6 5.6 5.7 5.9 5.4 6.1 5 6.5 4.7 6.6 4.3 6.9 3.9 7.1 3.5 7.2 3.2 7.4 2.7 7.6 2.4 7.6 1.9 7.8 1.6 7.8 1.1 7.9 0.7 7.9 0.4 7.9 -0.1 8z"/>
<path fill="#ce4347" d="M535.4 811.7l-0.1-9.3 -0.6-9.2 -1.1-9.2 -1.6-9.2 -2.2-9 -2.7-8.8 -3.1-8.7 -3.7-8.5 -4.2-8.3 -4.6-7.9 -5-7.7 -5.5-7.4 -5.9-7.1 -6.2-6.7 -6.6-6.3 -7-5.9 -7.2-5.6 -7.6-5.1 -7.7-4.7 -8-4.2 -8.2-3.8 -8.4-3.4 -8.5-3 -8.6-2.5 -8.7-2.2 -8.8-1.8 -8.8-1.4 -8.9-1 -8.9-0.7 -9-0.3 -9 0.1 -9 0.6 -9 1 -8.9 1.5 -8.9 2 -8.8 2.4 -8.6 2.9 -8.5 3.5 -8.3 3.8 -8.1 4.4 -7.9 4.8 -7.6 5.3 -7.2 5.7 -7 6.1 -6.6 6.5 -6.2 6.8 -5.8 7.3 -5.4 7.5 -5 7.9 -4.5 8.1 -4 8.3 -3.6 8.6 -3 8.8 -2.6 9 -2 9 -1.5 9.2 -0.9 9.3 -0.5 9.2 0.1 9.3 24.1-0.7 0.1-8 0.4-7.9 0.9-7.9 1.3-7.9 1.7-7.8 2.1-7.7 2.5-7.6 2.8-7.5 3.3-7.3 3.6-7.1 4-7 4.4-6.7 4.7-6.6 5.1-6.3 5.3-6.1 5.7-5.7 6.1-5.5 6.3-5.2 6.5-4.9 6.9-4.6 7.1-4.2 7.3-3.8 7.6-3.5 7.7-3.1 8-2.6 8.1-2.3 8.2-1.7 8.3-1.4 8.5-0.8 8.4-0.2 8.5 0.2 8.5 0.8 8.4 1.4 8.2 1.9 8.1 2.5 8 2.9 7.7 3.5 7.5 3.9 7.2 4.3 6.9 4.6 6.7 5.1 6.3 5.3 6.1 5.7 5.7 5.9 5.3 6.3 5.1 6.4 4.6 6.7 4.3 7 3.9 7.1 3.6 7.3 3.1 7.4 2.8 7.6 2.3 7.6 2 7.8 1.5 7.9 1.2 7.9 0.7 8 0.3 7.9 -0.1 8z"/>
<path fill="#d84c3e" d="M534.8 811.7l0-9.2 -0.6-9.3 -1.1-9.2 -1.7-9.1 -2.1-8.9 -2.7-8.9 -3.2-8.6 -3.7-8.5 -4.1-8.2 -4.6-7.9 -5.1-7.7 -5.5-7.3 -5.8-7 -6.3-6.7 -6.6-6.3 -6.9-5.8 -7.3-5.5 -7.5-5 -7.8-4.6 -8-4.1 -8.2-3.7 -8.3-3.2 -8.5-2.8 -8.6-2.4 -8.6-2 -8.7-1.6 -8.8-1.4 -8.7-1.2 -8.9-0.8 -8.8-0.4 -9-0.1 -8.9 0.4 -9 0.9 -8.9 1.4 -8.8 1.9 -8.8 2.4 -8.6 2.8 -8.5 3.4 -8.3 3.8 -8 4.3 -7.9 4.8 -7.5 5.2 -7.3 5.6 -6.9 6.1 -6.6 6.5 -6.2 6.8 -5.8 7.2 -5.4 7.5 -5 7.8 -4.5 8.1 -4 8.4 -3.6 8.5 -3 8.8 -2.5 8.9 -2.1 9 -1.5 9.2 -0.9 9.2 -0.4 9.3 0.1 9.2 23-0.7 0-8 0.5-8 0.9-7.9 1.3-7.9 1.7-7.8 2.1-7.8 2.5-7.6 2.8-7.5 3.3-7.3 3.6-7.2 4-7 4.4-6.8 4.7-6.6 5.1-6.3 5.4-6.1 5.7-5.8 6-5.6 6.4-5.2 6.6-4.9 6.8-4.7 7.1-4.2 7.4-3.9 7.6-3.6 7.8-3.1 7.9-2.8 8.2-2.3 8.2-1.9 8.4-1.5 8.5-0.9 8.6-0.5 8.6 0.1 8.5 0.8 8.5 1.4 8.4 2 8.1 2.6 8 3.2 7.7 3.6 7.5 4 7.2 4.5 7 4.7 6.6 5.2 6.4 5.4 6 5.8 5.7 6 5.4 6.3 5 6.5 4.7 6.7 4.3 7 3.9 7.2 3.5 7.3 3.2 7.5 2.7 7.6 2.4 7.7 1.9 7.8 1.6 7.9 1.1 7.9 0.7 8 0.3 8 -0.1 8z"/>
<path fill="#e15635" d="M534.3 811.7l-0.1-9.2 -0.6-9.2 -1.1-9.2 -1.6-9.1 -2.2-8.9 -2.7-8.8 -3.2-8.6 -3.6-8.4 -4.2-8.2 -4.6-7.9 -5.1-7.6 -5.4-7.3 -5.9-7 -6.3-6.6 -6.6-6.2 -7-5.7 -7.2-5.4 -7.6-4.9 -7.8-4.4 -8-3.9 -8.3-3.4 -8.4-2.8 -6.1-0.7 4.8 3.6 7.4 4.6 7.2 4.7 6.9 5 6.6 5.3 6.3 5.5 6 5.9 5.7 6.1 5.4 6.3 5 6.6 4.7 6.8 4.2 7 4 7.2 3.5 7.4 3.1 7.5 2.8 7.7 2.3 7.7 2 7.9 1.5 7.9 1.1 8 0.8 8 0.3 8 -0.1 8zM353.5 647.8l-4.2-1 -8.9-0.3 -8.9 0.6 -8.9 1.2 -8.8 1.7 -8.7 2.2 -8.6 2.8 -8.5 3.3 -8.3 3.7 -8 4.3 -7.9 4.7 -7.5 5.1 -7.3 5.6 -6.9 6.1 -6.6 6.4 -6.2 6.8 -5.8 7.1 -5.4 7.5 -4.9 7.8 -4.5 8.1 -4 8.3 -3.6 8.5 -3 8.7 -2.5 8.9 -2 9 -1.5 9.2 -1 9.1 -0.4 9.3 0.1 9.2 21.9-0.7 0.1-8 0.5-8 0.9-8 1.3-7.9 1.7-7.9 2-7.7 2.5-7.7 2.9-7.5 3.3-7.4 3.6-7.2 4.1-7 4.3-6.8 4.8-6.6 5-6.4 5.5-6.1 5.7-5.9 6-5.6 6.3-5.3 6.6-5 6.9-4.7 7.2-4.3 7.3-4 7.6-3.6 7.8-3.3 8-2.9 8.2-2.6 8.3-2.2 8.4-2.1z"/>
<path fill="#e9612b" d="M533.7 811.7l0-9.2 -0.6-9.2 -1.1-9.1 -1.7-9 -2.2-9 -2.6-8.7 -3.2-8.6 -3.7-8.4 -4.2-8.1 -4.6-7.9 -5.1-7.5 -5.4-7.3 -5.9-6.9 -6.3-6.5 -6.7-6.1 -7-5.7 -7.3-5.2 -7.6-4.7 -7.9-4 -8.5-2.9 -0.9 0.2 0.3 0.8 6.4 6 6.5 5.6 6.3 5.8 5.9 6 5.7 6.2 5.3 6.5 5 6.6 4.7 6.9 4.2 7.1 3.9 7.2 3.6 7.4 3.1 7.6 2.7 7.6 2.4 7.8 1.9 7.9 1.6 8 1.1 8 0.7 8 0.3 8.1 -0.1 8.1zM331.0 650.6l-7.9-0.5 -8.9 1.3 -8.7 2 -8.6 2.6 -8.5 3.1 -8.2 3.7 -8.1 4.1 -7.8 4.7 -7.5 5.1 -7.3 5.6 -6.9 5.9 -6.6 6.4 -6.2 6.8 -5.8 7.1 -5.4 7.4 -4.9 7.8 -4.5 8 -4 8.3 -3.5 8.5 -3.1 8.7 -2.5 8.9 -2 8.9 -1.5 9.1 -0.9 9.2 -0.5 9.2 0.1 9.2 20.9-0.6 0.1-8.1 0.4-8.1 0.9-8 1.3-7.9 1.7-7.9 2.1-7.8 2.5-7.7 2.9-7.5 3.3-7.4 3.6-7.3 4.1-7 4.4-6.9 4.7-6.6 5.1-6.4 5.4-6.2 5.7-5.9 6.1-5.7 6.3-5.3 6.6-5.1 6.9-4.7 7.1-4.5 7.4-4.1 7.6-3.8 7.8-3.5 8-3.3z"/>
<path fill="#ef6e21" d="M533.2 811.7l-0.1-9.2 -0.6-9.1 -1.1-9.1 -1.7-9 -2.1-8.9 -2.7-8.7 -3.2-8.6 -3.7-8.3 -4.2-8.1 -4.6-7.8 -5.1-7.5 -5.5-7.2 -5.9-6.8 -6.4-6.4 -6.6-6 -7.1-5.5 -7.5-4.9 -8.1-3.9 -1.7 0 0.6 1.6 5.8 6.6 5.8 6.2 5.6 6.4 5.3 6.6 4.9 6.8 4.6 6.9 4.3 7.2 3.9 7.3 3.5 7.4 3.1 7.6 2.7 7.7 2.4 7.9 1.9 7.9 1.5 8 1.2 8 0.7 8.1 0.3 8.1 -0.1 8.1zM314.8 654.7l-8.7 0.3 -8.7 2.2 -8.5 2.9 -8.2 3.5 -8.1 4.1 -7.8 4.6 -7.6 5 -7.2 5.5 -6.9 5.9 -6.6 6.3 -6.2 6.8 -5.8 7 -5.4 7.4 -4.9 7.8 -4.5 8 -4 8.2 -3.5 8.5 -3.1 8.7 -2.5 8.8 -2 8.9 -1.5 9.1 -0.9 9.1 -0.4 9.2 0.1 9.2 19.7-0.6 0.1-8.1 0.5-8.1 0.9-8 1.3-8 1.7-7.9 2.1-7.8 2.5-7.8 2.9-7.5 3.3-7.5 3.6-7.2 4.1-7.1 4.4-6.9 4.7-6.7 5.1-6.5 5.4-6.2 5.7-6 6.1-5.7 6.3-5.4 6.6-5.1 6.9-4.9 7.1-4.6 7.4-4.3 7.5-4.2z"/>
<path fill="#f47918" d="M532.6 811.7l0-9.2 -0.6-9.1 -1.2-9.1 -1.6-8.9 -2.2-8.9 -2.7-8.7 -3.2-8.5 -3.7-8.3 -4.2-8 -4.7-7.8 -5.1-7.4 -5.5-7.1 -6-6.7 -6.4-6.3 -6.8-5.7 -7.4-5.1 -4.6-1.5 2.1 4.3 5.3 6.9 5.1 6.7 4.9 6.9 4.6 7.1 4.2 7.2 3.8 7.4 3.5 7.5 3.1 7.6 2.8 7.8 2.3 7.9 1.9 7.9 1.5 8.1 1.1 8 0.7 8.1 0.3 8.2 -0.1 8.1zM301.3 659.5l-3-0.3 -8.7 2.2 -8.4 3.3 -8.1 3.9 -7.8 4.4 -7.5 4.9 -7.3 5.5 -6.9 5.8 -6.6 6.3 -6.2 6.7 -5.8 7 -5.3 7.4 -5 7.7 -4.5 7.9 -4 8.2 -3.5 8.5 -3 8.6 -2.5 8.8 -2 8.9 -1.5 9.1 -0.9 9.1 -0.5 9.1 0.2 9.2 18.6-0.6 0-8.1 0.5-8.1 0.9-8.1 1.3-8 1.7-8 2.2-7.8 2.5-7.7 2.9-7.7 3.3-7.4 3.6-7.3 4-7.2 4.4-6.9 4.8-6.7 5.1-6.5 5.4-6.3 5.7-6 6-5.8 6.4-5.5 6.6-5.3 6.8-5 7.1-4.9 7.1-5z"/>
<path fill="#f8870e" d="M532.1 811.6l-0.1-9.1 -0.6-9.1 -1.2-9 -1.7-8.9 -2.2-8.8 -2.7-8.7 -3.2-8.4 -3.7-8.3 -4.2-8 -4.7-7.6 -5.2-7.4 -5.6-7 -6-6.5 -6.6-6.1 -7.9-4.6 -0.2 0.1 -0.1 0.2 4.2 7.9 4.6 7.2 4.5 7.2 4.2 7.3 3.8 7.5 3.4 7.5 3.1 7.8 2.7 7.8 2.3 7.9 1.9 8 1.5 8 1.1 8.1 0.7 8.2 0.3 8.2 -0.1 8.1zM289.3 664.9l-7.2 1.2 -8.3 3.5 -7.9 4.3 -7.6 4.8 -7.2 5.3 -7 5.8 -6.5 6.2 -6.2 6.6 -5.8 7 -5.4 7.3 -4.9 7.7 -4.5 7.9 -4 8.2 -3.5 8.4 -3.1 8.6 -2.5 8.8 -2 8.9 -1.4 9 -1 9 -0.4 9.1 0.2 9.1 17.4-0.5 0.1-8.1 0.5-8.2 0.9-8.1 1.3-8 1.7-8 2.1-7.9 2.5-7.7 2.9-7.7 3.3-7.5 3.7-7.3 4-7.2 4.4-7 4.7-6.8 5.1-6.5 5.4-6.4 5.7-6.1 6.1-5.8 6.3-5.7 6.5-5.4 6.7-5.4z"/>
<path fill="#fb960c" d="M531.5 811.6l-0.1-9.1 -0.6-9 -1.2-9 -1.7-8.9 -2.2-8.8 -2.7-8.6 -3.3-8.4 -3.7-8.2 -4.3-7.9 -4.7-7.6 -5.3-7.2 -5.7-6.8 -6.4-6.2 -4.8-2.6 1.6 5.1 4.1 7.6 4.1 7.4 3.7 7.6 3.4 7.7 3 7.7 2.7 7.9 2.3 8 1.9 8 1.5 8.1 1.1 8.2 0.7 8.1 0.2 8.2 -0.1 8.2zM278.5 670.9l-3.6 0.4 -8.2 3.7 -7.7 4.5 -7.3 5.2 -6.9 5.7 -6.6 6.1 -6.2 6.6 -5.8 6.9 -5.4 7.3 -5 7.6 -4.4 7.9 -4 8.1 -3.6 8.4 -3 8.6 -2.5 8.7 -2 8.9 -1.4 8.9 -1 9.1 -0.4 9 0.2 9.1 16.2-0.5 0.1-8.2 0.5-8.1 0.9-8.2 1.3-8 1.7-8 2.1-8 2.5-7.8 2.9-7.6 3.3-7.6 3.7-7.4 4-7.2 4.4-7 4.7-6.8 5.1-6.7 5.4-6.4 5.7-6.2 6-6 6.2-5.9 6.2-6z"/>
<path fill="#fca50c" d="M530.8 811.6l-0.1-9 -0.6-9.1 -1.2-8.9 -1.7-8.9 -2.2-8.7 -2.8-8.5 -3.2-8.4 -3.8-8.1 -4.4-7.8 -4.8-7.5 -5.4-7.1 -6.4-6.3 -1.9-0.6 0 2 3.4 8 3.6 7.8 3.3 7.7 2.9 7.9 2.7 7.9 2.2 8.1 1.9 8 1.5 8.2 1 8.2 0.7 8.2 0.3 8.2 -0.2 8.2zM268.3 677.6l-8.3 3.1 -7.5 4.9 -7 5.5 -6.7 6 -6.2 6.5 -5.8 6.9 -5.4 7.2 -5 7.5 -4.4 7.9 -4 8.1 -3.6 8.3 -3 8.5 -2.5 8.7 -2 8.9 -1.4 8.9 -1 9 -0.3 9.1 0.1 9 14.9-0.5 0.1-8.2 0.5-8.2 1-8.1 1.3-8.2 1.7-8 2.1-7.9 2.5-7.9 2.9-7.7 3.3-7.6 3.7-7.4 4-7.3 4.4-7 4.7-6.9 5.1-6.8 5.3-6.5 5.6-6.4 5.8-6.3z"/>
<path fill="#fcb418" d="M530.2 811.6l-0.1-9 -0.7-9 -1.2-8.9 -1.7-8.8 -2.3-8.7 -2.8-8.5 -3.3-8.3 -3.9-8 -4.4-7.7 -5.2-7.3 -5.5-4.7 1.5 7 3 8 2.9 8 2.5 8 2.2 8.1 1.8 8.2 1.5 8.1 1 8.3 0.7 8.2 0.2 8.3 -0.1 8.3zM258.8 685.0l-5.2 1.9 -7.2 5.1 -6.8 5.8 -6.3 6.4 -5.8 6.8 -5.4 7.1 -5 7.5 -4.5 7.8 -4 8.1 -3.5 8.2 -3 8.5 -2.5 8.7 -2 8.8 -1.5 8.9 -0.9 9 -0.4 9 0.2 9 13.6-0.4 0.1-8.3 0.5-8.2 0.9-8.2 1.3-8.2 1.8-8 2.1-8 2.5-7.9 2.9-7.8 3.3-7.6 3.6-7.5 4-7.3 4.4-7.1 4.7-7 5-6.9 5.2-6.7 5.4-6.7z"/>
<path fill="#fac42a" d="M529.5 811.6l-0.2-9 -0.6-8.9 -1.2-8.9 -1.8-8.8 -2.3-8.6 -2.9-8.4 -3.4-8.2 -4.1-7.9 -4.9-7.4 -2.8-2.1 0 3.5 2.4 8.3 2.3 8.1 2.1 8.2 1.8 8.2 1.4 8.3 1 8.3 0.6 8.3 0.3 8.3 -0.2 8.3zM249.6 693.3l-1.7 0.3 -7.2 5.2 -6.5 6.1 -5.9 6.6 -5.5 7.1 -5 7.4 -4.5 7.7 -4 8 -3.5 8.3 -3.1 8.4 -2.5 8.7 -1.9 8.7 -1.5 8.9 -0.9 8.9 -0.4 9 0.2 9 12.1-0.4 0.2-8.3 0.5-8.3 0.9-8.2 1.4-8.2 1.7-8.1 2.1-8 2.5-8 2.9-7.8 3.3-7.6 3.6-7.6 4-7.4 4.3-7.2 4.6-7.1 4.8-7.1 4.7-7.3z"/>
<path fill="#f7d340" d="M528.7 811.5l-0.2-8.9 -0.7-8.9 -1.2-8.8 -1.8-8.7 -2.4-8.5 -3-8.4 -3.8-8 -4.8-6.2 0.7 7.7 1.8 8.4 1.6 8.3 1.3 8.3 1 8.4 0.6 8.3 0.2 8.4 -0.2 8.3zM240.6 702.8l-5.1 3.1 -6.2 6.4 -5.6 6.9 -5 7.3 -4.6 7.6 -4 8 -3.6 8.2 -3 8.4 -2.5 8.6 -2 8.7 -1.4 8.8 -0.9 8.9 -0.4 8.9 0.2 8.9 10.5-0.3 0.2-8.3 0.5-8.3 1-8.3 1.3-8.2 1.7-8.2 2.2-8.1 2.5-7.9 2.8-7.9 3.3-7.7 3.6-7.7 3.9-7.4 4.2-7.4 4.3-7.5z"/>
<path fill="#f3e35a" d="M527.8 811.5l-0.2-8.9 -0.7-8.8 -1.4-8.8 -1.9-8.6 -2.6-8.4 -3.6-8.1 -1.7-1.5 -0.4 2.2 1 8.6 1.1 8.4 0.8 8.4 0.5 8.4 0.2 8.4 -0.2 8.4zM231.9 713.8l-0.5 0 -6.4 6.2 -5.3 7.1 -4.6 7.5 -4.1 7.9 -3.6 8.1 -3.1 8.3 -2.5 8.6 -2 8.6 -1.4 8.8 -0.9 8.9 -0.3 8.8 0.2 8.9 8.7-0.3 0.2-8.3 0.6-8.4 0.9-8.3 1.4-8.3 1.7-8.2 2.1-8.1 2.5-8.1 2.8-7.9 3.2-7.8 3.5-7.7 3.7-7.7 3.3-8.2z"/>
<path fill="#f1f179" d="M526.7 811.5l-0.2-8.8 -0.9-8.8 -1.5-8.7 -2.4-8.4 -1.8-2.6 -0.6 3 0.4 8.6 0.3 8.5 0 8.5 -0.3 8.5zM222.9 727.6l-1.2 0.6 -5.3 7.1 -4.3 7.7 -3.6 8 -3.1 8.2 -2.6 8.5 -2 8.6 -1.4 8.7 -0.8 8.8 -0.3 8.9 0.3 8.8 6.4-0.2 0.2-8.5 0.6-8.4 1-8.4 1.4-8.3 1.7-8.3 2.1-8.1 2.4-8.2 2.8-8 3-8 2.8-8.2z"/>
<path fill="#f8fb9a" d="M525.2 811.4l-0.5-8.7 -1.8-7.2 -1.1 7.3 -0.5 8.5zM213.4 747.1l-3.1 4.5 -3.4 8.1 -2.7 8.4 -2 8.5 -1.4 8.6 -0.8 8.7 -0.2 8.8 0.6 8.7 2.7-0.1 0.6-8.5 0.7-8.5 1-8.5 1.4-8.4 1.7-8.3 2-8.3 2.1-8.3z"/>
</g><use href="#rc" transform="rotate(180 362.5 806.6)"/></g>
<line x1="369.8" y1="576.0" x2="369.8" y2="1037.7" stroke="#fff" stroke-opacity="0.7" stroke-width="1.2" stroke-dasharray="1.6 1.6"/>
<line x1="130.4" y1="808.8" x2="595.6" y2="808.8" stroke="#fff" stroke-opacity="0.7" stroke-width="1.2" stroke-dasharray="1.6 1.6"/>
<text x="143.0" y="623.3" font-family="Liberation Sans" font-size="41" font-weight="bold" fill="#fff">c</text>
<rect x="131.0" y="576.6" width="464.0" height="460.5" fill="none" stroke="#000" stroke-width="1.2"/>
</g>
<g>
<rect x="768.6" y="576.3" width="464.0" height="461.4" fill="#0b0a0c"/>
<g filter="url(#sm)"><g id="rd">
<path fill="#0b0a10" d="M1183.7 812.5l0-9.9 -0.6-9.9 -1.2-9.7 -1.7-9.7 -2.2-9.6 -2.8-9.5 -3.3-9.2 -3.8-9.1 -4.3-8.8 -4.8-8.6 -5.2-8.3 -5.7-8 -6.1-7.6 -6.5-7.4 -6.8-6.9 -7.3-6.6 -7.5-6.2 -7.9-5.8 -8.1-5.4 -8.5-4.9 -8.6-4.5 -8.9-4.1 -9.1-3.6 -9.3-3 -9.4-2.6 -9.6-2.1 -9.6-1.6 -9.7-1 -9.8-0.6 -9.8 0 -9.8 0.5 -9.7 1 -9.7 1.5 -9.5 2 -9.5 2.5 -9.3 3 -9.2 3.5 -9 3.9 -8.7 4.4 -8.6 4.9 -8.2 5.3 -8 5.8 -7.6 6.2 -7.3 6.6 -6.9 7 -6.6 7.4 -6.1 7.7 -5.7 8.1 -5.2 8.4 -4.7 8.6 -4.2 9 -3.8 9.1 -3.2 9.3 -2.7 9.5 -2.1 9.7 -1.6 9.7 -1 9.8 -0.5 9.9 0.1 9.9 44.5-1.4 0.1-7.4 0.4-7.5 0.8-7.4 1.2-7.3 1.6-7.3 2-7.2 2.3-7 2.7-7 3-6.8 3.5-6.6 3.7-6.5 4.1-6.3 4.5-6.1 4.7-5.8 5.1-5.6 5.4-5.3 5.6-5 6-4.7 6.2-4.4 6.4-4.1 6.7-3.7 6.8-3.3 7.1-3 7.2-2.5 7.4-2.1 7.5-1.8 7.5-1.3 7.7-0.8 7.7-0.5 7.6 0 7.7 0.4 7.7 0.8 7.6 1.3 7.5 1.6 7.4 2 7.3 2.5 7.1 2.8 7 3.3 6.7 3.6 6.5 4 6.3 4.3 6.1 4.7 5.7 5.1 5.5 5.3 5.1 5.6 4.8 5.9 4.4 6.1 4.1 6.4 3.8 6.5 3.4 6.8 3 6.9 2.6 7 2.2 7.1 1.9 7.3 1.4 7.3 1.1 7.4 0.7 7.4 0.3 7.5 -0.1 7.4z"/>
<path fill="#0b0a1f" d="M1182.9 812.4l0-9.8 -0.6-9.8 -1.2-9.7 -1.7-9.7 -2.2-9.5 -2.8-9.4 -3.3-9.2 -3.8-9 -4.3-8.8 -4.8-8.5 -5.2-8.3 -5.6-7.9 -6.1-7.7 -6.5-7.2 -6.8-7 -7.2-6.5 -7.5-6.2 -7.9-5.7 -8.1-5.4 -8.3-4.9 -8.7-4.5 -8.8-4 -9.1-3.5 -9.2-3.1 -9.4-2.6 -9.5-2.1 -9.6-1.5 -9.6-1.1 -9.7-0.5 -9.8 0 -9.7 0.5 -9.7 1 -9.6 1.4 -9.5 2 -9.4 2.5 -9.3 3 -9.1 3.4 -9 3.9 -8.7 4.4 -8.5 4.9 -8.2 5.3 -7.9 5.7 -7.6 6.2 -7.3 6.5 -6.9 7 -6.5 7.3 -6.1 7.7 -5.6 8.1 -5.2 8.3 -4.7 8.6 -4.3 8.9 -3.7 9.1 -3.2 9.3 -2.7 9.4 -2.1 9.6 -1.5 9.7 -1.1 9.8 -0.4 9.8 0.1 9.8 42.8-1.3 0-7.4 0.5-7.5 0.8-7.5 1.2-7.4 1.6-7.3 2-7.2 2.3-7.1 2.7-7 3.1-6.9 3.4-6.7 3.8-6.5 4.1-6.3 4.5-6.1 4.8-5.9 5.1-5.6 5.4-5.3 5.7-5.1 5.9-4.8 6.3-4.4 6.4-4.1 6.8-3.7 6.9-3.4 7.1-2.9 7.2-2.6 7.5-2.2 7.5-1.7 7.6-1.3 7.7-0.9 7.7-0.5 7.8 0 7.7 0.4 7.7 0.9 7.6 1.2 7.6 1.6 7.5 2.1 7.3 2.5 7.2 2.8 7 3.3 6.8 3.7 6.6 4 6.3 4.4 6.1 4.7 5.7 5.1 5.5 5.3 5.2 5.7 4.8 5.9 4.5 6.2 4.1 6.4 3.8 6.6 3.3 6.8 3.1 6.9 2.6 7.1 2.2 7.2 1.9 7.3 1.5 7.4 1.1 7.4 0.6 7.5 0.3 7.4 0 7.5z"/>
<path fill="#120a32" d="M1182.1 812.4l0-9.8 -0.6-9.7 -1.2-9.7 -1.7-9.6 -2.2-9.5 -2.8-9.4 -3.3-9.2 -3.8-8.9 -4.2-8.8 -4.8-8.4 -5.2-8.2 -5.6-7.9 -6.1-7.6 -6.4-7.3 -6.8-6.8 -7.2-6.6 -7.5-6.1 -7.8-5.7 -8.1-5.3 -8.3-4.9 -8.6-4.4 -8.8-4 -9-3.6 -9.2-3 -9.3-2.6 -9.4-2.1 -9.6-1.5 -9.6-1.1 -9.7-0.5 -9.6 0 -9.7 0.5 -9.6 1 -9.6 1.4 -9.5 2 -9.4 2.5 -9.2 2.9 -9.1 3.4 -8.9 3.9 -8.7 4.4 -8.4 4.8 -8.2 5.3 -7.9 5.7 -7.6 6.1 -7.2 6.5 -6.9 7 -6.5 7.3 -6 7.6 -5.7 8 -5.1 8.3 -4.7 8.6 -4.3 8.8 -3.7 9 -3.1 9.3 -2.7 9.4 -2.1 9.6 -1.6 9.6 -1 9.8 -0.4 9.7 0.1 9.8 41.2-1.2 0-7.6 0.5-7.5 0.8-7.5 1.2-7.4 1.6-7.4 2-7.2 2.4-7.2 2.7-7 3.1-6.9 3.4-6.8 3.8-6.5 4.2-6.4 4.5-6.1 4.8-5.9 5.1-5.7 5.4-5.4 5.7-5.1 6-4.7 6.3-4.5 6.5-4.1 6.8-3.8 6.9-3.4 7.2-3 7.3-2.6 7.4-2.2 7.6-1.7 7.7-1.3 7.7-0.9 7.8-0.5 7.8 0 7.8 0.4 7.7 0.8 7.7 1.3 7.6 1.7 7.5 2 7.4 2.5 7.2 2.9 7.1 3.3 6.8 3.7 6.7 4 6.3 4.4 6.1 4.8 5.8 5.1 5.5 5.4 5.2 5.7 4.9 6 4.5 6.2 4.1 6.4 3.8 6.7 3.4 6.8 3 7 2.7 7.1 2.2 7.3 1.9 7.3 1.5 7.4 1 7.5 0.7 7.5 0.3 7.5 -0.1 7.6z"/>
<path fill="#1e0c45" d="M1181.4 812.4l-0.1-9.8 -0.6-9.7 -1.1-9.6 -1.7-9.6 -2.2-9.5 -2.8-9.3 -3.3-9.1 -3.8-8.9 -4.2-8.7 -4.8-8.4 -5.2-8.2 -5.6-7.9 -6-7.5 -6.4-7.2 -6.8-6.9 -7.2-6.4 -7.4-6.1 -7.8-5.7 -8-5.3 -8.3-4.8 -8.6-4.5 -8.7-3.9 -9-3.5 -9.1-3.1 -9.3-2.5 -9.4-2.1 -9.5-1.5 -9.6-1.1 -9.6-0.5 -9.6 0 -9.6 0.5 -9.6 0.9 -9.5 1.5 -9.5 2 -9.3 2.4 -9.2 2.9 -9 3.4 -8.9 3.9 -8.6 4.3 -8.5 4.8 -8.1 5.2 -7.9 5.7 -7.5 6.1 -7.2 6.5 -6.9 6.9 -6.5 7.2 -6 7.6 -5.6 8 -5.2 8.3 -4.7 8.5 -4.2 8.8 -3.7 9 -3.1 9.2 -2.7 9.4 -2.1 9.5 -1.6 9.6 -1 9.7 -0.4 9.7 0.1 9.8 39.7-1.2 0.1-7.6 0.5-7.5 0.8-7.6 1.2-7.4 1.6-7.4 2-7.3 2.4-7.2 2.7-7.1 3.1-6.9 3.5-6.8 3.8-6.6 4.2-6.4 4.5-6.2 4.8-5.9 5.1-5.7 5.5-5.4 5.7-5.2 6.1-4.8 6.3-4.5 6.5-4.2 6.8-3.7 7-3.5 7.2-3 7.3-2.6 7.5-2.2 7.7-1.8 7.7-1.3 7.8-0.9 7.8-0.5 7.8 0 7.9 0.4 7.7 0.9 7.8 1.2 7.6 1.7 7.6 2.1 7.4 2.5 7.3 2.9 7.1 3.3 6.9 3.7 6.6 4.1 6.4 4.4 6.2 4.8 5.8 5.2 5.5 5.4 5.2 5.7 4.9 6.1 4.5 6.2 4.2 6.5 3.8 6.7 3.4 6.9 3 7 2.7 7.1 2.2 7.3 1.9 7.4 1.5 7.5 1.1 7.5 0.7 7.5 0.3 7.6 -0.1 7.6z"/>
<path fill="#2b0b57" d="M1180.7 812.4l-0.1-9.7 -0.6-9.7 -1.1-9.6 -1.7-9.6 -2.2-9.4 -2.8-9.2 -3.3-9.1 -3.7-8.9 -4.3-8.7 -4.7-8.4 -5.2-8.1 -5.6-7.8 -6-7.5 -6.4-7.2 -6.8-6.8 -7.1-6.4 -7.4-6.1 -7.8-5.6 -8-5.3 -8.2-4.8 -8.6-4.4 -8.7-4 -8.9-3.4 -9.1-3.1 -9.2-2.5 -9.4-2 -9.4-1.6 -9.5-1 -9.6-0.6 -9.6 0 -9.6 0.5 -9.5 1 -9.5 1.4 -9.4 2 -9.3 2.4 -9.1 2.9 -9 3.4 -8.8 3.8 -8.7 4.3 -8.3 4.8 -8.2 5.2 -7.8 5.6 -7.5 6 -7.2 6.5 -6.8 6.9 -6.5 7.2 -6 7.6 -5.6 7.9 -5.2 8.2 -4.6 8.5 -4.2 8.8 -3.7 8.9 -3.2 9.2 -2.6 9.4 -2.1 9.4 -1.6 9.6 -1 9.7 -0.4 9.7 0.1 9.7 38.4-1.2 0-7.6 0.5-7.6 0.8-7.6 1.2-7.5 1.6-7.4 2-7.3 2.4-7.3 2.8-7.1 3.1-7 3.5-6.8 3.8-6.6 4.2-6.4 4.5-6.2 4.8-6 5.2-5.7 5.5-5.5 5.8-5.2 6-4.8 6.3-4.6 6.6-4.1 6.8-3.9 7.1-3.4 7.2-3.1 7.4-2.6 7.5-2.2 7.7-1.8 7.8-1.3 7.8-0.9 7.9-0.5 7.8 0 7.9 0.4 7.9 0.8 7.7 1.3 7.8 1.7 7.6 2.1 7.4 2.5 7.3 2.9 7.2 3.3 6.9 3.8 6.7 4.1 6.4 4.5 6.2 4.8 5.9 5.2 5.5 5.4 5.2 5.8 4.9 6.1 4.6 6.3 4.1 6.5 3.8 6.7 3.5 6.9 3 7.1 2.7 7.2 2.2 7.3 1.9 7.4 1.5 7.5 1.1 7.6 0.7 7.6 0.3 7.6 -0.1 7.6z"/>
<path fill="#390a63" d="M1180.0 812.3l0-9.6 -0.6-9.7 -1.2-9.5 -1.7-9.5 -2.2-9.4 -2.8-9.2 -3.2-9.1 -3.8-8.8 -4.3-8.7 -4.7-8.3 -5.1-8.1 -5.6-7.8 -6-7.4 -6.4-7.2 -6.8-6.7 -7-6.4 -7.4-6 -7.7-5.7 -8-5.2 -8.3-4.8 -8.4-4.4 -8.7-3.9 -8.9-3.5 -9-3 -9.2-2.5 -9.3-2 -9.4-1.6 -9.5-1 -9.5-0.5 -9.6 0 -9.5 0.4 -9.5 1 -9.4 1.4 -9.4 2 -9.2 2.4 -9.1 2.8 -9 3.4 -8.8 3.8 -8.6 4.3 -8.3 4.7 -8.1 5.2 -7.8 5.6 -7.5 6 -7.2 6.4 -6.8 6.8 -6.4 7.2 -6.1 7.6 -5.5 7.9 -5.2 8.1 -4.6 8.5 -4.2 8.7 -3.7 9 -3.1 9.1 -2.7 9.3 -2.1 9.5 -1.5 9.5 -1 9.6 -0.4 9.7 0.1 9.6 37-1.1 0-7.6 0.5-7.6 0.8-7.6 1.3-7.6 1.6-7.5 2-7.3 2.4-7.3 2.8-7.2 3.1-7 3.5-6.8 3.8-6.7 4.2-6.4 4.5-6.3 4.9-6 5.2-5.8 5.5-5.4 5.8-5.2 6.1-4.9 6.3-4.6 6.6-4.2 6.9-3.9 7.1-3.4 7.2-3.1 7.4-2.7 7.6-2.2 7.7-1.8 7.8-1.4 7.9-0.9 7.9-0.4 8-0.1 7.9 0.5 7.9 0.8 7.8 1.3 7.8 1.7 7.6 2.1 7.5 2.5 7.4 2.9 7.1 3.4 7 3.8 6.7 4.1 6.5 4.5 6.2 4.9 5.9 5.2 5.6 5.5 5.2 5.8 4.9 6.1 4.6 6.3 4.2 6.6 3.8 6.8 3.4 6.9 3.1 7.1 2.6 7.3 2.3 7.3 1.9 7.5 1.5 7.5 1 7.6 0.7 7.6 0.3 7.7 -0.1 7.6z"/>
<path fill="#470b6a" d="M1179.4 812.3l-0.1-9.6 -0.6-9.6 -1.1-9.6 -1.7-9.4 -2.3-9.4 -2.7-9.1 -3.3-9.1 -3.7-8.8 -4.3-8.5 -4.7-8.4 -5.1-8 -5.6-7.8 -6-7.4 -6.4-7.1 -6.7-6.7 -7.1-6.4 -7.3-5.9 -7.7-5.6 -8-5.2 -8.1-4.8 -8.5-4.3 -8.6-3.9 -8.9-3.5 -9-3 -9.1-2.5 -9.3-2 -9.3-1.6 -9.5-1 -9.5-0.5 -9.4 0 -9.5 0.4 -9.5 1 -9.4 1.4 -9.3 1.9 -9.2 2.4 -9.1 2.9 -8.9 3.3 -8.8 3.8 -8.5 4.2 -8.3 4.7 -8.1 5.1 -7.8 5.6 -7.5 6 -7.1 6.4 -6.8 6.8 -6.4 7.1 -6 7.6 -5.6 7.8 -5.1 8.2 -4.7 8.4 -4.1 8.7 -3.7 8.9 -3.1 9.1 -2.7 9.3 -2 9.4 -1.6 9.5 -1 9.6 -0.4 9.6 0.1 9.6 35.7-1.1 0.1-7.6 0.5-7.7 0.8-7.6 1.3-7.6 1.6-7.5 2-7.4 2.4-7.3 2.8-7.2 3.1-7 3.5-6.9 3.9-6.7 4.2-6.5 4.5-6.3 4.9-6 5.2-5.8 5.5-5.6 5.8-5.2 6.2-4.9 6.3-4.6 6.7-4.3 6.8-3.8 7.1-3.5 7.3-3.1 7.5-2.7 7.6-2.3 7.8-1.8 7.8-1.4 8-0.9 7.9-0.4 8-0.1 8 0.4 7.9 0.9 7.9 1.3 7.8 1.7 7.6 2.1 7.6 2.5 7.4 3 7.2 3.4 7 3.8 6.8 4.1 6.5 4.6 6.2 4.9 5.9 5.2 5.6 5.5 5.3 5.9 4.9 6.1 4.6 6.4 4.2 6.6 3.8 6.8 3.4 7 3.1 7.1 2.7 7.3 2.2 7.4 1.9 7.5 1.5 7.6 1.1 7.6 0.7 7.7 0.3 7.7 -0.1 7.6z"/>
<path fill="#540f6d" d="M1178.8 812.3l-0.1-9.6 -0.6-9.6 -1.2-9.5 -1.7-9.4 -2.2-9.3 -2.7-9.2 -3.3-8.9 -3.8-8.8 -4.2-8.5 -4.7-8.3 -5.1-8 -5.6-7.7 -6-7.4 -6.3-7.1 -6.7-6.7 -7.1-6.3 -7.3-5.9 -7.7-5.6 -7.9-5.2 -8.1-4.7 -8.4-4.3 -8.6-3.9 -8.8-3.4 -9-3 -9.1-2.5 -9.2-2 -9.3-1.6 -9.4-1 -9.5-0.5 -9.4 0 -9.5 0.4 -9.4 1 -9.3 1.4 -9.3 1.9 -9.2 2.4 -9 2.8 -8.9 3.3 -8.7 3.7 -8.5 4.3 -8.3 4.6 -8.1 5.1 -7.8 5.6 -7.4 5.9 -7.1 6.4 -6.8 6.7 -6.4 7.2 -6 7.4 -5.5 7.8 -5.2 8.2 -4.6 8.4 -4.1 8.6 -3.7 8.9 -3.1 9.1 -2.7 9.2 -2 9.4 -1.6 9.5 -1 9.5 -0.4 9.6 0.1 9.6 34.5-1 0.1-7.7 0.4-7.7 0.9-7.7 1.2-7.6 1.7-7.6 2-7.4 2.4-7.3 2.8-7.3 3.1-7 3.5-6.9 3.9-6.8 4.2-6.5 4.6-6.3 4.9-6.1 5.2-5.8 5.6-5.6 5.8-5.2 6.1-5 6.4-4.6 6.7-4.3 6.9-3.9 7.1-3.5 7.4-3.2 7.5-2.7 7.6-2.2 7.8-1.9 7.9-1.3 8-1 8-0.5 8 0 8 0.4 8 0.9 7.9 1.3 7.8 1.7 7.8 2.1 7.6 2.6 7.4 3 7.2 3.4 7.1 3.8 6.8 4.2 6.5 4.5 6.3 5 5.9 5.2 5.6 5.6 5.3 5.9 5 6.2 4.6 6.4 4.2 6.6 3.8 6.9 3.5 7 3 7.2 2.7 7.3 2.3 7.4 1.9 7.6 1.4 7.6 1.1 7.6 0.7 7.7 0.3 7.7 -0.1 7.8z"/>
<path fill="#61136e" d="M1178.2 812.3l-0.1-9.6 -0.6-9.5 -1.2-9.5 -1.7-9.4 -2.2-9.3 -2.7-9.1 -3.3-8.9 -3.8-8.8 -4.2-8.5 -4.7-8.2 -5.1-8 -5.6-7.6 -5.9-7.4 -6.4-7 -6.7-6.6 -7-6.3 -7.3-5.9 -7.6-5.6 -7.9-5.1 -8.1-4.7 -8.4-4.3 -8.6-3.9 -8.7-3.4 -8.9-3 -9.1-2.4 -9.2-2 -9.3-1.6 -9.3-1 -9.4-0.5 -9.4 0 -9.4 0.4 -9.4 1 -9.3 1.4 -9.2 1.8 -9.1 2.4 -9.1 2.8 -8.8 3.3 -8.7 3.7 -8.5 4.2 -8.3 4.6 -8 5.1 -7.7 5.5 -7.5 5.9 -7.1 6.3 -6.7 6.8 -6.4 7.1 -6 7.4 -5.5 7.8 -5.1 8.1 -4.6 8.3 -4.2 8.7 -3.6 8.8 -3.2 9.1 -2.6 9.2 -2 9.3 -1.6 9.5 -1 9.5 -0.4 9.5 0.1 9.6 33.3-1 0.1-7.8 0.4-7.7 0.9-7.7 1.3-7.6 1.6-7.6 2-7.5 2.4-7.3 2.8-7.3 3.2-7.1 3.5-6.9 3.9-6.8 4.2-6.6 4.6-6.3 4.9-6.1 5.3-5.9 5.5-5.6 5.9-5.3 6.1-5 6.5-4.6 6.7-4.3 6.9-4 7.2-3.5 7.3-3.2 7.6-2.7 7.7-2.3 7.8-1.8 7.9-1.4 8-1 8.1-0.5 8 0 8.1 0.4 8 0.9 8 1.3 7.8 1.7 7.8 2.2 7.6 2.5 7.5 3 7.3 3.4 7.1 3.9 6.8 4.2 6.6 4.6 6.2 5 6 5.3 5.7 5.6 5.3 5.9 4.9 6.2 4.6 6.5 4.2 6.7 3.9 6.8 3.4 7.1 3.1 7.2 2.7 7.4 2.3 7.4 1.9 7.6 1.4 7.7 1.1 7.7 0.7 7.7 0.3 7.7 -0.1 7.8z"/>
<path fill="#6d186e" d="M1177.6 812.3l-0.1-9.6 -0.6-9.5 -1.2-9.4 -1.7-9.4 -2.2-9.2 -2.7-9.1 -3.3-8.9 -3.7-8.7 -4.3-8.5 -4.7-8.2 -5.1-7.9 -5.5-7.6 -6-7.3 -6.3-7 -6.7-6.6 -7-6.3 -7.3-5.8 -7.6-5.5 -7.8-5.1 -8.1-4.7 -8.3-4.3 -8.6-3.8 -8.7-3.4 -8.9-3 -9-2.5 -9.1-2 -9.3-1.5 -9.3-1 -9.3-0.5 -9.4 0 -9.3 0.4 -9.4 0.9 -9.2 1.4 -9.2 1.9 -9.1 2.3 -9 2.8 -8.8 3.3 -8.7 3.7 -8.4 4.1 -8.3 4.6 -8 5 -7.7 5.5 -7.4 5.9 -7.1 6.3 -6.8 6.7 -6.3 7.1 -6 7.4 -5.5 7.7 -5.1 8.1 -4.6 8.3 -4.1 8.6 -3.7 8.8 -3.1 9 -2.6 9.2 -2.1 9.3 -1.5 9.4 -1 9.5 -0.4 9.5 0.1 9.6 32.1-1 0.1-7.8 0.5-7.7 0.8-7.8 1.3-7.6 1.6-7.6 2.1-7.5 2.4-7.4 2.8-7.3 3.1-7.2 3.6-6.9 3.9-6.8 4.2-6.6 4.6-6.4 4.9-6.1 5.3-5.9 5.6-5.7 5.9-5.3 6.1-5 6.5-4.7 6.7-4.4 7-3.9 7.2-3.6 7.4-3.2 7.5-2.7 7.8-2.3 7.8-1.9 8-1.4 8.1-1 8-0.5 8.2 0 8.1 0.4 8 0.9 8 1.3 7.9 1.7 7.8 2.2 7.7 2.6 7.5 3 7.4 3.4 7.1 3.9 6.8 4.2 6.6 4.7 6.3 5 6 5.3 5.7 5.7 5.3 5.9 5 6.3 4.6 6.5 4.2 6.7 3.9 6.9 3.4 7.1 3.1 7.3 2.7 7.4 2.3 7.5 1.9 7.6 1.4 7.6 1.1 7.8 0.7 7.7 0.3 7.8 -0.1 7.8z"/>
<path fill="#7a1d6d" d="M1177.0 812.3l-0.1-9.5 -0.6-9.5 -1.1-9.4 -1.7-9.4 -2.3-9.2 -2.7-9 -3.3-8.9 -3.7-8.7 -4.3-8.4 -4.6-8.1 -5.2-7.9 -5.5-7.6 -5.9-7.3 -6.3-6.9 -6.7-6.6 -7-6.2 -7.3-5.9 -7.5-5.4 -7.8-5.1 -8.1-4.6 -8.3-4.3 -8.5-3.8 -8.7-3.4 -8.8-2.9 -9-2.5 -9.1-1.9 -9.2-1.5 -9.2-1.1 -9.3-0.5 -9.4 0 -9.3 0.4 -9.3 0.9 -9.2 1.4 -9.1 1.9 -9.1 2.3 -8.9 2.7 -8.8 3.2 -8.7 3.7 -8.4 4.1 -8.2 4.6 -8 5 -7.7 5.4 -7.4 5.9 -7.1 6.3 -6.7 6.6 -6.3 7 -6 7.4 -5.5 7.7 -5.1 8.1 -4.6 8.3 -4.1 8.5 -3.6 8.8 -3.2 9 -2.5 9.1 -2.1 9.3 -1.5 9.4 -1 9.5 -0.4 9.5 0.1 9.4 30.9-0.9 0.1-7.8 0.5-7.8 0.9-7.7 1.2-7.7 1.7-7.7 2-7.5 2.4-7.4 2.8-7.4 3.2-7.1 3.6-7 3.9-6.8 4.2-6.7 4.6-6.4 5-6.2 5.2-5.9 5.6-5.7 5.9-5.3 6.2-5.1 6.5-4.7 6.7-4.4 7-4 7.3-3.6 7.4-3.2 7.6-2.8 7.8-2.3 7.9-1.9 8-1.4 8.1-1 8.1-0.5 8.2 0 8.1 0.4 8.1 0.9 8.1 1.3 7.9 1.7 7.9 2.2 7.7 2.6 7.6 3 7.3 3.5 7.2 3.9 6.8 4.3 6.7 4.6 6.3 5.1 6 5.3 5.7 5.8 5.3 6 5 6.2 4.6 6.6 4.3 6.7 3.8 7 3.5 7.1 3.1 7.3 2.7 7.4 2.3 7.6 1.8 7.6 1.5 7.7 1.1 7.8 0.7 7.8 0.3 7.8 -0.1 7.8z"/>
<path fill="#85216b" d="M1176.4 812.2l0-9.4 -0.7-9.5 -1.1-9.4 -1.7-9.2 -2.2-9.2 -2.8-9 -3.3-8.9 -3.7-8.6 -4.2-8.4 -4.7-8.1 -5.1-7.9 -5.6-7.5 -5.9-7.2 -6.3-6.9 -6.6-6.6 -7-6.1 -7.2-5.8 -7.6-5.5 -7.8-5 -8-4.6 -8.3-4.2 -8.4-3.8 -8.7-3.4 -8.8-2.9 -8.9-2.4 -9-2 -9.2-1.5 -9.2-1 -9.3-0.5 -9.2-0.1 -9.3 0.5 -9.2 0.9 -9.2 1.3 -9.1 1.8 -9.1 2.3 -8.9 2.7 -8.7 3.2 -8.6 3.7 -8.4 4.1 -8.2 4.5 -8 5 -7.7 5.4 -7.3 5.8 -7.1 6.2 -6.7 6.6 -6.4 7 -5.9 7.4 -5.5 7.7 -5.1 7.9 -4.6 8.3 -4.1 8.5 -3.6 8.8 -3.1 9 -2.6 9.1 -2.1 9.2 -1.5 9.4 -0.9 9.4 -0.5 9.5 0.2 9.4 29.8-0.9 0.1-7.8 0.4-7.8 0.9-7.8 1.3-7.7 1.6-7.7 2.1-7.6 2.4-7.4 2.8-7.4 3.2-7.2 3.6-7 3.9-6.9 4.2-6.6 4.7-6.5 4.9-6.2 5.3-5.9 5.6-5.7 5.9-5.4 6.2-5.1 6.5-4.8 6.8-4.4 7-4 7.3-3.7 7.4-3.2 7.7-2.8 7.8-2.4 7.9-1.9 8.1-1.4 8.1-1 8.2-0.5 8.2 0 8.2 0.4 8.1 0.8 8.1 1.4 8 1.7 7.9 2.2 7.8 2.6 7.6 3.1 7.4 3.5 7.2 3.9 6.9 4.3 6.6 4.7 6.4 5.1 6 5.4 5.7 5.7 5.4 6.1 5 6.3 4.6 6.6 4.3 6.8 3.8 7 3.5 7.1 3.1 7.4 2.6 7.4 2.3 7.6 1.9 7.7 1.5 7.7 1.1 7.8 0.7 7.8 0.2 7.9 -0.1 7.8z"/>
<path fill="#922568" d="M1175.9 812.2l-0.1-9.4 -0.6-9.4 -1.2-9.4 -1.7-9.2 -2.2-9.2 -2.8-9 -3.2-8.8 -3.8-8.6 -4.2-8.3 -4.7-8.1 -5.1-7.8 -5.5-7.5 -5.9-7.2 -6.3-6.8 -6.7-6.5 -6.9-6.2 -7.2-5.7 -7.6-5.4 -7.7-5 -8-4.6 -8.2-4.2 -8.5-3.7 -8.6-3.4 -8.7-2.9 -8.9-2.4 -9-2 -9.1-1.5 -9.2-1 -9.2-0.5 -9.2 0 -9.2 0.4 -9.2 0.9 -9.2 1.3 -9 1.8 -9 2.3 -8.9 2.7 -8.7 3.1 -8.6 3.6 -8.4 4.1 -8.1 4.5 -8 4.9 -7.6 5.4 -7.4 5.8 -7.1 6.1 -6.7 6.6 -6.3 7 -5.9 7.3 -5.5 7.7 -5.1 7.9 -4.6 8.3 -4.1 8.5 -3.6 8.7 -3.1 8.9 -2.6 9.1 -2 9.2 -1.5 9.4 -1 9.3 -0.4 9.5 0.1 9.4 28.7-0.8 0.1-7.9 0.5-7.9 0.9-7.8 1.2-7.8 1.7-7.6 2.1-7.6 2.4-7.5 2.8-7.4 3.2-7.2 3.6-7.1 3.9-6.9 4.3-6.7 4.6-6.4 5-6.3 5.2-6 5.7-5.7 5.9-5.5 6.2-5.1 6.5-4.8 6.8-4.4 7.1-4.1 7.3-3.7 7.5-3.2 7.6-2.9 7.9-2.4 8-1.9 8.1-1.5 8.2-1 8.2-0.5 8.2 0 8.3 0.4 8.2 0.9 8.1 1.3 8 1.8 8 2.2 7.8 2.6 7.6 3.1 7.5 3.5 7.2 3.9 6.9 4.4 6.7 4.7 6.4 5.1 6 5.5 5.8 5.8 5.3 6.1 5 6.4 4.7 6.6 4.2 6.8 3.9 7 3.5 7.3 3 7.3 2.7 7.5 2.3 7.6 1.9 7.7 1.5 7.8 1 7.8 0.7 7.9 0.3 7.9 -0.1 7.9z"/>
<path fill="#9f2a63" d="M1175.3 812.2l0-9.4 -0.7-9.4 -1.1-9.3 -1.7-9.2 -2.3-9.1 -2.7-9 -3.3-8.8 -3.8-8.5 -4.2-8.3 -4.7-8.1 -5.1-7.8 -5.5-7.4 -5.9-7.2 -6.3-6.7 -6.6-6.5 -6.9-6.1 -7.3-5.7 -7.4-5.3 -7.8-5 -8-4.5 -8.1-4.2 -8.4-3.7 -8.6-3.3 -8.7-2.9 -8.8-2.4 -9-2 -9-1.5 -9.2-0.9 -9.1-0.6 -9.2 0 -9.2 0.4 -9.1 0.9 -9.1 1.3 -9 1.8 -9 2.2 -8.8 2.6 -8.7 3.2 -8.6 3.5 -8.3 4 -8.2 4.5 -7.9 4.9 -7.6 5.3 -7.4 5.7 -7 6.2 -6.7 6.5 -6.3 7 -5.9 7.3 -5.5 7.6 -5.1 7.9 -4.6 8.2 -4.1 8.5 -3.6 8.7 -3.1 8.9 -2.5 9 -2.1 9.2 -1.5 9.3 -0.9 9.4 -0.5 9.4 0.2 9.4 27.6-0.8 0-7.9 0.5-7.9 0.9-7.9 1.3-7.8 1.7-7.7 2-7.6 2.5-7.5 2.8-7.4 3.2-7.3 3.6-7.1 3.9-6.9 4.3-6.7 4.6-6.5 5-6.3 5.3-6 5.6-5.8 6-5.5 6.2-5.1 6.6-4.9 6.8-4.5 7-4.1 7.4-3.7 7.5-3.3 7.7-2.9 7.9-2.4 8-2 8.2-1.4 8.2-1 8.3-0.6 8.2 0 8.3 0.4 8.3 0.9 8.2 1.3 8.1 1.8 8 2.2 7.8 2.7 7.7 3.1 7.5 3.5 7.2 4 7 4.4 6.7 4.7 6.4 5.2 6.1 5.5 5.7 5.9 5.4 6.1 5 6.4 4.6 6.7 4.3 6.8 3.9 7.1 3.4 7.3 3.1 7.4 2.7 7.5 2.3 7.7 1.9 7.7 1.4 7.8 1.1 7.9 0.7 7.9 0.3 7.9 -0.2 7.9z"/>
<path fill="#ab2f5e" d="M1174.8 812.2l-0.1-9.4 -0.6-9.3 -1.2-9.3 -1.7-9.2 -2.3-9.1 -2.7-8.9 -3.3-8.7 -3.7-8.6 -4.3-8.2 -4.6-8.1 -5.1-7.7 -5.6-7.4 -5.9-7.1 -6.3-6.7 -6.6-6.4 -6.9-6.1 -7.2-5.6 -7.5-5.3 -7.7-4.9 -7.9-4.5 -8.2-4.1 -8.3-3.7 -8.5-3.3 -8.7-2.9 -8.8-2.4 -8.9-1.9 -9-1.5 -9-1 -9.1-0.5 -9.2 0 -9.1 0.4 -9.1 0.8 -9 1.3 -9 1.7 -8.9 2.2 -8.8 2.6 -8.7 3.1 -8.5 3.5 -8.3 4 -8.2 4.4 -7.9 4.8 -7.6 5.3 -7.3 5.7 -7.1 6.1 -6.6 6.6 -6.3 6.9 -5.9 7.2 -5.5 7.6 -5.1 7.9 -4.5 8.2 -4.1 8.4 -3.6 8.7 -3.1 8.8 -2.6 9.1 -2 9.1 -1.5 9.3 -1 9.3 -0.4 9.4 0.1 9.4 26.5-0.8 0.1-7.9 0.5-8 0.9-7.8 1.3-7.9 1.6-7.7 2.1-7.7 2.5-7.5 2.8-7.4 3.2-7.3 3.6-7.1 3.9-7 4.3-6.8 4.6-6.5 5-6.3 5.3-6.1 5.7-5.8 6-5.5 6.2-5.2 6.6-4.9 6.8-4.5 7.1-4.2 7.3-3.8 7.6-3.3 7.7-2.9 8-2.5 8-2 8.2-1.5 8.3-1 8.3-0.5 8.4-0.1 8.3 0.4 8.3 0.9 8.3 1.3 8.1 1.8 8 2.3 7.9 2.6 7.8 3.2 7.5 3.6 7.3 4 7 4.4 6.7 4.8 6.4 5.2 6.1 5.6 5.8 5.9 5.4 6.2 5 6.4 4.6 6.7 4.3 7 3.8 7.1 3.5 7.3 3.1 7.4 2.7 7.6 2.2 7.7 1.9 7.8 1.5 7.8 1.1 7.9 0.6 7.9 0.3 8 -0.1 7.9z"/>
<path fill="#b73557" d="M1174.2 812.2l0-9.4 -0.7-9.3 -1.2-9.3 -1.7-9.1 -2.2-9.1 -2.8-8.8 -3.3-8.7 -3.7-8.5 -4.2-8.3 -4.7-7.9 -5.1-7.7 -5.6-7.4 -5.9-7 -6.3-6.7 -6.6-6.3 -6.9-6 -7.2-5.6 -7.4-5.2 -7.7-4.9 -7.9-4.4 -8.1-4.1 -8.3-3.7 -8.5-3.2 -8.6-2.8 -8.7-2.4 -8.9-1.9 -8.9-1.5 -9-1 -9.1-0.5 -9-0.1 -9.1 0.4 -9 0.8 -9 1.3 -9 1.7 -8.8 2.1 -8.8 2.6 -8.6 3 -8.5 3.5 -8.4 3.9 -8.1 4.3 -7.8 4.8 -7.7 5.3 -7.3 5.6 -7 6.1 -6.7 6.5 -6.3 6.8 -5.9 7.2 -5.4 7.6 -5.1 7.9 -4.5 8.1 -4.1 8.4 -3.6 8.7 -3.1 8.8 -2.6 9 -2 9.1 -1.5 9.3 -1 9.3 -0.4 9.3 0.2 9.4 25.4-0.8 0.1-8 0.5-7.9 0.8-7.9 1.3-7.9 1.7-7.7 2.1-7.7 2.4-7.6 2.9-7.5 3.2-7.3 3.6-7.1 3.9-7 4.3-6.8 4.7-6.6 5-6.3 5.3-6.1 5.6-5.9 6-5.5 6.3-5.3 6.6-4.9 6.8-4.6 7.1-4.2 7.4-3.8 7.6-3.4 7.8-3 7.9-2.5 8.2-2.1 8.2-1.5 8.3-1.1 8.4-0.5 8.4-0.1 8.4 0.4 8.4 0.9 8.3 1.4 8.2 1.8 8.1 2.2 7.9 2.7 7.8 3.2 7.5 3.6 7.4 4.1 7 4.5 6.8 4.9 6.4 5.2 6.1 5.7 5.8 5.9 5.4 6.2 5 6.6 4.6 6.7 4.3 7 3.8 7.2 3.5 7.3 3.1 7.5 2.6 7.6 2.3 7.7 1.9 7.8 1.5 7.9 1 7.9 0.7 8 0.3 7.9 -0.2 8z"/>
<path fill="#c33b4f" d="M1173.7 812.2l-0.1-9.4 -0.6-9.3 -1.2-9.2 -1.7-9.1 -2.3-9 -2.8-8.9 -3.2-8.6 -3.8-8.5 -4.2-8.2 -4.7-7.9 -5.2-7.6 -5.5-7.3 -5.9-7 -6.3-6.6 -6.6-6.3 -6.9-5.9 -7.2-5.5 -7.4-5.2 -7.7-4.7 -7.9-4.4 -8.1-4 -8.2-3.6 -8.4-3.2 -8.6-2.8 -8.6-2.4 -8.8-1.9 -8.9-1.4 -8.9-1 -9-0.5 -9-0.1 -9 0.3 -9 0.8 -8.9 1.2 -8.9 1.6 -8.8 2.1 -8.8 2.5 -8.6 2.9 -8.5 3.4 -8.2 3.9 -8.1 4.3 -7.9 4.7 -7.6 5.2 -7.3 5.6 -7 6.1 -6.7 6.4 -6.3 6.8 -5.9 7.2 -5.4 7.5 -5.1 7.8 -4.5 8.2 -4.1 8.3 -3.6 8.6 -3.1 8.8 -2.6 9 -2 9.1 -1.5 9.2 -0.9 9.3 -0.4 9.3 0.1 9.3 24.3-0.7 0.1-8 0.5-7.9 0.9-8 1.3-7.9 1.7-7.8 2.1-7.7 2.4-7.6 2.9-7.5 3.2-7.3 3.6-7.2 3.9-7 4.3-6.8 4.7-6.7 5-6.4 5.3-6.1 5.7-5.9 6-5.6 6.3-5.3 6.5-5 6.9-4.6 7.1-4.3 7.4-3.9 7.6-3.5 7.9-3 8-2.6 8.1-2.1 8.3-1.6 8.4-1.1 8.5-0.6 8.4 0 8.5 0.4 8.4 0.9 8.4 1.3 8.3 1.9 8.1 2.2 8 2.8 7.9 3.2 7.6 3.7 7.3 4.1 7.1 4.5 6.8 5 6.4 5.4 6.1 5.6 5.8 6.1 5.4 6.3 5 6.6 4.6 6.8 4.3 7 3.8 7.2 3.5 7.4 3.1 7.5 2.6 7.7 2.3 7.7 1.9 7.9 1.4 7.9 1.1 7.9 0.6 8 0.3 8 -0.1 8z"/>
<path fill="#ce4347" d="M1173.2 812.1l-0.1-9.3 -0.7-9.2 -1.2-9.2 -1.7-9.1 -2.3-9 -2.7-8.8 -3.3-8.6 -3.8-8.4 -4.3-8.2 -4.7-7.8 -5.1-7.6 -5.5-7.3 -6-6.9 -6.3-6.5 -6.6-6.2 -6.9-5.8 -7.2-5.5 -7.5-5 -7.6-4.6 -7.9-4.3 -8-3.9 -8.2-3.5 -8.4-3.1 -8.4-2.7 -8.6-2.4 -8.7-1.9 -8.8-1.4 -8.9-1 -8.8-0.5 -9-0.1 -8.9 0.3 -8.9 0.7 -8.9 1.1 -8.8 1.5 -8.8 1.9 -8.7 2.4 -8.6 2.9 -8.4 3.3 -8.3 3.8 -8.1 4.2 -7.9 4.7 -7.6 5.1 -7.3 5.6 -7 5.9 -6.6 6.4 -6.3 6.8 -5.9 7.1 -5.5 7.5 -5 7.8 -4.5 8.1 -4.1 8.4 -3.6 8.5 -3.1 8.8 -2.5 9 -2.1 9 -1.4 9.2 -1 9.3 -0.4 9.2 0.2 9.3 23.2-0.7 0.1-8 0.5-8 0.9-7.9 1.3-8 1.7-7.8 2-7.7 2.5-7.7 2.9-7.5 3.2-7.4 3.6-7.2 3.9-7 4.3-6.9 4.7-6.7 5-6.4 5.4-6.2 5.6-5.9 6-5.7 6.3-5.3 6.6-5.1 6.9-4.7 7.1-4.3 7.4-4 7.7-3.6 7.8-3.1 8.1-2.7 8.2-2.2 8.3-1.7 8.5-1.2 8.5-0.7 8.6-0.1 8.5 0.4 8.6 0.9 8.4 1.4 8.4 1.8 8.2 2.3 8.1 2.8 7.9 3.3 7.6 3.8 7.4 4.3 7.1 4.6 6.8 5.1 6.5 5.5 6.1 5.8 5.7 6.1 5.4 6.4 5 6.6 4.6 6.9 4.2 7.1 3.9 7.3 3.4 7.4 3.1 7.6 2.6 7.7 2.3 7.8 1.8 7.8 1.5 8 1 8 0.7 8 0.3 8 -0.2 8z"/>
<path fill="#d84c3e" d="M1172.6 812.1l-0.1-9.2 -0.7-9.3 -1.2-9.1 -1.7-9.1 -2.3-8.9 -2.7-8.8 -3.3-8.6 -3.8-8.3 -4.3-8.1 -4.7-7.9 -5.2-7.5 -5.5-7.2 -6-6.8 -6.3-6.5 -6.7-6 -6.9-5.7 -7.3-5.3 -7.5-4.8 -7.7-4.4 -8-3.8 -8.2-3.3 -2.8-0.5 2.1 1.8 7.2 4.9 7 5.1 6.7 5.3 6.4 5.7 6.1 5.9 5.7 6.3 5.3 6.5 5 6.7 4.6 7 4.2 7.2 3.8 7.3 3.5 7.5 3 7.6 2.6 7.7 2.3 7.9 1.8 7.9 1.5 8 1 8 0.7 8 0.2 8.1 -0.1 8zM985.2 648.2l-6.6-0.4 -8.9 0.6 -8.8 1.2 -8.8 1.7 -8.6 2.2 -8.6 2.7 -8.5 3.1 -8.2 3.7 -8.1 4.1 -7.9 4.6 -7.6 5.1 -7.3 5.5 -7 5.9 -6.6 6.4 -6.3 6.7 -5.9 7.1 -5.4 7.4 -5.1 7.8 -4.5 8.1 -4.1 8.3 -3.6 8.5 -3.1 8.8 -2.5 8.9 -2 9 -1.5 9.2 -0.9 9.2 -0.4 9.3 0.1 9.2 22.1-0.6 0.1-8.1 0.5-8 0.9-8 1.3-8 1.7-7.8 2.1-7.8 2.5-7.7 2.8-7.5 3.3-7.4 3.6-7.3 3.9-7.1 4.3-6.9 4.7-6.7 5-6.4 5.4-6.3 5.6-6 6-5.7 6.3-5.4 6.6-5.1 6.9-4.8 7.1-4.5 7.5-4.1 7.6-3.7 7.9-3.4 8-2.9 8.3-2.5 8.4-2.2z"/>
<path fill="#e15635" d="M1172.0 812.1l-0.1-9.2 -0.6-9.2 -1.2-9.2 -1.8-9 -2.3-8.9 -2.8-8.7 -3.3-8.6 -3.8-8.3 -4.3-8 -4.7-7.8 -5.2-7.4 -5.6-7.1 -6-6.7 -6.4-6.4 -6.7-5.9 -7.1-5.4 -7.6-4.7 -4.6-1.6 2.6 4 5.8 6.5 5.5 6.5 5.3 6.7 4.9 6.9 4.5 7.1 4.2 7.2 3.8 7.4 3.4 7.6 3 7.6 2.7 7.8 2.2 7.9 1.8 7.9 1.5 8.1 1 8 0.6 8.1 0.3 8.1 -0.2 8.1zM952.6 654.7l-8.5 0.6 -8.6 2.3 -8.5 2.9 -8.3 3.5 -8.1 4 -7.8 4.5 -7.6 4.9 -7.4 5.5 -7 5.8 -6.6 6.3 -6.3 6.7 -5.9 7.1 -5.4 7.4 -5 7.7 -4.6 8 -4.1 8.3 -3.6 8.5 -3 8.7 -2.6 8.9 -2 9 -1.5 9.2 -0.9 9.1 -0.4 9.3 0.2 9.2 20.9-0.6 0.2-8.1 0.5-8.1 0.9-8 1.3-8 1.7-7.8 2.1-7.9 2.5-7.7 2.8-7.5 3.2-7.5 3.6-7.3 4-7.1 4.3-6.9 4.7-6.8 5-6.5 5.3-6.3 5.7-6 6-5.8 6.3-5.5 6.6-5.3 6.8-4.9 7.2-4.6 7.4-4.4 7.5-4.1z"/>
<path fill="#e9612b" d="M1171.5 812.1l-0.1-9.2 -0.7-9.2 -1.2-9.1 -1.8-9 -2.3-8.8 -2.8-8.7 -3.3-8.5 -3.9-8.3 -4.3-8 -4.8-7.6 -5.2-7.4 -5.7-7 -6.1-6.6 -6.5-6.1 -7.2-5.3 -3.5-1.3 1.3 3.5 4.8 7.2 4.8 7.1 4.4 7.2 4.1 7.4 3.8 7.5 3.3 7.6 3 7.7 2.6 7.9 2.2 7.9 1.9 8 1.4 8 1 8.1 0.6 8.1 0.2 8.2 -0.1 8.1zM935.3 661.2l-7.5 0.9 -8.4 3.1 -8.2 3.7 -7.8 4.4 -7.7 4.9 -7.3 5.3 -7 5.8 -6.7 6.2 -6.3 6.6 -5.8 7.1 -5.5 7.3 -5 7.7 -4.6 8 -4 8.2 -3.6 8.5 -3.1 8.7 -2.5 8.8 -2 9 -1.5 9.1 -0.9 9.2 -0.4 9.2 0.2 9.2 19.8-0.6 0.1-8.1 0.5-8.1 0.9-8.1 1.4-8 1.7-7.9 2.1-7.8 2.4-7.7 2.9-7.7 3.2-7.4 3.6-7.4 4-7.1 4.3-7 4.7-6.8 5-6.6 5.3-6.3 5.7-6.2 5.9-5.8 6.3-5.7 6.6-5.4 6.8-5.1 7-5.1z"/>
<path fill="#ef6e21" d="M1170.9 812.1l-0.1-9.2 -0.7-9.1 -1.2-9.1 -1.8-9 -2.3-8.8 -2.9-8.6 -3.3-8.5 -3.9-8.2 -4.4-7.9 -4.8-7.6 -5.3-7.2 -5.8-6.8 -6.5-6.3 -5.7-3.3 2.2 6.2 4.1 7.6 4 7.5 3.6 7.6 3.3 7.7 3 7.8 2.5 7.9 2.2 8 1.8 8 1.4 8.1 1 8.2 0.6 8.1 0.2 8.2 -0.1 8.1zM922.2 667.6l-1.6-0.2 -8.5 2.8 -8 4.1 -7.7 4.7 -7.4 5.2 -7 5.7 -6.7 6.1 -6.3 6.6 -5.9 7 -5.4 7.3 -5.1 7.6 -4.5 8 -4.1 8.2 -3.6 8.4 -3 8.7 -2.6 8.8 -2 8.9 -1.4 9.1 -1 9.1 -0.3 9.2 0.2 9.2 18.6-0.6 0.1-8.1 0.5-8.2 1-8 1.3-8.1 1.7-7.9 2.1-7.9 2.5-7.7 2.8-7.7 3.3-7.5 3.6-7.4 3.9-7.2 4.3-7 4.7-6.8 5-6.7 5.3-6.4 5.6-6.2 6-6 6.2-5.9 6.4-5.6 6.4-6.1z"/>
<path fill="#f47918" d="M1170.3 812.1l-0.1-9.2 -0.7-9.1 -1.3-9 -1.8-8.9 -2.3-8.8 -2.9-8.6 -3.4-8.4 -3.9-8.1 -4.4-7.8 -5-7.5 -5.5-7.1 -6.4-6.3 -2.5-1 0.2 2.7 3.3 8 3.5 7.9 3.2 7.8 2.9 7.9 2.5 7.9 2.1 8.1 1.8 8.1 1.4 8.1 0.9 8.2 0.6 8.2 0.2 8.1 -0.2 8.2zM911.4 674.1l-6.3 1.6 -7.9 4.2 -7.5 5.1 -7.1 5.5 -6.7 6.1 -6.3 6.5 -5.9 6.9 -5.5 7.2 -5 7.6 -4.6 7.9 -4 8.2 -3.6 8.4 -3.1 8.6 -2.5 8.8 -2 9 -1.5 9 -0.9 9.1 -0.3 9.1 0.2 9.1 17.4-0.5 0.1-8.2 0.6-8.1 0.9-8.1 1.3-8.1 1.7-8 2.1-7.9 2.5-7.8 2.9-7.6 3.2-7.6 3.6-7.4 3.9-7.2 4.3-7.1 4.7-6.9 5-6.7 5.3-6.6 5.5-6.3 5.9-6.2 6-6.2z"/>
<path fill="#f8870e" d="M1169.7 812.0l-0.2-9.1 -0.7-9 -1.2-9 -1.9-8.9 -2.3-8.7 -2.9-8.6 -3.5-8.3 -4-8 -4.6-7.7 -5.2-7.3 -6.6-5.6 1.8 8.3 2.9 8.1 2.8 8 2.4 8 2.1 8.1 1.7 8.2 1.3 8.2 1 8.2 0.6 8.2 0.2 8.2 -0.2 8.2zM902.0 680.8l-3.6 0.7 -7.8 4.4 -7.2 5.4 -6.8 5.9 -6.3 6.4 -6 6.8 -5.5 7.2 -5 7.6 -4.6 7.8 -4 8.2 -3.6 8.3 -3.1 8.6 -2.5 8.8 -2 8.9 -1.5 9 -0.9 9 -0.3 9.1 0.2 9.1 16.1-0.5 0.2-8.2 0.6-8.2 0.9-8.1 1.3-8.1 1.7-8 2.1-7.9 2.5-7.9 2.9-7.7 3.2-7.6 3.6-7.4 3.9-7.3 4.3-7.2 4.6-7 5-6.8 5.2-6.6 5.5-6.6 5.5-6.8z"/>
<path fill="#fb960c" d="M1169.0 812.0l-0.1-9 -0.8-9.1 -1.2-8.9 -1.9-8.9 -2.4-8.6 -3-8.5 -3.5-8.2 -4.2-8 -4.9-7.4 -4.8-4.1 0.6 6.2 2.4 8.2 2.2 8.2 2 8.2 1.7 8.2 1.3 8.2 0.9 8.3 0.6 8.2 0.1 8.3 -0.2 8.3zM893.5 687.8l-1.3-0.1 -7.8 4.6 -7 5.6 -6.4 6.3 -6 6.7 -5.5 7.1 -5.1 7.5 -4.5 7.8 -4.1 8.1 -3.6 8.4 -3.1 8.5 -2.5 8.7 -2 8.9 -1.4 8.9 -0.9 9.1 -0.4 9 0.3 9.1 14.8-0.4 0.2-8.3 0.5-8.2 1-8.2 1.3-8.1 1.7-8.1 2.1-7.9 2.5-7.9 2.9-7.8 3.2-7.6 3.6-7.5 3.9-7.4 4.2-7.2 4.6-7 4.8-7 5.1-6.9 4.8-7.4z"/>
<path fill="#fca50c" d="M1168.4 812.0l-0.2-9 -0.8-9 -1.3-8.9 -1.9-8.8 -2.5-8.6 -3.1-8.4 -3.7-8.1 -4.7-7.6 -3.2-2.7 -0.2 4.1 1.8 8.5 1.8 8.3 1.6 8.3 1.2 8.3 0.9 8.3 0.5 8.3 0.1 8.3 -0.2 8.3zM885.7 695.2l-7.1 3.7 -6.7 6 -6.1 6.6 -5.6 7 -5.1 7.4 -4.6 7.8 -4.1 8 -3.6 8.3 -3 8.5 -2.6 8.7 -1.9 8.8 -1.5 8.9 -0.9 9 -0.3 9.1 0.3 9 13.4-0.4 0.2-8.3 0.5-8.3 1-8.2 1.4-8.1 1.7-8.1 2.1-8 2.5-7.9 2.8-7.8 3.2-7.7 3.6-7.6 3.8-7.4 4.2-7.3 4.5-7.3 4.6-7.2z"/>
<path fill="#fcb418" d="M1167.6 812.0l-0.2-9 -0.8-9 -1.4-8.8 -1.9-8.7 -2.6-8.6 -3.4-8.2 -4.4-7.8 -1.7-1.1 -0.6 1.9 1.1 8.7 1.3 8.4 1.1 8.4 0.8 8.4 0.5 8.3 0.1 8.4 -0.3 8.3zM878.3 703.1l-5.1 2.8 -6.4 6.3 -5.7 6.9 -5.2 7.3 -4.6 7.6 -4.2 8 -3.6 8.2 -3 8.5 -2.6 8.6 -1.9 8.8 -1.5 8.9 -0.8 9 -0.3 9 0.2 9 11.9-0.4 0.2-8.3 0.6-8.3 1-8.3 1.4-8.2 1.7-8.1 2.1-8 2.5-8 2.8-7.8 3.2-7.8 3.5-7.6 3.8-7.6 4.1-7.4 4.1-7.6z"/>
<path fill="#fac42a" d="M1166.8 811.9l-0.2-8.9 -0.9-8.9 -1.4-8.8 -2.2-8.6 -2.9-8.4 -4.4-7 -0.4 8.2 0.9 8.5 0.6 8.4 0.4 8.5 0 8.4 -0.3 8.3zM871.3 711.8l-3 1.5 -6.1 6.4 -5.3 7.2 -4.8 7.6 -4.1 7.9 -3.7 8.1 -3.1 8.4 -2.5 8.6 -2 8.8 -1.4 8.8 -0.9 9 -0.2 8.9 0.3 8.9 10.2-0.3 0.2-8.3 0.7-8.4 0.9-8.3 1.4-8.2 1.7-8.2 2.1-8.1 2.5-8 2.8-7.9 3.1-7.8 3.4-7.8 3.7-7.7 3.6-7.8z"/>
<path fill="#f7d340" d="M1165.9 811.9l-0.3-8.9 -1-8.8 -1.6-8.7 -2.6-8.5 -2.6-4 -0.8 4.7 0.2 8.6 0.2 8.5 -0.1 8.4 -0.3 8.4zM864.5 721.7l-6.4 5.9 -4.9 7.4 -4.3 7.8 -3.7 8.1 -3.1 8.3 -2.6 8.5 -1.9 8.7 -1.5 8.8 -0.8 8.9 -0.2 8.9 0.4 8.9 8.2-0.2 0.3-8.5 0.7-8.3 1-8.4 1.4-8.3 1.7-8.2 2.1-8.1 2.4-8.1 2.7-8 3.1-7.9 3.2-8z"/>
<path fill="#f3e35a" d="M1164.8 811.9l-0.5-8.8 -1.2-8.8 -2.9-7.9 -1.3 8.3 -0.3 8.5 -0.5 8.5zM857.5 733.6l-2.6 2.2 -4.7 7.5 -3.9 8 -3.2 8.2 -2.5 8.5 -2 8.6 -1.4 8.8 -0.8 8.8 -0.2 8.9 0.6 8.8 5.6-0.2 0.5-8.5 0.7-8.4 1.1-8.4 1.4-8.4 1.7-8.2 2-8.2 2.4-8.2 2.6-8.1 2.5-8.3z"/>
<path fill="#f1f179" d="M1163.0 811.8l-1.5-7.5 -1.7 7.4zM850.1 750.0l-1.8 2 -3.6 8 -2.8 8.3 -2 8.6 -1.3 8.7 -0.7 8.7 0.1 8.8 1.5 6.5 1.6-6.4 1-8.5 1.2-8.5 1.4-8.4 1.7-8.4 1.9-8.3 1.9-8.4z"/>
</g><use href="#rd" transform="rotate(180 1000.5 807.0)"/></g>
<line x1="1008.5" y1="576.3" x2="1008.5" y2="1037.7" stroke="#fff" stroke-opacity="0.7" stroke-width="1.2" stroke-dasharray="1.6 1.6"/>
<line x1="768.6" y1="808.6" x2="1232.6" y2="808.6" stroke="#fff" stroke-opacity="0.7" stroke-width="1.2" stroke-dasharray="1.6 1.6"/>
<text x="783.0" y="623.5" font-family="Liberation Sans" font-size="41" font-weight="bold" fill="#fff">d</text>
<rect x="769.2" y="576.9" width="462.8" height="460.2" fill="none" stroke="#000" stroke-width="1.2"/>
</g>
<text x="113.0" y="587.9" font-family="Liberation Sans" font-size="29" text-anchor="end">2.0</text>
<text x="113.0" y="644.7" font-family="Liberation Sans" font-size="29" text-anchor="end">1.5</text>
<text x="113.0" y="701.4" font-family="Liberation Sans" font-size="29" text-anchor="end">1.0</text>
<text x="113.0" y="758.2" font-family="Liberation Sans" font-size="29" text-anchor="end">0.5</text>
<text x="113.0" y="814.9" font-family="Liberation Sans" font-size="29" text-anchor="end">0.0</text>
<text x="113.0" y="871.7" font-family="Liberation Sans" font-size="29" text-anchor="end">−0.5</text>
<text x="113.0" y="928.5" font-family="Liberation Sans" font-size="29" text-anchor="end">−1.0</text>
<text x="113.0" y="985.2" font-family="Liberation Sans" font-size="29" text-anchor="end">−1.5</text>
<text x="113.0" y="1042.0" font-family="Liberation Sans" font-size="29" text-anchor="end">−2.0</text>
<text x="128.1" y="1073.8" font-family="Liberation Sans" font-size="29" text-anchor="middle">−2</text>
<text x="244.4" y="1073.8" font-family="Liberation Sans" font-size="29" text-anchor="middle">−1</text>
<text x="360.7" y="1073.8" font-family="Liberation Sans" font-size="29" text-anchor="middle">0</text>
<text x="477.0" y="1073.8" font-family="Liberation Sans" font-size="29" text-anchor="middle">1</text>
<text x="593.3" y="1073.8" font-family="Liberation Sans" font-size="29" text-anchor="middle">2</text>
<text x="751.0" y="585.4" font-family="Liberation Sans" font-size="29" text-anchor="end">2.0</text>
<text x="751.0" y="642.7" font-family="Liberation Sans" font-size="29" text-anchor="end">1.5</text>
<text x="751.0" y="700.0" font-family="Liberation Sans" font-size="29" text-anchor="end">1.0</text>
<text x="751.0" y="757.3" font-family="Liberation Sans" font-size="29" text-anchor="end">0.5</text>
<text x="751.0" y="814.6" font-family="Liberation Sans" font-size="29" text-anchor="end">0.0</text>
<text x="751.0" y="871.9" font-family="Liberation Sans" font-size="29" text-anchor="end">−0.5</text>
<text x="751.0" y="929.2" font-family="Liberation Sans" font-size="29" text-anchor="end">−1.0</text>
<text x="751.0" y="986.5" font-family="Liberation Sans" font-size="29" text-anchor="end">−1.5</text>
<text x="751.0" y="1043.8" font-family="Liberation Sans" font-size="29" text-anchor="end">−2.0</text>
<text x="766.3" y="1073.8" font-family="Liberation Sans" font-size="29" text-anchor="middle">−2</text>
<text x="882.3" y="1073.8" font-family="Liberation Sans" font-size="29" text-anchor="middle">−1</text>
<text x="998.3" y="1073.8" font-family="Liberation Sans" font-size="29" text-anchor="middle">0</text>
<text x="1114.3" y="1073.8" font-family="Liberation Sans" font-size="29" text-anchor="middle">1</text>
<text x="1230.3" y="1073.8" font-family="Liberation Sans" font-size="29" text-anchor="middle">2</text>
<text x="307.0" y="1124.5" font-family="Liberation Sans" font-size="29"><tspan font-style="italic">k</tspan><tspan font-style="italic" font-size="21" dy="7">x</tspan><tspan dy="-7"> (a.u.)</tspan></text>
<text x="951.0" y="1124.5" font-family="Liberation Sans" font-size="29"><tspan font-style="italic">k</tspan><tspan font-style="italic" font-size="21" dy="7">x</tspan><tspan dy="-7"> (a.u.)</tspan></text>
<text transform="translate(23.0 802.3) rotate(-90)" font-family="Liberation Sans" font-size="29" text-anchor="middle"><tspan font-style="italic">k</tspan><tspan font-style="italic" font-size="21" dy="7">y</tspan><tspan dy="-7"> (a.u.)</tspan></text>
<text transform="translate(656.0 805.3) rotate(-90)" font-family="Liberation Sans" font-size="29" text-anchor="middle"><tspan font-style="italic">k</tspan><tspan font-style="italic" font-size="21" dy="7">y</tspan><tspan dy="-7"> (a.u.)</tspan></text>
<defs><linearGradient id="cb" x1="0" y1="0" x2="0" y2="1"><stop offset="0.000" stop-color="#fcffa4"/><stop offset="0.050" stop-color="#f1ef75"/><stop offset="0.100" stop-color="#f6d746"/><stop offset="0.150" stop-color="#fbbe23"/><stop offset="0.200" stop-color="#fca50c"/><stop offset="0.250" stop-color="#f98e0c"/><stop offset="0.300" stop-color="#f37819"/><stop offset="0.350" stop-color="#ea632a"/><stop offset="0.400" stop-color="#dd513a"/><stop offset="0.450" stop-color="#cc4248"/><stop offset="0.500" stop-color="#bc3754"/><stop offset="0.550" stop-color="#a82e5f"/><stop offset="0.600" stop-color="#932667"/><stop offset="0.650" stop-color="#7f1e6c"/><stop offset="0.700" stop-color="#6a176e"/><stop offset="0.750" stop-color="#57106e"/><stop offset="0.800" stop-color="#420a68"/><stop offset="0.850" stop-color="#2b0b57"/><stop offset="0.900" stop-color="#160b39"/><stop offset="0.950" stop-color="#0b0a1b"/><stop offset="1.000" stop-color="#0b0a0c"/></linearGradient></defs>
<rect x="1261" y="577.2" width="23.6" height="460" fill="url(#cb)" stroke="#000" stroke-width="1.6"/>
<text x="1299.2" y="585.8" font-family="Liberation Sans" font-size="29">1.0</text>
<text x="1299.2" y="700.5" font-family="Liberation Sans" font-size="29">0.75</text>
<line x1="1280.5" x2="1284.7" y1="692.2" y2="692.2" stroke="#000" stroke-width="1.2"/>
<text x="1299.2" y="815.2" font-family="Liberation Sans" font-size="29">0.5</text>
<line x1="1280.5" x2="1284.7" y1="807.2" y2="807.2" stroke="#000" stroke-width="1.2"/>
<text x="1299.2" y="929.9" font-family="Liberation Sans" font-size="29">0.25</text>
<line x1="1280.5" x2="1284.7" y1="922.2" y2="922.2" stroke="#000" stroke-width="1.2"/>
<text x="1299.2" y="1044.6" font-family="Liberation Sans" font-size="29">0.0</text>
<text transform="translate(1402 808.3) rotate(-90)" font-family="Liberation Sans" font-size="29" text-anchor="middle">Normalized signal</text>
</svg></body></html>
